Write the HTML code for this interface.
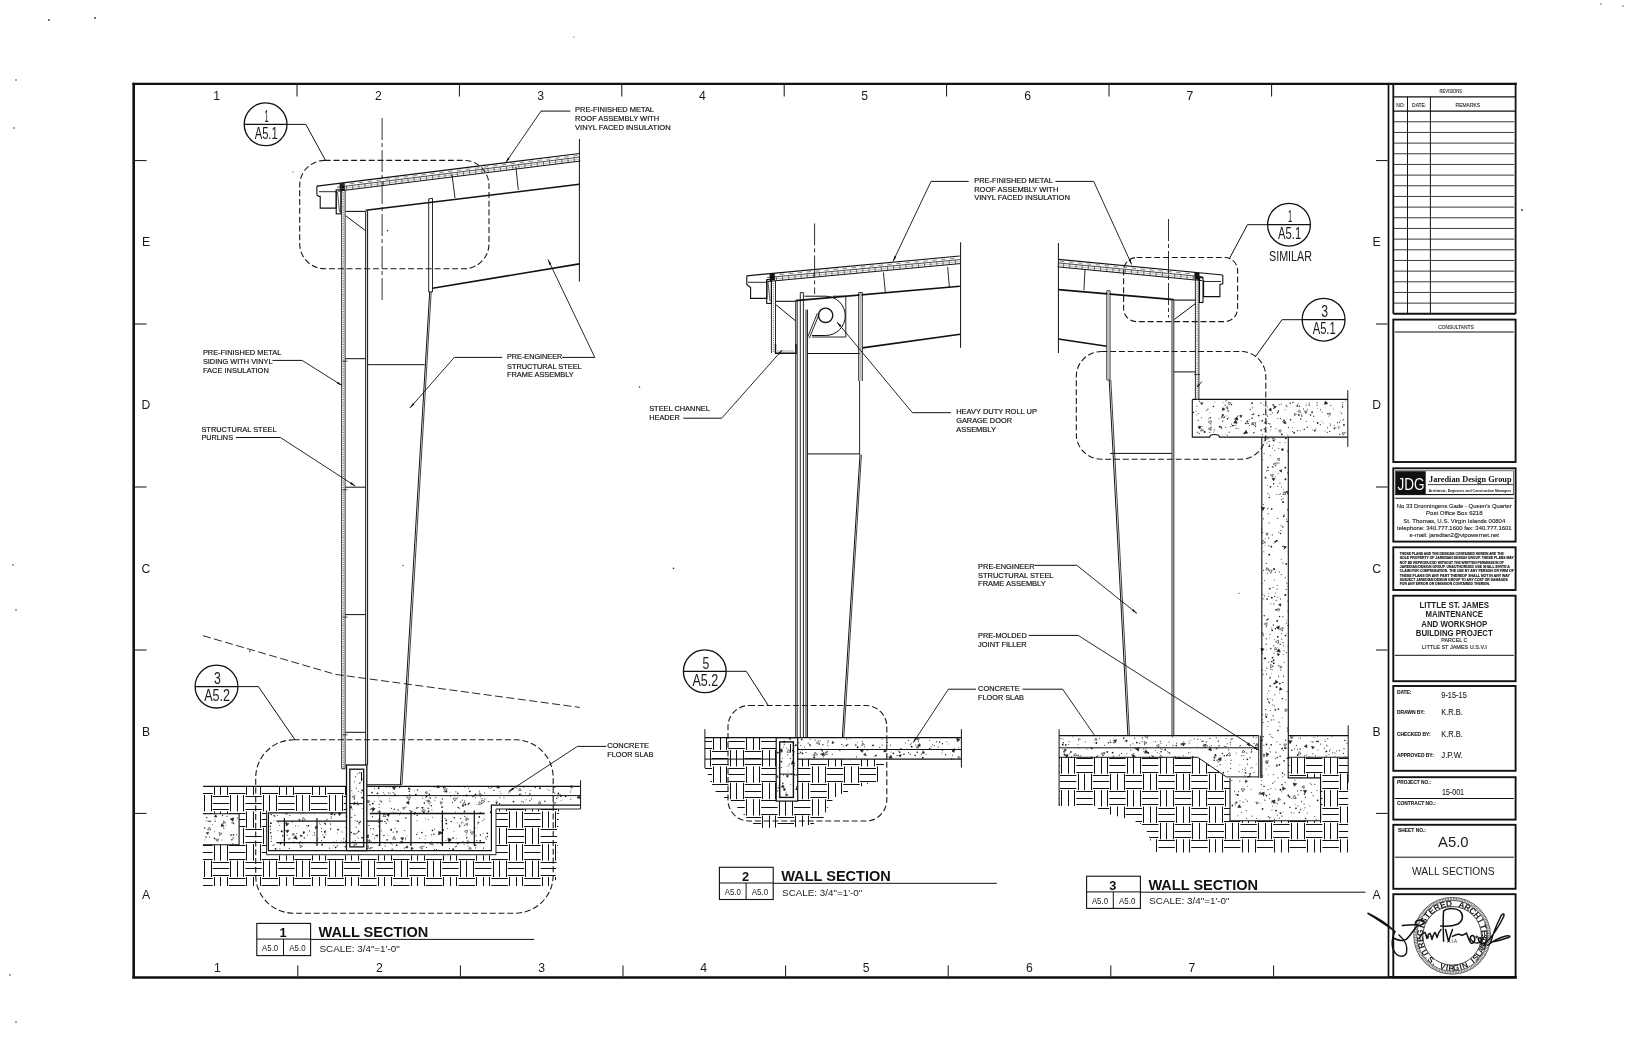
<!DOCTYPE html>
<html><head><meta charset="utf-8"><style>
html,body{margin:0;padding:0;background:#fff;}
svg{display:block;will-change:transform;}
</style></head><body>
<svg width="1627" height="1064" viewBox="0 0 1627 1064">
<defs></defs>
<rect width="1627" height="1064" fill="#fff"/>
<line x1="132.4" y1="83.8" x2="1516.7" y2="83.8" stroke="#111" stroke-width="2.3" stroke-linecap="butt"/>
<line x1="133.7" y1="82.7" x2="133.7" y2="978.3" stroke="#111" stroke-width="2.6" stroke-linecap="butt"/>
<line x1="132.4" y1="977.4" x2="1516.7" y2="977.4" stroke="#111" stroke-width="2.5" stroke-linecap="butt"/>
<line x1="1515.6" y1="82.7" x2="1515.6" y2="313.8" stroke="#111" stroke-width="1.8" stroke-linecap="butt"/>
<line x1="1388.5" y1="977" x2="1516.5" y2="977" stroke="#111" stroke-width="1.8" stroke-linecap="butt"/>
<line x1="1388.5" y1="83" x2="1388.5" y2="978" stroke="#111" stroke-width="1.7" stroke-linecap="butt"/>
<line x1="1393.3" y1="83" x2="1393.3" y2="313.8" stroke="#111" stroke-width="1.8" stroke-linecap="butt"/>
<line x1="297" y1="85" x2="297" y2="96.5" stroke="#111" stroke-width="1" stroke-linecap="butt"/>
<line x1="297.8" y1="965.5" x2="297.8" y2="976.5" stroke="#111" stroke-width="1" stroke-linecap="butt"/>
<line x1="459.4" y1="85" x2="459.4" y2="96.5" stroke="#111" stroke-width="1" stroke-linecap="butt"/>
<line x1="460.4" y1="965.5" x2="460.4" y2="976.5" stroke="#111" stroke-width="1" stroke-linecap="butt"/>
<line x1="621.8" y1="85" x2="621.8" y2="96.5" stroke="#111" stroke-width="1" stroke-linecap="butt"/>
<line x1="623" y1="965.5" x2="623" y2="976.5" stroke="#111" stroke-width="1" stroke-linecap="butt"/>
<line x1="784.2" y1="85" x2="784.2" y2="96.5" stroke="#111" stroke-width="1" stroke-linecap="butt"/>
<line x1="785.6" y1="965.5" x2="785.6" y2="976.5" stroke="#111" stroke-width="1" stroke-linecap="butt"/>
<line x1="946.6" y1="85" x2="946.6" y2="96.5" stroke="#111" stroke-width="1" stroke-linecap="butt"/>
<line x1="948.2" y1="965.5" x2="948.2" y2="976.5" stroke="#111" stroke-width="1" stroke-linecap="butt"/>
<line x1="1109" y1="85" x2="1109" y2="96.5" stroke="#111" stroke-width="1" stroke-linecap="butt"/>
<line x1="1110.8" y1="965.5" x2="1110.8" y2="976.5" stroke="#111" stroke-width="1" stroke-linecap="butt"/>
<line x1="1271.6" y1="85" x2="1271.6" y2="96.5" stroke="#111" stroke-width="1" stroke-linecap="butt"/>
<line x1="1273.6" y1="965.5" x2="1273.6" y2="976.5" stroke="#111" stroke-width="1" stroke-linecap="butt"/>
<line x1="135" y1="160.6" x2="146.5" y2="160.6" stroke="#111" stroke-width="1" stroke-linecap="butt"/>
<line x1="1376" y1="160.6" x2="1387.6" y2="160.6" stroke="#111" stroke-width="1" stroke-linecap="butt"/>
<line x1="135" y1="324" x2="146.5" y2="324" stroke="#111" stroke-width="1" stroke-linecap="butt"/>
<line x1="1376" y1="324" x2="1387.6" y2="324" stroke="#111" stroke-width="1" stroke-linecap="butt"/>
<line x1="135" y1="487" x2="146.5" y2="487" stroke="#111" stroke-width="1" stroke-linecap="butt"/>
<line x1="1376" y1="487" x2="1387.6" y2="487" stroke="#111" stroke-width="1" stroke-linecap="butt"/>
<line x1="135" y1="650" x2="146.5" y2="650" stroke="#111" stroke-width="1" stroke-linecap="butt"/>
<line x1="1376" y1="650" x2="1387.6" y2="650" stroke="#111" stroke-width="1" stroke-linecap="butt"/>
<line x1="135" y1="813.4" x2="146.5" y2="813.4" stroke="#111" stroke-width="1" stroke-linecap="butt"/>
<line x1="1376" y1="813.4" x2="1387.6" y2="813.4" stroke="#111" stroke-width="1" stroke-linecap="butt"/>
<text x="216.6" y="99.5" font-family="Liberation Sans" font-size="12.2" font-weight="normal" fill="#1a1a1a" text-anchor="middle">1</text>
<text x="217.3" y="971.6" font-family="Liberation Sans" font-size="12.2" font-weight="normal" fill="#1a1a1a" text-anchor="middle">1</text>
<text x="378.5" y="99.5" font-family="Liberation Sans" font-size="12.2" font-weight="normal" fill="#1a1a1a" text-anchor="middle">2</text>
<text x="379.4" y="971.6" font-family="Liberation Sans" font-size="12.2" font-weight="normal" fill="#1a1a1a" text-anchor="middle">2</text>
<text x="540.6" y="99.5" font-family="Liberation Sans" font-size="12.2" font-weight="normal" fill="#1a1a1a" text-anchor="middle">3</text>
<text x="541.7" y="971.6" font-family="Liberation Sans" font-size="12.2" font-weight="normal" fill="#1a1a1a" text-anchor="middle">3</text>
<text x="702.4" y="99.5" font-family="Liberation Sans" font-size="12.2" font-weight="normal" fill="#1a1a1a" text-anchor="middle">4</text>
<text x="703.7" y="971.6" font-family="Liberation Sans" font-size="12.2" font-weight="normal" fill="#1a1a1a" text-anchor="middle">4</text>
<text x="864.7" y="99.5" font-family="Liberation Sans" font-size="12.2" font-weight="normal" fill="#1a1a1a" text-anchor="middle">5</text>
<text x="866.2" y="971.6" font-family="Liberation Sans" font-size="12.2" font-weight="normal" fill="#1a1a1a" text-anchor="middle">5</text>
<text x="1027.6" y="99.5" font-family="Liberation Sans" font-size="12.2" font-weight="normal" fill="#1a1a1a" text-anchor="middle">6</text>
<text x="1029.3" y="971.6" font-family="Liberation Sans" font-size="12.2" font-weight="normal" fill="#1a1a1a" text-anchor="middle">6</text>
<text x="1190" y="99.5" font-family="Liberation Sans" font-size="12.2" font-weight="normal" fill="#1a1a1a" text-anchor="middle">7</text>
<text x="1191.9" y="971.6" font-family="Liberation Sans" font-size="12.2" font-weight="normal" fill="#1a1a1a" text-anchor="middle">7</text>
<text x="146" y="246.3" font-family="Liberation Sans" font-size="12.2" font-weight="normal" fill="#1a1a1a" text-anchor="middle">E</text>
<text x="1376.6" y="246.3" font-family="Liberation Sans" font-size="12.2" font-weight="normal" fill="#1a1a1a" text-anchor="middle">E</text>
<text x="146" y="409.3" font-family="Liberation Sans" font-size="12.2" font-weight="normal" fill="#1a1a1a" text-anchor="middle">D</text>
<text x="1376.6" y="409.3" font-family="Liberation Sans" font-size="12.2" font-weight="normal" fill="#1a1a1a" text-anchor="middle">D</text>
<text x="146" y="572.7" font-family="Liberation Sans" font-size="12.2" font-weight="normal" fill="#1a1a1a" text-anchor="middle">C</text>
<text x="1376.6" y="572.7" font-family="Liberation Sans" font-size="12.2" font-weight="normal" fill="#1a1a1a" text-anchor="middle">C</text>
<text x="146" y="735.9" font-family="Liberation Sans" font-size="12.2" font-weight="normal" fill="#1a1a1a" text-anchor="middle">B</text>
<text x="1376.6" y="735.9" font-family="Liberation Sans" font-size="12.2" font-weight="normal" fill="#1a1a1a" text-anchor="middle">B</text>
<text x="146" y="899.1" font-family="Liberation Sans" font-size="12.2" font-weight="normal" fill="#1a1a1a" text-anchor="middle">A</text>
<text x="1376.6" y="899.1" font-family="Liberation Sans" font-size="12.2" font-weight="normal" fill="#1a1a1a" text-anchor="middle">A</text>
<line x1="1393.3" y1="96.8" x2="1515.6" y2="96.8" stroke="#111" stroke-width="1.2" stroke-linecap="butt"/>
<line x1="1393.3" y1="111.1" x2="1515.6" y2="111.1" stroke="#111" stroke-width="1.2" stroke-linecap="butt"/>
<text x="1450.8" y="92.8" font-family="Liberation Sans" font-size="5" font-weight="normal" fill="#222" text-anchor="middle" textLength="22.5" lengthAdjust="spacingAndGlyphs" stroke="#222" stroke-width="0.1">REVISIONS</text>
<text x="1396.2" y="106.6" font-family="Liberation Sans" font-size="5" font-weight="normal" fill="#222" text-anchor="start" textLength="8.8" lengthAdjust="spacingAndGlyphs" stroke="#222" stroke-width="0.1">NO:</text>
<text x="1412.1" y="106.6" font-family="Liberation Sans" font-size="5" font-weight="normal" fill="#222" text-anchor="start" textLength="14.2" lengthAdjust="spacingAndGlyphs" stroke="#222" stroke-width="0.1">DATE:</text>
<text x="1455.6" y="106.6" font-family="Liberation Sans" font-size="5" font-weight="normal" fill="#222" text-anchor="start" textLength="24.5" lengthAdjust="spacingAndGlyphs" stroke="#222" stroke-width="0.1">REMARKS</text>
<line x1="1407.5" y1="96.8" x2="1407.5" y2="313.8" stroke="#111" stroke-width="1" stroke-linecap="butt"/>
<line x1="1430.4" y1="96.8" x2="1430.4" y2="313.8" stroke="#111" stroke-width="1" stroke-linecap="butt"/>
<line x1="1393.3" y1="121.77" x2="1514.1" y2="121.77" stroke="#222" stroke-width="0.9" stroke-linecap="butt"/>
<line x1="1393.3" y1="132.44" x2="1514.1" y2="132.44" stroke="#222" stroke-width="0.9" stroke-linecap="butt"/>
<line x1="1393.3" y1="143.11" x2="1514.1" y2="143.11" stroke="#222" stroke-width="0.9" stroke-linecap="butt"/>
<line x1="1393.3" y1="153.77" x2="1514.1" y2="153.77" stroke="#222" stroke-width="0.9" stroke-linecap="butt"/>
<line x1="1393.3" y1="164.44" x2="1514.1" y2="164.44" stroke="#222" stroke-width="0.9" stroke-linecap="butt"/>
<line x1="1393.3" y1="175.11" x2="1514.1" y2="175.11" stroke="#222" stroke-width="0.9" stroke-linecap="butt"/>
<line x1="1393.3" y1="185.78" x2="1514.1" y2="185.78" stroke="#222" stroke-width="0.9" stroke-linecap="butt"/>
<line x1="1393.3" y1="196.45" x2="1514.1" y2="196.45" stroke="#222" stroke-width="0.9" stroke-linecap="butt"/>
<line x1="1393.3" y1="207.12" x2="1514.1" y2="207.12" stroke="#222" stroke-width="0.9" stroke-linecap="butt"/>
<line x1="1393.3" y1="217.78" x2="1514.1" y2="217.78" stroke="#222" stroke-width="0.9" stroke-linecap="butt"/>
<line x1="1393.3" y1="228.45" x2="1514.1" y2="228.45" stroke="#222" stroke-width="0.9" stroke-linecap="butt"/>
<line x1="1393.3" y1="239.12" x2="1514.1" y2="239.12" stroke="#222" stroke-width="0.9" stroke-linecap="butt"/>
<line x1="1393.3" y1="249.79" x2="1514.1" y2="249.79" stroke="#222" stroke-width="0.9" stroke-linecap="butt"/>
<line x1="1393.3" y1="260.46" x2="1514.1" y2="260.46" stroke="#222" stroke-width="0.9" stroke-linecap="butt"/>
<line x1="1393.3" y1="271.13" x2="1514.1" y2="271.13" stroke="#222" stroke-width="0.9" stroke-linecap="butt"/>
<line x1="1393.3" y1="281.79" x2="1514.1" y2="281.79" stroke="#222" stroke-width="0.9" stroke-linecap="butt"/>
<line x1="1393.3" y1="292.46" x2="1514.1" y2="292.46" stroke="#222" stroke-width="0.9" stroke-linecap="butt"/>
<line x1="1393.3" y1="303.13" x2="1514.1" y2="303.13" stroke="#222" stroke-width="0.9" stroke-linecap="butt"/>
<line x1="1393.3" y1="313.8" x2="1515.6" y2="313.8" stroke="#111" stroke-width="2" stroke-linecap="butt"/>
<rect x="1393.3" y="319.6" width="122.3" height="142.4" fill="none" stroke="#111" stroke-width="1.9"/>
<line x1="1394.8" y1="332" x2="1513.9" y2="332" stroke="#111" stroke-width="1" stroke-linecap="butt"/>
<text x="1456" y="328.6" font-family="Liberation Sans" font-size="5" font-weight="normal" fill="#222" text-anchor="middle" textLength="35.5" lengthAdjust="spacingAndGlyphs" stroke="#222" stroke-width="0.1">CONSULTANTS</text>
<rect x="1393.3" y="468.3" width="122.3" height="73.3" fill="none" stroke="#111" stroke-width="1.9"/>
<rect x="1395.6" y="471.2" width="30.1" height="23.2" fill="#111" stroke="#111" stroke-width="0"/>
<text x="1410.9" y="489.6" font-family="Liberation Sans" font-size="17" font-weight="normal" fill="#fff" text-anchor="middle" textLength="27" lengthAdjust="spacingAndGlyphs">JDG</text>
<text x="1429" y="481.6" font-family="Liberation Serif" font-size="9.2" font-weight="bold" fill="#111" text-anchor="start" textLength="82.5" lengthAdjust="spacingAndGlyphs">Jaredian Design Group</text>
<line x1="1428" y1="484.6" x2="1513" y2="484.6" stroke="#111" stroke-width="0.8" stroke-linecap="butt"/>
<text x="1428.8" y="491.6" font-family="Liberation Sans" font-size="4.4" font-weight="bold" fill="#111" text-anchor="start" textLength="82.5" lengthAdjust="spacingAndGlyphs">Architects, Engineers and Construction Managers</text>
<rect x="1395.6" y="470.8" width="118" height="23.8" fill="none" stroke="#333" stroke-width="0.7"/>
<line x1="1395.2" y1="494.6" x2="1513.8" y2="494.6" stroke="#111" stroke-width="1" stroke-linecap="butt"/>
<line x1="1395.2" y1="498.3" x2="1513.8" y2="498.3" stroke="#111" stroke-width="1.1" stroke-linecap="butt"/>
<text x="1454.3" y="508.3" font-family="Liberation Sans" font-size="6" font-weight="normal" fill="#1a1a1a" text-anchor="middle" textLength="115" lengthAdjust="spacingAndGlyphs" stroke="#1a1a1a" stroke-width="0.12">No 33 Dronningens Gade - Queen's Quarter</text>
<text x="1454.3" y="515.4" font-family="Liberation Sans" font-size="6" font-weight="normal" fill="#1a1a1a" text-anchor="middle" textLength="56.5" lengthAdjust="spacingAndGlyphs" stroke="#1a1a1a" stroke-width="0.12">Post Office Box 6218</text>
<text x="1454.3" y="522.5" font-family="Liberation Sans" font-size="6" font-weight="normal" fill="#1a1a1a" text-anchor="middle" textLength="102" lengthAdjust="spacingAndGlyphs" stroke="#1a1a1a" stroke-width="0.12">St. Thomas, U.S. Virgin Islands 00804</text>
<text x="1454.3" y="529.6" font-family="Liberation Sans" font-size="6" font-weight="normal" fill="#1a1a1a" text-anchor="middle" textLength="114.5" lengthAdjust="spacingAndGlyphs" stroke="#1a1a1a" stroke-width="0.12">telephone: 340.777.1600 fax: 340.777.1601</text>
<text x="1454.3" y="536.9" font-family="Liberation Sans" font-size="6" font-weight="normal" fill="#1a1a1a" text-anchor="middle" textLength="89.5" lengthAdjust="spacingAndGlyphs" stroke="#1a1a1a" stroke-width="0.12">e-mail: jaredian2@vipowernet.net</text>
<rect x="1393.3" y="547.3" width="122.3" height="42.7" fill="none" stroke="#111" stroke-width="1.9"/>
<text x="1399.8" y="555" font-family="Liberation Sans" font-size="3.6" font-weight="bold" fill="#111" text-anchor="start" textLength="104" lengthAdjust="spacingAndGlyphs" stroke="#111" stroke-width="0.12">THESE PLANS AND THE DESIGNS CONTAINED HEREIN ARE THE</text>
<text x="1399.8" y="559.3" font-family="Liberation Sans" font-size="3.6" font-weight="bold" fill="#111" text-anchor="start" textLength="114" lengthAdjust="spacingAndGlyphs" stroke="#111" stroke-width="0.12">SOLE PROPERTY OF JAREDIAN DESIGN GROUP.  THESE PLANS MAY</text>
<text x="1399.8" y="563.6" font-family="Liberation Sans" font-size="3.6" font-weight="bold" fill="#111" text-anchor="start" textLength="104" lengthAdjust="spacingAndGlyphs" stroke="#111" stroke-width="0.12">NOT BE REPRODUCED WITHOUT THE WRITTEN PERMISSION OF</text>
<text x="1399.8" y="567.9" font-family="Liberation Sans" font-size="3.6" font-weight="bold" fill="#111" text-anchor="start" textLength="110" lengthAdjust="spacingAndGlyphs" stroke="#111" stroke-width="0.12">JAREDIAN DESIGN GROUP. UNAUTHORIZED USE SHALL INVITE A</text>
<text x="1399.8" y="572.2" font-family="Liberation Sans" font-size="3.6" font-weight="bold" fill="#111" text-anchor="start" textLength="114" lengthAdjust="spacingAndGlyphs" stroke="#111" stroke-width="0.12">CLAIM FOR COMPENSATION. THE USE BY ANY PERSON OR FIRM OF</text>
<text x="1399.8" y="576.5" font-family="Liberation Sans" font-size="3.6" font-weight="bold" fill="#111" text-anchor="start" textLength="110" lengthAdjust="spacingAndGlyphs" stroke="#111" stroke-width="0.12">THESE PLANS OR ANY PART THEREOF SHALL NOT IN ANY WAY</text>
<text x="1399.8" y="580.8" font-family="Liberation Sans" font-size="3.6" font-weight="bold" fill="#111" text-anchor="start" textLength="108" lengthAdjust="spacingAndGlyphs" stroke="#111" stroke-width="0.12">SUBJECT JAREDIAN DESIGN GROUP TO ANY COST OR DAMAGES</text>
<text x="1399.8" y="585.1" font-family="Liberation Sans" font-size="3.6" font-weight="bold" fill="#111" text-anchor="start" textLength="90" lengthAdjust="spacingAndGlyphs" stroke="#111" stroke-width="0.12">FOR ANY ERROR OR OMISSION CONTAINED THEREIN.</text>
<rect x="1393.3" y="595.7" width="122.3" height="85.5" fill="none" stroke="#111" stroke-width="1.9"/>
<line x1="1394.8" y1="655.3" x2="1513.9" y2="655.3" stroke="#111" stroke-width="1" stroke-linecap="butt"/>
<text x="1454.3" y="608.2" font-family="Liberation Sans" font-size="8.6" font-weight="bold" fill="#222" text-anchor="middle" textLength="69.5" lengthAdjust="spacingAndGlyphs">LITTLE ST. JAMES</text>
<text x="1454.3" y="617.3" font-family="Liberation Sans" font-size="8.6" font-weight="bold" fill="#222" text-anchor="middle" textLength="57.5" lengthAdjust="spacingAndGlyphs">MAINTENANCE</text>
<text x="1454.3" y="626.5" font-family="Liberation Sans" font-size="8.6" font-weight="bold" fill="#222" text-anchor="middle" textLength="66" lengthAdjust="spacingAndGlyphs">AND WORKSHOP</text>
<text x="1454.3" y="635.6" font-family="Liberation Sans" font-size="8.6" font-weight="bold" fill="#222" text-anchor="middle" textLength="77" lengthAdjust="spacingAndGlyphs">BUILDING PROJECT</text>
<text x="1454.3" y="642.4" font-family="Liberation Sans" font-size="5.6" font-weight="normal" fill="#222" text-anchor="middle" textLength="26" lengthAdjust="spacingAndGlyphs" stroke="#222" stroke-width="0.15">PARCEL C</text>
<text x="1454.3" y="649.4" font-family="Liberation Sans" font-size="5.6" font-weight="normal" fill="#222" text-anchor="middle" textLength="65" lengthAdjust="spacingAndGlyphs" stroke="#222" stroke-width="0.15">LITTLE ST JAMES  U.S.V.I</text>
<rect x="1393.3" y="686" width="122.3" height="84.8" fill="none" stroke="#111" stroke-width="1.9"/>
<text x="1396.9" y="694.4" font-family="Liberation Sans" font-size="5" font-weight="bold" fill="#222" text-anchor="start" textLength="14.6" lengthAdjust="spacingAndGlyphs" stroke="#222" stroke-width="0.12">DATE:</text>
<text x="1396.9" y="714.2" font-family="Liberation Sans" font-size="5" font-weight="bold" fill="#222" text-anchor="start" textLength="28" lengthAdjust="spacingAndGlyphs" stroke="#222" stroke-width="0.12">DRAWN BY:</text>
<text x="1396.9" y="735.6" font-family="Liberation Sans" font-size="5" font-weight="bold" fill="#222" text-anchor="start" textLength="33.7" lengthAdjust="spacingAndGlyphs" stroke="#222" stroke-width="0.12">CHECKED BY:</text>
<text x="1396.9" y="757" font-family="Liberation Sans" font-size="5" font-weight="bold" fill="#222" text-anchor="start" textLength="37" lengthAdjust="spacingAndGlyphs" stroke="#222" stroke-width="0.12">APPROVED BY:</text>
<text x="1441.3" y="698.2" font-family="Liberation Sans" font-size="8.2" font-weight="normal" fill="#222" text-anchor="start" textLength="25.5" lengthAdjust="spacingAndGlyphs" stroke="#222" stroke-width="0.1">9-15-15</text>
<text x="1441.3" y="715.3" font-family="Liberation Sans" font-size="8.2" font-weight="normal" fill="#222" text-anchor="start" textLength="21.5" lengthAdjust="spacingAndGlyphs" stroke="#222" stroke-width="0.1">K.R.B.</text>
<text x="1441.3" y="736.9" font-family="Liberation Sans" font-size="8.2" font-weight="normal" fill="#222" text-anchor="start" textLength="21.5" lengthAdjust="spacingAndGlyphs" stroke="#222" stroke-width="0.1">K.R.B.</text>
<text x="1441.3" y="758.2" font-family="Liberation Sans" font-size="8.2" font-weight="normal" fill="#222" text-anchor="start" textLength="21.5" lengthAdjust="spacingAndGlyphs" stroke="#222" stroke-width="0.1">J.P.W.</text>
<rect x="1393.3" y="777.2" width="122.3" height="42.4" fill="none" stroke="#111" stroke-width="1.9"/>
<line x1="1394.8" y1="798.5" x2="1513.9" y2="798.5" stroke="#111" stroke-width="1" stroke-linecap="butt"/>
<text x="1397.1" y="784" font-family="Liberation Sans" font-size="5" font-weight="bold" fill="#222" text-anchor="start" textLength="34" lengthAdjust="spacingAndGlyphs" stroke="#222" stroke-width="0.12">PROJECT NO.:</text>
<text x="1442" y="794.6" font-family="Liberation Sans" font-size="8.2" font-weight="normal" fill="#222" text-anchor="start" textLength="22" lengthAdjust="spacingAndGlyphs" stroke="#222" stroke-width="0.1">15-001</text>
<text x="1397.1" y="804.6" font-family="Liberation Sans" font-size="5" font-weight="bold" fill="#222" text-anchor="start" textLength="38.7" lengthAdjust="spacingAndGlyphs" stroke="#222" stroke-width="0.12">CONTRACT NO.:</text>
<rect x="1393.3" y="824.8" width="122.3" height="64" fill="none" stroke="#111" stroke-width="1.9"/>
<line x1="1394.8" y1="857.2" x2="1513.9" y2="857.2" stroke="#111" stroke-width="1" stroke-linecap="butt"/>
<text x="1398" y="832.3" font-family="Liberation Sans" font-size="5" font-weight="bold" fill="#222" text-anchor="start" textLength="28" lengthAdjust="spacingAndGlyphs" stroke="#222" stroke-width="0.12">SHEET NO.:</text>
<text x="1453.3" y="847.2" font-family="Liberation Sans" font-size="14.4" font-weight="normal" fill="#1a1a1a" text-anchor="middle" textLength="30.5" lengthAdjust="spacingAndGlyphs">A5.0</text>
<text x="1453.3" y="875" font-family="Liberation Sans" font-size="11.2" font-weight="normal" fill="#1a1a1a" text-anchor="middle" textLength="82.5" lengthAdjust="spacingAndGlyphs">WALL SECTIONS</text>
<rect x="1393.3" y="894.2" width="122.3" height="83.1" fill="none" stroke="#111" stroke-width="1.9"/>
<path d="M203.0 786.5H212.6M203.0 793.5H212.6M204.5 795.0V811.4M211.5 795.0V811.4M203.0 813.5H212.6M203.0 819.5H212.6M203.0 826.5H212.6M204.5 827.8V844.2M211.5 827.8V844.2M203.0 845.5H212.6M203.0 852.5H212.6M203.0 859.5H212.6M204.5 860.6V877.0M211.5 860.6V877.0M203.0 878.5H212.6M203.0 885.5H212.6M214.5 786.4V795.0M220.5 786.4V795.0M227.5 786.4V795.0M229.0 786.5H245.4M229.0 793.5H245.4M212.6 796.5H229.0M212.6 803.5H229.0M212.6 809.5H229.0M230.5 795.0V811.4M237.5 795.0V811.4M243.5 795.0V811.4M214.5 811.4V827.8M220.5 811.4V827.8M227.5 811.4V827.8M229.0 813.5H245.4M229.0 819.5H245.4M229.0 826.5H245.4M212.6 829.5H229.0M212.6 836.5H229.0M212.6 842.5H229.0M230.5 827.8V844.2M237.5 827.8V844.2M243.5 827.8V844.2M214.5 844.2V860.6M220.5 844.2V860.6M227.5 844.2V860.6M229.0 845.5H245.4M229.0 852.5H245.4M229.0 859.5H245.4M212.6 862.5H229.0M212.6 868.5H229.0M212.6 875.5H229.0M230.5 860.6V877.0M237.5 860.6V877.0M243.5 860.6V877.0M214.5 877.0V886.0M220.5 877.0V886.0M227.5 877.0V886.0M229.0 878.5H245.4M229.0 885.5H245.4M246.5 786.4V795.0M253.5 786.4V795.0M260.5 786.4V795.0M261.8 786.5H278.2M261.8 793.5H278.2M245.4 796.5H261.8M245.4 803.5H261.8M245.4 809.5H261.8M263.5 795.0V811.4M269.5 795.0V811.0M276.5 795.0V811.0M246.5 811.4V827.8M253.5 811.4V827.8M260.5 811.4V827.8M261.8 813.5H266.6M261.8 819.5H266.6M261.8 826.5H266.6M245.4 829.5H261.8M245.4 836.5H261.8M245.4 842.5H261.8M263.5 827.8V844.2M246.5 844.2V860.6M253.5 844.2V860.6M260.5 844.2V860.6M261.8 845.5H266.6M261.8 852.5H266.6M261.8 859.5H278.2M245.4 862.5H261.8M245.4 868.5H261.8M245.4 875.5H261.8M263.5 860.6V877.0M269.5 860.6V877.0M276.5 860.6V877.0M246.5 877.0V886.0M253.5 877.0V886.0M260.5 877.0V886.0M261.8 878.5H278.2M261.8 885.5H278.2M279.5 786.4V795.0M286.5 786.4V795.0M293.5 786.4V795.0M294.6 786.5H311.0M294.6 793.5H311.0M278.2 796.5H294.6M278.2 803.5H294.6M278.2 809.5H294.6M296.5 795.0V811.0M302.5 795.0V811.0M309.5 795.0V811.0M279.5 855.4V860.6M286.5 855.4V860.6M293.5 855.4V860.6M294.6 859.5H311.0M278.2 862.5H294.6M278.2 868.5H294.6M278.2 875.5H294.6M296.5 860.6V877.0M302.5 860.6V877.0M309.5 860.6V877.0M279.5 877.0V886.0M286.5 877.0V886.0M293.5 877.0V886.0M294.6 878.5H311.0M294.6 885.5H311.0M312.5 786.4V795.0M319.5 786.4V795.0M325.5 786.4V795.0M327.4 786.5H343.8M327.4 793.5H343.8M311.0 796.5H327.4M311.0 803.5H327.4M311.0 809.5H327.4M329.5 795.0V811.0M335.5 795.0V811.0M342.5 795.0V811.0M312.5 855.4V860.6M319.5 855.4V860.6M325.5 855.4V860.6M327.4 859.5H343.8M311.0 862.5H327.4M311.0 868.5H327.4M311.0 875.5H327.4M329.5 860.6V877.0M335.5 860.6V877.0M342.5 860.6V877.0M312.5 877.0V886.0M319.5 877.0V886.0M325.5 877.0V886.0M327.4 878.5H343.8M327.4 885.5H343.8M345.5 786.4V795.0M343.8 796.5H346.5M343.8 803.5H346.5M343.8 809.5H346.5M345.5 855.4V860.6M351.5 855.4V860.6M358.5 855.4V860.6M360.2 859.5H376.6M343.8 862.5H360.2M343.8 868.5H360.2M343.8 875.5H360.2M361.5 860.6V877.0M368.5 860.6V877.0M374.5 860.6V877.0M345.5 877.0V886.0M351.5 877.0V886.0M358.5 877.0V886.0M360.2 878.5H376.6M360.2 885.5H376.6M378.5 855.4V860.6M384.5 855.4V860.6M391.5 855.4V860.6M393.0 859.5H409.4M376.6 862.5H393.0M376.6 868.5H393.0M376.6 875.5H393.0M394.5 860.6V877.0M401.5 860.6V877.0M407.5 860.6V877.0M378.5 877.0V886.0M384.5 877.0V886.0M391.5 877.0V886.0M393.0 878.5H409.4M393.0 885.5H409.4M411.5 855.4V860.6M417.5 855.4V860.6M424.5 855.4V860.6M425.8 859.5H442.2M409.4 862.5H425.8M409.4 868.5H425.8M409.4 875.5H425.8M427.5 860.6V877.0M433.5 860.6V877.0M440.5 860.6V877.0M411.5 877.0V886.0M417.5 877.0V886.0M424.5 877.0V886.0M425.8 878.5H442.2M425.8 885.5H442.2M443.5 855.4V860.6M450.5 855.4V860.6M456.5 855.4V860.6M458.6 859.5H475.0M442.2 862.5H458.6M442.2 868.5H458.6M442.2 875.5H458.6M460.5 860.6V877.0M466.5 860.6V877.0M473.5 860.6V877.0M443.5 877.0V886.0M450.5 877.0V886.0M456.5 877.0V886.0M458.6 878.5H475.0M458.6 885.5H475.0M499.5 809.0V811.4M506.5 809.0V811.4M496.0 813.5H507.8M496.0 819.5H507.8M496.0 826.5H507.8M499.5 827.8V844.2M506.5 827.8V844.2M476.5 855.4V860.6M483.5 855.4V860.6M489.5 855.4V860.6M496.0 845.5H507.8M496.0 852.5H507.8M491.4 859.5H507.8M475.0 862.5H491.4M475.0 868.5H491.4M475.0 875.5H491.4M493.5 860.6V877.0M499.5 860.6V877.0M506.5 860.6V877.0M476.5 877.0V886.0M483.5 877.0V886.0M489.5 877.0V886.0M491.4 878.5H507.8M491.4 885.5H507.8M507.8 809.5H524.2M525.5 809.0V811.4M532.5 809.0V811.4M538.5 809.0V811.4M509.5 811.4V827.8M516.5 811.4V827.8M522.5 811.4V827.8M524.2 813.5H540.6M524.2 819.5H540.6M524.2 826.5H540.6M507.8 829.5H524.2M507.8 836.5H524.2M507.8 842.5H524.2M525.5 827.8V844.2M532.5 827.8V844.2M538.5 827.8V844.2M509.5 844.2V860.6M516.5 844.2V860.6M522.5 844.2V860.6M524.2 845.5H540.6M524.2 852.5H540.6M524.2 859.5H540.6M507.8 862.5H524.2M507.8 868.5H524.2M507.8 875.5H524.2M525.5 860.6V877.0M532.5 860.6V877.0M538.5 860.6V877.0M509.5 877.0V886.0M516.5 877.0V886.0M522.5 877.0V886.0M524.2 878.5H540.6M524.2 885.5H540.6M540.6 809.5H557.0M558.5 809.0V811.4M542.5 811.4V827.8M548.5 811.4V827.8M555.5 811.4V827.8M557.0 813.5H558.9M557.0 819.5H558.6M557.0 826.5H558.4M540.6 829.5H557.0M540.6 836.5H557.0M540.6 842.5H557.0M542.5 844.2V860.6M548.5 844.2V860.6M555.5 844.2V860.6M557.0 845.5H557.7M557.0 852.5H557.3M540.6 862.5H556.7M540.6 868.5H556.2M540.6 875.5H555.7M542.5 877.0V886.0M548.5 877.0V886.0M555.5 877.0V880.2" stroke="#111" stroke-width="1" fill="none"/>
<polygon points="203,813.7 239.1,813.7 239.1,844.7 203,844.7" fill="#fff" stroke="none" stroke-width="0"/>
<g><circle cx="215.04" cy="819.07" r="0.46" fill="#333"/><polygon points="223.93,825.7 221.1,826.54 221.79,823.67" fill="#222" stroke="#222" stroke-width="0.6"/><circle cx="206.38" cy="817.33" r="0.62" fill="#333"/><circle cx="208.22" cy="821.17" r="0.64" fill="#333"/><circle cx="223.68" cy="826.2" r="0.46" fill="#333"/><circle cx="233.27" cy="823.1" r="0.73" fill="#1a1a1a"/><circle cx="214.52" cy="838.37" r="0.85" fill="#1a1a1a"/><circle cx="225.79" cy="825.5" r="0.46" fill="#333"/><circle cx="206.03" cy="820.67" r="0.54" fill="#333"/><circle cx="214.71" cy="831.68" r="0.51" fill="#333"/><circle cx="231.09" cy="834.97" r="0.84" fill="#1a1a1a"/><circle cx="221.91" cy="840.08" r="0.51" fill="#333"/><circle cx="237.42" cy="818.12" r="0.6" fill="#333"/><polygon points="209.35,827.05 210.68,829.93 207.52,829.65" fill="none" stroke="#222" stroke-width="0.6"/><circle cx="233.85" cy="823.8" r="0.57" fill="#333"/><circle cx="223.77" cy="827.93" r="0.64" fill="#333"/><polygon points="219.04,832.48 222.01,833.73 219.45,835.68" fill="none" stroke="#222" stroke-width="0.6"/><circle cx="232.03" cy="822.95" r="0.58" fill="#333"/><circle cx="204.77" cy="828.09" r="0.73" fill="#1a1a1a"/><circle cx="206.01" cy="836.98" r="0.76" fill="#1a1a1a"/><polygon points="215.75,839.47 218.56,838.85 217.69,841.59" fill="none" stroke="#222" stroke-width="0.6"/><circle cx="231.94" cy="839.76" r="0.8" fill="#1a1a1a"/><circle cx="216.23" cy="840.34" r="0.48" fill="#333"/><circle cx="210.01" cy="821.43" r="0.82" fill="#1a1a1a"/><polygon points="222.98,823.52 223.61,820.76 225.68,822.68" fill="none" stroke="#222" stroke-width="0.6"/><circle cx="236.5" cy="834.72" r="0.57" fill="#333"/><circle cx="227.06" cy="816.27" r="0.61" fill="#333"/><circle cx="233.82" cy="837.84" r="0.53" fill="#333"/><polygon points="207.88,834.4 206.22,832.74 208.49,832.14" fill="#222" stroke="#222" stroke-width="0.6"/><polygon points="216.74,817.07 214.29,816.79 215.76,814.81" fill="#222" stroke="#222" stroke-width="0.6"/><circle cx="204.87" cy="840.06" r="0.48" fill="#333"/><circle cx="212.6" cy="824.77" r="0.47" fill="#333"/><circle cx="232.95" cy="843.5" r="0.55" fill="#333"/><circle cx="206.93" cy="817.66" r="0.5" fill="#333"/><polygon points="230.23,819.02 233.59,817.8 232.97,821.32" fill="#222" stroke="#222" stroke-width="0.6"/><circle cx="222.52" cy="815.48" r="0.65" fill="#333"/><circle cx="233.44" cy="834.89" r="0.79" fill="#1a1a1a"/><circle cx="209.7" cy="837.09" r="0.61" fill="#333"/><circle cx="215.24" cy="821.17" r="0.65" fill="#333"/><circle cx="233.07" cy="838.08" r="0.6" fill="#333"/></g>
<polyline points="203,813.7 239.1,813.7 239.1,844.7 203,844.7" fill="none" stroke="#111" stroke-width="1.1" stroke-linejoin="miter"/>
<polygon points="346.5,765 366.8,765 366.8,786.4 580.6,786.4 580.6,805.1 491.4,805.1 491.4,850.6 268.4,850.6 268.4,812.9 346.5,812.9" fill="#fff" stroke="none" stroke-width="0"/>
<g><circle cx="349.8" cy="823.89" r="0.54" fill="#333"/><circle cx="565.64" cy="796.48" r="0.76" fill="#1a1a1a"/><circle cx="462.99" cy="841.27" r="0.55" fill="#333"/><polygon points="473.49,831.86 472.04,834.68 470.33,832.01" fill="none" stroke="#222" stroke-width="0.6"/><circle cx="324.78" cy="831.97" r="0.9" fill="#1a1a1a"/><circle cx="570.81" cy="799.09" r="0.64" fill="#333"/><circle cx="314.74" cy="835.1" r="0.58" fill="#333"/><circle cx="378.1" cy="811.87" r="0.7" fill="#1a1a1a"/><circle cx="432.75" cy="844.05" r="0.62" fill="#333"/><circle cx="347.52" cy="790.49" r="0.85" fill="#1a1a1a"/><circle cx="349.85" cy="801.03" r="0.93" fill="#1a1a1a"/><circle cx="379.14" cy="804.3" r="0.63" fill="#333"/><circle cx="399.88" cy="842.72" r="0.56" fill="#333"/><circle cx="270.62" cy="832.81" r="0.82" fill="#1a1a1a"/><circle cx="370.52" cy="809.33" r="0.61" fill="#333"/><circle cx="443.65" cy="829.54" r="0.54" fill="#333"/><circle cx="459.41" cy="808.26" r="0.59" fill="#333"/><circle cx="409.72" cy="810.58" r="0.64" fill="#333"/><circle cx="486.3" cy="839.28" r="0.5" fill="#333"/><circle cx="442.96" cy="844.86" r="0.48" fill="#333"/><circle cx="292.08" cy="821.97" r="0.63" fill="#333"/><circle cx="317.31" cy="825.87" r="0.48" fill="#333"/><circle cx="337.52" cy="845.63" r="0.55" fill="#333"/><circle cx="429.34" cy="794.35" r="0.78" fill="#1a1a1a"/><polygon points="440.15,801.73 442.77,802.4 440.88,804.34" fill="none" stroke="#222" stroke-width="0.6"/><circle cx="289.34" cy="848.35" r="0.64" fill="#333"/><circle cx="281.68" cy="831.12" r="0.73" fill="#1a1a1a"/><circle cx="400.38" cy="842.19" r="0.5" fill="#333"/><circle cx="315.73" cy="842.84" r="0.59" fill="#333"/><polygon points="481.52,800.03 484.89,801.14 482.24,803.5" fill="none" stroke="#222" stroke-width="0.6"/><polygon points="293.47,838.15 295.83,835.64 296.83,838.94" fill="#222" stroke="#222" stroke-width="0.6"/><circle cx="440.96" cy="843.47" r="0.73" fill="#1a1a1a"/><circle cx="366.18" cy="791.5" r="0.51" fill="#333"/><circle cx="347.09" cy="767.28" r="0.56" fill="#333"/><circle cx="523.43" cy="802.13" r="0.62" fill="#333"/><circle cx="391.34" cy="808.36" r="0.65" fill="#333"/><circle cx="375.71" cy="835.58" r="0.58" fill="#333"/><polygon points="396.2,795.66 393.78,795.85 394.82,793.66" fill="none" stroke="#222" stroke-width="0.6"/><polygon points="350.04,778.21 349.26,781.54 346.76,779.2" fill="none" stroke="#222" stroke-width="0.6"/><circle cx="356.86" cy="786.25" r="0.81" fill="#1a1a1a"/><circle cx="351.06" cy="846.41" r="0.56" fill="#333"/><circle cx="345.23" cy="846.73" r="0.79" fill="#1a1a1a"/><circle cx="416.63" cy="808.03" r="0.83" fill="#1a1a1a"/><circle cx="363.78" cy="785.46" r="0.56" fill="#333"/><circle cx="390.23" cy="793.26" r="0.48" fill="#333"/><circle cx="282.98" cy="835.83" r="0.58" fill="#333"/><circle cx="425.86" cy="835.8" r="0.62" fill="#333"/><circle cx="450.58" cy="840.64" r="0.59" fill="#333"/><circle cx="301.95" cy="835.87" r="0.58" fill="#333"/><circle cx="463.66" cy="822.9" r="0.45" fill="#333"/><circle cx="425.42" cy="810.74" r="0.46" fill="#333"/><polygon points="497.75,785.58 499.35,787.66 496.75,788.01" fill="#222" stroke="#222" stroke-width="0.6"/><circle cx="422.62" cy="797.98" r="0.59" fill="#333"/><circle cx="499.95" cy="791.45" r="0.45" fill="#333"/><circle cx="477.85" cy="823.87" r="0.51" fill="#333"/><circle cx="429.63" cy="804.85" r="0.47" fill="#333"/><circle cx="408.82" cy="788.46" r="0.94" fill="#1a1a1a"/><circle cx="334.76" cy="814.61" r="0.83" fill="#1a1a1a"/><circle cx="341.18" cy="841.05" r="0.45" fill="#333"/><circle cx="409.23" cy="791.24" r="0.79" fill="#1a1a1a"/><polygon points="368.45,834.63 368.34,837.92 365.55,836.18" fill="#222" stroke="#222" stroke-width="0.6"/><circle cx="549.07" cy="790.23" r="0.53" fill="#333"/><circle cx="381.29" cy="801.79" r="0.71" fill="#1a1a1a"/><circle cx="300.95" cy="835.78" r="0.93" fill="#1a1a1a"/><circle cx="346.74" cy="788.21" r="0.49" fill="#333"/><circle cx="385.21" cy="845.94" r="0.61" fill="#333"/><circle cx="465.1" cy="842.36" r="0.56" fill="#333"/><circle cx="496.58" cy="803.69" r="0.58" fill="#333"/><circle cx="358.18" cy="770.09" r="0.48" fill="#333"/><circle cx="415.87" cy="794.73" r="0.88" fill="#1a1a1a"/><circle cx="572.25" cy="787.75" r="0.51" fill="#333"/><circle cx="442.28" cy="798.97" r="0.74" fill="#1a1a1a"/><circle cx="333.88" cy="841.74" r="0.49" fill="#333"/><circle cx="446.1" cy="840.17" r="0.53" fill="#333"/><circle cx="397.79" cy="809.82" r="0.52" fill="#333"/><circle cx="425.55" cy="818.64" r="0.49" fill="#333"/><circle cx="353.47" cy="786.77" r="0.54" fill="#333"/><circle cx="279.4" cy="825.32" r="0.54" fill="#333"/><circle cx="390.85" cy="843.48" r="0.62" fill="#333"/><polygon points="569.58,786.57 571.86,785.65 571.52,788.09" fill="none" stroke="#222" stroke-width="0.6"/><circle cx="470.21" cy="829.94" r="0.56" fill="#333"/><circle cx="281.67" cy="831.4" r="0.93" fill="#1a1a1a"/><circle cx="469.64" cy="791.4" r="0.76" fill="#1a1a1a"/><polygon points="465.44,824.2 467.63,823.34 467.27,825.66" fill="none" stroke="#222" stroke-width="0.6"/><circle cx="362.93" cy="804.51" r="0.58" fill="#333"/><circle cx="364.75" cy="767.82" r="0.58" fill="#333"/><circle cx="399.69" cy="787.51" r="0.64" fill="#333"/><circle cx="374.26" cy="801.16" r="0.49" fill="#333"/><circle cx="570.25" cy="792.06" r="0.5" fill="#333"/><circle cx="338.09" cy="829.58" r="0.94" fill="#1a1a1a"/><circle cx="475.77" cy="845.32" r="0.8" fill="#1a1a1a"/><circle cx="335.46" cy="847.44" r="0.71" fill="#1a1a1a"/><circle cx="558.38" cy="793.52" r="0.93" fill="#1a1a1a"/><circle cx="475.51" cy="797.65" r="0.52" fill="#333"/><circle cx="356.2" cy="795.38" r="0.47" fill="#333"/><circle cx="380.03" cy="834.68" r="0.54" fill="#333"/><circle cx="385.02" cy="842.87" r="0.79" fill="#1a1a1a"/><circle cx="396.83" cy="833.87" r="0.46" fill="#333"/><circle cx="554.81" cy="787.49" r="0.63" fill="#333"/><circle cx="374.58" cy="788.77" r="0.57" fill="#333"/><circle cx="350.73" cy="825.91" r="0.77" fill="#1a1a1a"/><circle cx="270.57" cy="829.17" r="0.58" fill="#333"/><circle cx="389.3" cy="786.99" r="0.55" fill="#333"/><circle cx="457.77" cy="793.4" r="0.79" fill="#1a1a1a"/><circle cx="330.61" cy="828.94" r="0.72" fill="#1a1a1a"/><circle cx="370.45" cy="847.95" r="0.65" fill="#333"/><polygon points="351.14,771.39 353.21,773.48 350.36,774.22" fill="#222" stroke="#222" stroke-width="0.6"/><circle cx="461.82" cy="822.36" r="0.62" fill="#333"/><circle cx="530.24" cy="790.56" r="0.52" fill="#333"/><circle cx="316.96" cy="839.92" r="0.52" fill="#333"/><circle cx="392.26" cy="848.97" r="0.5" fill="#333"/><circle cx="416.67" cy="834.48" r="0.63" fill="#333"/><circle cx="557.94" cy="797.12" r="0.54" fill="#333"/><circle cx="350.04" cy="831.02" r="0.47" fill="#333"/><circle cx="454.32" cy="817.83" r="0.79" fill="#1a1a1a"/><circle cx="348.47" cy="816.11" r="0.49" fill="#333"/><circle cx="366.24" cy="783" r="0.56" fill="#333"/><circle cx="392.02" cy="811.99" r="0.47" fill="#333"/><circle cx="320.18" cy="824.14" r="0.51" fill="#333"/><circle cx="364.82" cy="845.69" r="0.84" fill="#1a1a1a"/><circle cx="380.2" cy="800.81" r="0.65" fill="#333"/><circle cx="271.22" cy="841.38" r="0.61" fill="#333"/><circle cx="395.41" cy="839.81" r="0.48" fill="#333"/><polygon points="466.9,843.36 467.62,840.34 469.88,842.48" fill="none" stroke="#222" stroke-width="0.6"/><polygon points="431.63,841.78 432.16,844.66 429.4,843.68" fill="none" stroke="#222" stroke-width="0.6"/><circle cx="556.7" cy="798.43" r="0.57" fill="#333"/><circle cx="394.87" cy="836.75" r="0.49" fill="#333"/><circle cx="430.05" cy="798.07" r="0.76" fill="#1a1a1a"/><circle cx="282.15" cy="813.01" r="0.46" fill="#333"/><circle cx="455.37" cy="811.98" r="0.51" fill="#333"/><circle cx="399.71" cy="814.71" r="0.58" fill="#333"/><polygon points="406.2,802.77 408.78,801.03 409,804.14" fill="#222" stroke="#222" stroke-width="0.6"/><circle cx="425.72" cy="797.59" r="0.48" fill="#333"/><circle cx="329.49" cy="848.07" r="0.64" fill="#333"/><circle cx="547.51" cy="788.99" r="0.48" fill="#333"/><circle cx="425.19" cy="842.9" r="0.77" fill="#1a1a1a"/><polygon points="427.13,793.9 424.92,792.73 427.04,791.4" fill="none" stroke="#222" stroke-width="0.6"/><circle cx="480.24" cy="840.86" r="0.9" fill="#1a1a1a"/><circle cx="466.79" cy="796.08" r="0.56" fill="#333"/><polygon points="447.89,838.26 451.37,839.29 448.73,841.79" fill="#222" stroke="#222" stroke-width="0.6"/><circle cx="516.84" cy="788.13" r="0.57" fill="#333"/><circle cx="381.15" cy="829.92" r="0.49" fill="#333"/><circle cx="523.71" cy="787.21" r="0.65" fill="#333"/><circle cx="451.14" cy="821.49" r="0.7" fill="#1a1a1a"/><circle cx="460.5" cy="802.13" r="0.63" fill="#333"/><circle cx="338.97" cy="814.79" r="0.49" fill="#333"/><circle cx="462.94" cy="805.7" r="0.93" fill="#1a1a1a"/><circle cx="299.12" cy="819.35" r="0.61" fill="#333"/><polygon points="392.41,787.4 395.52,786.98 394.33,789.89" fill="#222" stroke="#222" stroke-width="0.6"/><circle cx="469.67" cy="803.1" r="0.6" fill="#333"/><polygon points="345.05,842.5 346.37,839.81 348.03,842.29" fill="#222" stroke="#222" stroke-width="0.6"/><polygon points="289.13,830.48 287.25,832.84 286.15,830.03" fill="#222" stroke="#222" stroke-width="0.6"/><circle cx="331.29" cy="816.84" r="0.58" fill="#333"/><polygon points="365.78,789.13 366.87,792.44 363.46,791.73" fill="none" stroke="#222" stroke-width="0.6"/><circle cx="271.37" cy="836.59" r="0.54" fill="#333"/><circle cx="499.49" cy="803.83" r="0.73" fill="#1a1a1a"/><circle cx="373.48" cy="828.67" r="0.62" fill="#333"/><circle cx="490.16" cy="788.24" r="0.54" fill="#333"/><circle cx="351.69" cy="819.67" r="0.49" fill="#333"/><circle cx="350.17" cy="785.74" r="0.64" fill="#333"/><circle cx="500.86" cy="793.33" r="0.52" fill="#333"/><circle cx="343.59" cy="841.87" r="0.59" fill="#333"/><circle cx="475.76" cy="847.85" r="0.62" fill="#333"/><circle cx="485.8" cy="837.69" r="0.59" fill="#333"/><circle cx="446.32" cy="791.73" r="0.86" fill="#1a1a1a"/><circle cx="293.53" cy="842.14" r="0.71" fill="#1a1a1a"/><circle cx="302.49" cy="843.66" r="0.48" fill="#333"/><circle cx="484.25" cy="818.99" r="0.6" fill="#333"/><circle cx="289.8" cy="815.36" r="0.61" fill="#333"/><circle cx="289.86" cy="838.55" r="0.64" fill="#333"/><circle cx="466.12" cy="834.98" r="0.51" fill="#333"/><polygon points="368.09,802.9 367.27,800.43 369.83,800.95" fill="none" stroke="#222" stroke-width="0.6"/><circle cx="383.56" cy="792.82" r="0.55" fill="#333"/><circle cx="404.79" cy="830.62" r="0.59" fill="#333"/><circle cx="421.86" cy="832.61" r="0.82" fill="#1a1a1a"/><circle cx="377.1" cy="835.54" r="0.94" fill="#1a1a1a"/><circle cx="357.41" cy="783.95" r="0.55" fill="#333"/><polygon points="302.86,817.39 305.39,819.58 302.24,820.68" fill="none" stroke="#222" stroke-width="0.6"/><circle cx="464.18" cy="795.73" r="0.53" fill="#333"/><circle cx="387.06" cy="839.9" r="0.82" fill="#1a1a1a"/><circle cx="434.29" cy="829.07" r="0.58" fill="#333"/><circle cx="377.5" cy="793.31" r="0.91" fill="#1a1a1a"/><circle cx="474.78" cy="828.03" r="0.81" fill="#1a1a1a"/><circle cx="487.52" cy="836.53" r="0.74" fill="#1a1a1a"/><polygon points="302.58,846.29 300.33,847.92 300.03,845.16" fill="none" stroke="#222" stroke-width="0.6"/><circle cx="496.87" cy="802.36" r="0.86" fill="#1a1a1a"/><circle cx="393.18" cy="832.13" r="0.55" fill="#333"/><circle cx="465.56" cy="804.73" r="0.85" fill="#1a1a1a"/><circle cx="394.94" cy="827.94" r="0.54" fill="#333"/><circle cx="447.45" cy="828.62" r="0.5" fill="#333"/><circle cx="468.41" cy="803.95" r="0.86" fill="#1a1a1a"/><circle cx="464.71" cy="786.91" r="0.54" fill="#333"/><circle cx="462.21" cy="800.22" r="0.64" fill="#333"/><circle cx="326.19" cy="820.72" r="0.53" fill="#333"/><polygon points="422.27,848.95 419.61,847.54 422.16,845.94" fill="none" stroke="#222" stroke-width="0.6"/><circle cx="300.76" cy="814.03" r="0.59" fill="#333"/><circle cx="428.28" cy="819.44" r="0.55" fill="#333"/><circle cx="396.69" cy="845.25" r="0.87" fill="#1a1a1a"/><circle cx="391.15" cy="829.76" r="0.95" fill="#1a1a1a"/><polygon points="353.07,800.2 354.54,797.78 355.9,800.26" fill="none" stroke="#222" stroke-width="0.6"/><circle cx="378.63" cy="788.17" r="0.89" fill="#1a1a1a"/><circle cx="337.31" cy="833" r="0.49" fill="#333"/><circle cx="309.51" cy="830.92" r="0.58" fill="#333"/><circle cx="414.93" cy="812.99" r="0.94" fill="#1a1a1a"/><circle cx="378.94" cy="819.4" r="0.61" fill="#333"/><circle cx="414.6" cy="790.61" r="0.48" fill="#333"/><circle cx="528.03" cy="795.66" r="0.5" fill="#333"/><circle cx="386.08" cy="787.2" r="0.49" fill="#333"/><circle cx="270.24" cy="826.34" r="0.76" fill="#1a1a1a"/><circle cx="363.02" cy="806.09" r="0.58" fill="#333"/><circle cx="473.9" cy="796.3" r="0.62" fill="#333"/><circle cx="287.1" cy="835.21" r="0.61" fill="#333"/><circle cx="312.95" cy="835.5" r="0.45" fill="#333"/><circle cx="272.96" cy="845.57" r="0.5" fill="#333"/><circle cx="341.88" cy="830.9" r="0.48" fill="#333"/><circle cx="321.49" cy="840.5" r="0.61" fill="#333"/><circle cx="476.76" cy="840.73" r="0.62" fill="#333"/><circle cx="330.62" cy="823.92" r="0.6" fill="#333"/><circle cx="405.45" cy="839.79" r="0.5" fill="#333"/><circle cx="421.82" cy="807.65" r="0.62" fill="#333"/><circle cx="271.45" cy="836.29" r="0.56" fill="#333"/><circle cx="475.78" cy="836.27" r="0.53" fill="#333"/><polygon points="466.27,817.55 468.79,819.35 465.97,820.63" fill="none" stroke="#222" stroke-width="0.6"/><circle cx="371.91" cy="848.07" r="0.55" fill="#333"/><circle cx="374.44" cy="838.04" r="0.54" fill="#333"/><circle cx="432.42" cy="830.42" r="0.81" fill="#1a1a1a"/><circle cx="400.42" cy="812.32" r="0.51" fill="#333"/><circle cx="526.16" cy="799.75" r="0.5" fill="#333"/><circle cx="426.49" cy="847.51" r="0.61" fill="#333"/><circle cx="372.04" cy="792.51" r="0.85" fill="#1a1a1a"/><polygon points="467.73,830.32 466.69,833.4 464.54,830.96" fill="none" stroke="#222" stroke-width="0.6"/><circle cx="473.52" cy="831.96" r="0.57" fill="#333"/><circle cx="460.7" cy="818.4" r="0.57" fill="#333"/><circle cx="476.3" cy="804.28" r="0.47" fill="#333"/><circle cx="472.8" cy="796.84" r="0.61" fill="#333"/><circle cx="443.76" cy="787.57" r="0.81" fill="#1a1a1a"/><circle cx="368.19" cy="802" r="0.64" fill="#333"/><polygon points="286.86,812.15 287.21,814.54 284.96,813.65" fill="none" stroke="#222" stroke-width="0.6"/><polygon points="553.01,802.45 555.79,802.59 554.28,804.93" fill="none" stroke="#222" stroke-width="0.6"/><circle cx="270.88" cy="823.16" r="0.94" fill="#1a1a1a"/><circle cx="296.74" cy="838.69" r="0.7" fill="#1a1a1a"/><circle cx="284.95" cy="830.71" r="0.62" fill="#333"/><circle cx="464.4" cy="825.29" r="0.64" fill="#333"/><circle cx="348.21" cy="846.62" r="0.45" fill="#333"/><circle cx="273.97" cy="820.4" r="0.47" fill="#333"/><circle cx="365.89" cy="826.98" r="0.92" fill="#1a1a1a"/><circle cx="383.42" cy="814.07" r="0.59" fill="#333"/><circle cx="314.35" cy="832.66" r="0.58" fill="#333"/><circle cx="464.74" cy="800.94" r="0.61" fill="#333"/><polygon points="444.62,788.45 447.25,790.91 443.81,791.96" fill="none" stroke="#222" stroke-width="0.6"/><circle cx="372.4" cy="816.65" r="0.62" fill="#333"/><circle cx="455.87" cy="791.8" r="0.63" fill="#333"/><circle cx="386.25" cy="823.25" r="0.63" fill="#333"/><polygon points="518.55,790.39 519.93,788.18 521.16,790.48" fill="none" stroke="#222" stroke-width="0.6"/><circle cx="282.52" cy="835.66" r="0.62" fill="#333"/><circle cx="446.81" cy="788.89" r="0.61" fill="#333"/><circle cx="481.77" cy="842.39" r="0.47" fill="#333"/><circle cx="441.15" cy="832.66" r="0.89" fill="#1a1a1a"/><circle cx="457.66" cy="822.65" r="0.49" fill="#333"/><circle cx="348.42" cy="828.79" r="0.54" fill="#333"/><circle cx="296.6" cy="833.43" r="0.5" fill="#333"/><circle cx="449.19" cy="840.98" r="0.55" fill="#333"/><circle cx="417.24" cy="815.27" r="0.75" fill="#1a1a1a"/><circle cx="325.45" cy="824.61" r="0.56" fill="#333"/><circle cx="394.25" cy="809.24" r="0.71" fill="#1a1a1a"/><polygon points="579.13,795.51 580.03,798.51 576.98,797.79" fill="#222" stroke="#222" stroke-width="0.6"/><circle cx="454.66" cy="794.84" r="0.45" fill="#333"/><circle cx="279.82" cy="848.8" r="0.55" fill="#333"/><circle cx="445.34" cy="787.87" r="0.54" fill="#333"/><circle cx="348.19" cy="769.17" r="0.75" fill="#1a1a1a"/><circle cx="442.3" cy="838.79" r="0.64" fill="#333"/><polygon points="454.83,801.29 453.18,798.11 456.75,798.27" fill="none" stroke="#222" stroke-width="0.6"/><circle cx="468.12" cy="845.96" r="0.53" fill="#333"/><circle cx="348.77" cy="795.43" r="0.63" fill="#333"/><polygon points="470.04,846.97 471.21,849.12 468.76,849.06" fill="none" stroke="#222" stroke-width="0.6"/><circle cx="479.37" cy="790.98" r="0.6" fill="#333"/><circle cx="349.12" cy="776.38" r="0.48" fill="#333"/><circle cx="280.57" cy="843.55" r="0.93" fill="#1a1a1a"/><circle cx="299.49" cy="843.65" r="0.58" fill="#333"/><circle cx="409.71" cy="794.41" r="0.55" fill="#333"/><circle cx="490.8" cy="812.26" r="0.92" fill="#1a1a1a"/><circle cx="352.04" cy="800.42" r="0.77" fill="#1a1a1a"/><circle cx="529.83" cy="793.96" r="0.82" fill="#1a1a1a"/><polygon points="370.02,842.23 366.46,842.83 367.72,839.45" fill="none" stroke="#222" stroke-width="0.6"/><circle cx="417.51" cy="789.93" r="0.75" fill="#1a1a1a"/><circle cx="382.4" cy="848.85" r="0.64" fill="#333"/><circle cx="494.75" cy="790.54" r="0.45" fill="#333"/><circle cx="519.74" cy="794.5" r="0.7" fill="#1a1a1a"/><circle cx="325.28" cy="830.41" r="0.49" fill="#333"/><circle cx="458.17" cy="807.42" r="0.75" fill="#1a1a1a"/><circle cx="459.38" cy="825.17" r="0.57" fill="#333"/><circle cx="496.69" cy="800.12" r="0.46" fill="#333"/><circle cx="520.86" cy="794.02" r="0.62" fill="#333"/><circle cx="539.9" cy="788.26" r="0.91" fill="#1a1a1a"/><polygon points="382.92,816.31 384.84,814.05 385.84,816.84" fill="none" stroke="#222" stroke-width="0.6"/><circle cx="306.86" cy="825.74" r="0.62" fill="#333"/><circle cx="368.97" cy="825.46" r="0.6" fill="#333"/><circle cx="288.39" cy="838.97" r="0.55" fill="#333"/><circle cx="428.63" cy="810.35" r="0.45" fill="#333"/><polygon points="346.66,833.01 348.44,834.59 346.18,835.35" fill="#222" stroke="#222" stroke-width="0.6"/><circle cx="274.89" cy="816.11" r="0.55" fill="#333"/><circle cx="422.51" cy="807.86" r="0.73" fill="#1a1a1a"/><circle cx="452.98" cy="837.99" r="0.84" fill="#1a1a1a"/><circle cx="389.99" cy="801.15" r="0.56" fill="#333"/><circle cx="392.13" cy="844.69" r="0.52" fill="#333"/><circle cx="404.52" cy="848.03" r="0.63" fill="#333"/><circle cx="346.73" cy="801.29" r="0.52" fill="#333"/><polygon points="405.11,807.93 403.27,809.53 402.8,807.14" fill="none" stroke="#222" stroke-width="0.6"/><circle cx="468.42" cy="788.22" r="0.5" fill="#333"/><circle cx="437.61" cy="843.28" r="0.5" fill="#333"/><circle cx="430.8" cy="802.26" r="0.51" fill="#333"/><circle cx="364.14" cy="820.13" r="0.85" fill="#1a1a1a"/><circle cx="352.66" cy="804.99" r="0.48" fill="#333"/><circle cx="360.47" cy="799.99" r="0.76" fill="#1a1a1a"/><circle cx="446.27" cy="820.37" r="0.88" fill="#1a1a1a"/><circle cx="412.37" cy="811.82" r="0.54" fill="#333"/><circle cx="365.72" cy="786.25" r="0.83" fill="#1a1a1a"/><polygon points="389.28,813.75 388.8,816.45 386.7,814.69" fill="#222" stroke="#222" stroke-width="0.6"/><circle cx="442.07" cy="807.08" r="0.95" fill="#1a1a1a"/><circle cx="361.07" cy="830.55" r="0.72" fill="#1a1a1a"/><polygon points="538.17,803.38 539.9,801.19 540.93,803.78" fill="none" stroke="#222" stroke-width="0.6"/><circle cx="378.73" cy="822.46" r="0.62" fill="#333"/><circle cx="423.84" cy="846.49" r="0.53" fill="#333"/><circle cx="457.79" cy="797.73" r="0.54" fill="#333"/><circle cx="493.69" cy="790.49" r="0.56" fill="#333"/><circle cx="388.67" cy="792.92" r="0.62" fill="#333"/><circle cx="424.36" cy="803.12" r="0.78" fill="#1a1a1a"/><circle cx="314.38" cy="814.11" r="0.47" fill="#333"/><circle cx="554.83" cy="793.08" r="0.62" fill="#333"/><polygon points="400.45,841.6 402.76,841.32 401.84,843.45" fill="#222" stroke="#222" stroke-width="0.6"/><circle cx="436.44" cy="849.46" r="0.55" fill="#333"/><circle cx="481.96" cy="798.56" r="0.57" fill="#333"/><circle cx="378.31" cy="845.24" r="0.56" fill="#333"/><circle cx="393.76" cy="812.93" r="0.63" fill="#333"/><circle cx="405.94" cy="818.22" r="0.52" fill="#333"/><circle cx="433.85" cy="834.21" r="0.78" fill="#1a1a1a"/><circle cx="544.9" cy="801.19" r="0.77" fill="#1a1a1a"/><circle cx="428.1" cy="808.21" r="0.75" fill="#1a1a1a"/><circle cx="464.86" cy="816.42" r="0.65" fill="#333"/><circle cx="397.02" cy="831.85" r="0.87" fill="#1a1a1a"/><circle cx="423.84" cy="812.25" r="0.86" fill="#1a1a1a"/><circle cx="434.27" cy="849.36" r="0.53" fill="#333"/><circle cx="431.48" cy="834.81" r="0.61" fill="#333"/><circle cx="508.43" cy="792.99" r="0.52" fill="#333"/><circle cx="300.25" cy="841.56" r="0.52" fill="#333"/><polygon points="407.19,797.25 410.68,797.22 408.95,800.25" fill="none" stroke="#222" stroke-width="0.6"/><circle cx="405.78" cy="817.85" r="0.71" fill="#1a1a1a"/><circle cx="367.05" cy="841.15" r="0.51" fill="#333"/><circle cx="456.31" cy="846.26" r="0.64" fill="#333"/><circle cx="365.3" cy="839.18" r="0.61" fill="#333"/><circle cx="570.77" cy="790.3" r="0.47" fill="#333"/><circle cx="434.97" cy="798.24" r="0.46" fill="#333"/><circle cx="307.64" cy="835.04" r="0.5" fill="#333"/><circle cx="475.46" cy="794.54" r="0.88" fill="#1a1a1a"/><circle cx="406.91" cy="835.92" r="0.48" fill="#333"/><circle cx="378.88" cy="826.4" r="0.64" fill="#333"/><circle cx="333.94" cy="845.5" r="0.5" fill="#333"/><circle cx="488.55" cy="787.8" r="0.57" fill="#333"/><circle cx="383.55" cy="786.59" r="0.49" fill="#333"/><circle cx="428.54" cy="811.36" r="0.89" fill="#1a1a1a"/><circle cx="388.77" cy="820.97" r="0.51" fill="#333"/><circle cx="324.32" cy="837.14" r="0.87" fill="#1a1a1a"/><circle cx="303.2" cy="812.98" r="0.55" fill="#333"/><circle cx="361.52" cy="771.51" r="0.76" fill="#1a1a1a"/><circle cx="308.53" cy="825.92" r="0.8" fill="#1a1a1a"/><circle cx="278.57" cy="822.82" r="0.52" fill="#333"/><circle cx="397.38" cy="821.1" r="0.5" fill="#333"/><circle cx="532.05" cy="795.44" r="0.49" fill="#333"/><circle cx="305.14" cy="842.3" r="0.59" fill="#333"/><polygon points="362.41,796.65 364.94,797.55 362.89,799.29" fill="#222" stroke="#222" stroke-width="0.6"/><circle cx="491.7" cy="787.29" r="0.59" fill="#333"/><circle cx="358.22" cy="769.59" r="0.57" fill="#333"/><circle cx="303.89" cy="832.16" r="0.93" fill="#1a1a1a"/><circle cx="484.89" cy="798.91" r="0.62" fill="#333"/><circle cx="356.62" cy="773.52" r="0.53" fill="#333"/><polygon points="462.56,804.66 464.37,802 465.78,804.89" fill="none" stroke="#222" stroke-width="0.6"/><circle cx="487.39" cy="833.36" r="0.84" fill="#1a1a1a"/><polygon points="436.78,787.71 438.07,785.29 439.53,787.62" fill="#222" stroke="#222" stroke-width="0.6"/><circle cx="365.73" cy="777.42" r="0.58" fill="#333"/><circle cx="429.27" cy="803.2" r="0.52" fill="#333"/><circle cx="362.27" cy="839.96" r="0.84" fill="#1a1a1a"/><circle cx="372.87" cy="834.17" r="0.6" fill="#333"/><circle cx="321.89" cy="821.72" r="0.54" fill="#333"/><circle cx="330.54" cy="824.66" r="0.47" fill="#333"/><circle cx="370.05" cy="805.18" r="0.48" fill="#333"/><circle cx="295.45" cy="825.95" r="0.56" fill="#333"/><circle cx="464.13" cy="844.19" r="0.5" fill="#333"/><circle cx="277.98" cy="830.74" r="0.51" fill="#333"/><circle cx="327.01" cy="819.35" r="0.64" fill="#333"/><circle cx="321.66" cy="831.59" r="0.6" fill="#333"/><circle cx="525.42" cy="792.77" r="0.56" fill="#333"/><circle cx="383.95" cy="835.5" r="0.71" fill="#1a1a1a"/><circle cx="445.24" cy="818.52" r="0.59" fill="#333"/><circle cx="422.76" cy="807.76" r="0.77" fill="#1a1a1a"/><polygon points="405.64,847.57 407.07,845.76 407.93,847.9" fill="#222" stroke="#222" stroke-width="0.6"/><circle cx="513.5" cy="801.57" r="0.87" fill="#1a1a1a"/><circle cx="429.04" cy="801.21" r="0.81" fill="#1a1a1a"/><circle cx="476.03" cy="835.06" r="0.48" fill="#333"/><circle cx="361.14" cy="803.05" r="0.52" fill="#333"/><circle cx="369.81" cy="804.5" r="0.63" fill="#333"/><circle cx="479.23" cy="816.92" r="0.84" fill="#1a1a1a"/><circle cx="470.21" cy="791.02" r="0.63" fill="#333"/><polygon points="478.66,804.72 479.42,801.64 481.7,803.83" fill="none" stroke="#222" stroke-width="0.6"/><circle cx="398.56" cy="810.31" r="0.53" fill="#333"/><circle cx="304.23" cy="838.08" r="0.72" fill="#1a1a1a"/><circle cx="434.05" cy="787.03" r="0.56" fill="#333"/><polygon points="338.22,812.98 341.18,813.07 339.63,815.59" fill="#222" stroke="#222" stroke-width="0.6"/><circle cx="405.74" cy="838.19" r="0.59" fill="#333"/><circle cx="301.07" cy="835.41" r="0.48" fill="#333"/><circle cx="274.11" cy="815.68" r="0.77" fill="#1a1a1a"/><circle cx="488.84" cy="801.61" r="0.57" fill="#333"/><circle cx="321.52" cy="828.32" r="0.6" fill="#333"/><circle cx="480.5" cy="835.02" r="0.79" fill="#1a1a1a"/><polygon points="438.72,831.32 441.69,833.24 438.54,834.85" fill="#222" stroke="#222" stroke-width="0.6"/><circle cx="303.65" cy="832.94" r="0.84" fill="#1a1a1a"/><circle cx="359.37" cy="823.45" r="0.48" fill="#333"/><circle cx="483.29" cy="833.56" r="0.45" fill="#333"/><circle cx="425.05" cy="838.99" r="0.46" fill="#333"/><circle cx="325.94" cy="834.41" r="0.53" fill="#333"/><circle cx="531.55" cy="798.89" r="0.57" fill="#333"/><circle cx="336.5" cy="840.74" r="0.46" fill="#333"/><circle cx="414.5" cy="814.24" r="0.52" fill="#333"/><circle cx="271.26" cy="814.42" r="0.71" fill="#1a1a1a"/><polygon points="411.23,847.22 413.32,848.5 411.17,849.67" fill="#222" stroke="#222" stroke-width="0.6"/><circle cx="354.19" cy="807.8" r="0.84" fill="#1a1a1a"/><circle cx="433.23" cy="846" r="0.46" fill="#333"/><circle cx="443.31" cy="830.45" r="0.6" fill="#333"/><circle cx="465.79" cy="819.05" r="0.51" fill="#333"/><circle cx="363.7" cy="829.81" r="0.55" fill="#333"/><circle cx="466.44" cy="795.3" r="0.53" fill="#333"/><circle cx="369.66" cy="848.63" r="0.52" fill="#333"/><circle cx="271.64" cy="838.81" r="0.54" fill="#333"/><circle cx="445.82" cy="791.28" r="0.72" fill="#1a1a1a"/><circle cx="362.92" cy="791.79" r="0.56" fill="#333"/><circle cx="560.19" cy="794.46" r="0.57" fill="#333"/><circle cx="449.47" cy="848.55" r="0.6" fill="#333"/><polygon points="403.61,837.59 402.44,840.27 400.7,837.92" fill="#222" stroke="#222" stroke-width="0.6"/><circle cx="349.29" cy="767.93" r="0.77" fill="#1a1a1a"/><circle cx="456.42" cy="838.24" r="0.49" fill="#333"/><circle cx="370.76" cy="828.64" r="0.53" fill="#333"/><polygon points="481.58,794.7 478.83,795.36 479.63,792.65" fill="none" stroke="#222" stroke-width="0.6"/><circle cx="373.17" cy="807.33" r="0.5" fill="#333"/><circle cx="459.85" cy="826.54" r="0.72" fill="#1a1a1a"/><circle cx="521.91" cy="801.38" r="0.57" fill="#333"/><circle cx="441.56" cy="820.96" r="0.52" fill="#333"/><circle cx="499.28" cy="787.55" r="0.6" fill="#333"/><circle cx="510.11" cy="791.85" r="0.65" fill="#333"/><circle cx="409.97" cy="789.26" r="0.64" fill="#333"/><circle cx="416.98" cy="820.79" r="0.52" fill="#333"/><circle cx="560.91" cy="796.56" r="0.74" fill="#1a1a1a"/><circle cx="466.73" cy="794.78" r="0.54" fill="#333"/><polygon points="371.58,842.29 368.34,842.65 369.64,839.66" fill="none" stroke="#222" stroke-width="0.6"/><polygon points="392.58,839.18 393.98,836.49 395.61,839.04" fill="none" stroke="#222" stroke-width="0.6"/><circle cx="350.77" cy="802.27" r="0.75" fill="#1a1a1a"/><circle cx="361.98" cy="849.12" r="0.84" fill="#1a1a1a"/><circle cx="318.02" cy="838.15" r="0.5" fill="#333"/><circle cx="357.05" cy="793.72" r="0.63" fill="#333"/><circle cx="319.53" cy="823.08" r="0.54" fill="#333"/><circle cx="449.08" cy="839.81" r="0.92" fill="#1a1a1a"/><circle cx="381.19" cy="831.19" r="0.49" fill="#333"/><polygon points="363.79,768.16 360.57,769.78 360.78,766.18" fill="none" stroke="#222" stroke-width="0.6"/><polygon points="315.59,826.22 317.61,827.67 315.34,828.7" fill="#222" stroke="#222" stroke-width="0.6"/><circle cx="374.73" cy="842.79" r="0.63" fill="#333"/><circle cx="342.18" cy="832.22" r="0.46" fill="#333"/><circle cx="275.58" cy="848.83" r="0.92" fill="#1a1a1a"/><circle cx="324.92" cy="823.3" r="0.88" fill="#1a1a1a"/><circle cx="379.08" cy="807.49" r="0.52" fill="#333"/><circle cx="336.14" cy="846.88" r="0.6" fill="#333"/><circle cx="354.08" cy="780.82" r="0.72" fill="#1a1a1a"/><circle cx="396" cy="812.53" r="0.45" fill="#333"/><circle cx="482.86" cy="820.6" r="0.56" fill="#333"/><circle cx="483.53" cy="848.13" r="0.59" fill="#333"/><circle cx="393.26" cy="792.61" r="0.64" fill="#333"/><circle cx="389.47" cy="798.22" r="0.48" fill="#333"/><circle cx="457.95" cy="843.44" r="0.85" fill="#1a1a1a"/><circle cx="484.74" cy="793.12" r="0.56" fill="#333"/><polygon points="368.45,845.71 368.04,848.97 365.42,846.99" fill="none" stroke="#222" stroke-width="0.6"/><circle cx="453.13" cy="849.16" r="0.86" fill="#1a1a1a"/><circle cx="499.97" cy="797.67" r="0.53" fill="#333"/><circle cx="432.65" cy="817.23" r="0.51" fill="#333"/><circle cx="464.48" cy="811.4" r="0.85" fill="#1a1a1a"/><circle cx="351.58" cy="841.97" r="0.59" fill="#333"/><circle cx="431.34" cy="805.85" r="0.74" fill="#1a1a1a"/><circle cx="431.92" cy="810.1" r="0.5" fill="#333"/><circle cx="322.86" cy="834.71" r="0.58" fill="#333"/><circle cx="387.67" cy="835.57" r="0.47" fill="#333"/><circle cx="392.1" cy="849.35" r="0.54" fill="#333"/><circle cx="417.78" cy="832.74" r="0.48" fill="#333"/><circle cx="480.39" cy="796.67" r="0.5" fill="#333"/><circle cx="384.41" cy="794.43" r="0.45" fill="#333"/><polygon points="331.41,812.28 333.07,814.15 330.63,814.66" fill="#222" stroke="#222" stroke-width="0.6"/><circle cx="466.73" cy="837.8" r="0.81" fill="#1a1a1a"/><circle cx="406.67" cy="796.7" r="0.51" fill="#333"/><circle cx="395.94" cy="820.19" r="0.52" fill="#333"/><circle cx="388.94" cy="814.38" r="0.49" fill="#333"/><circle cx="384.9" cy="821.64" r="0.72" fill="#1a1a1a"/><circle cx="503.92" cy="797.72" r="0.55" fill="#333"/><circle cx="277.34" cy="815.56" r="0.54" fill="#333"/><circle cx="529.84" cy="800.69" r="0.63" fill="#333"/><circle cx="405.84" cy="807.07" r="0.61" fill="#333"/><circle cx="477.35" cy="827.9" r="0.46" fill="#333"/><circle cx="480.29" cy="812.3" r="0.6" fill="#333"/><polygon points="293.35,832.97 294.5,835.05 292.13,835.01" fill="none" stroke="#222" stroke-width="0.6"/><circle cx="286.46" cy="822.93" r="0.55" fill="#333"/><circle cx="286.39" cy="823.77" r="0.57" fill="#333"/><polygon points="372.79,811.39 371.48,808.01 375.06,808.57" fill="#222" stroke="#222" stroke-width="0.6"/><circle cx="366.51" cy="787.32" r="0.56" fill="#333"/><polygon points="428.94,799.98 428.39,802.6 426.4,800.81" fill="none" stroke="#222" stroke-width="0.6"/><circle cx="535.13" cy="787.49" r="0.71" fill="#1a1a1a"/><circle cx="435.93" cy="797.25" r="0.55" fill="#333"/><circle cx="450.49" cy="796.57" r="0.49" fill="#333"/><circle cx="434.76" cy="800.19" r="0.51" fill="#333"/><circle cx="354.26" cy="832.55" r="0.88" fill="#1a1a1a"/><circle cx="410.42" cy="844.15" r="0.63" fill="#333"/><circle cx="478.43" cy="822.43" r="0.75" fill="#1a1a1a"/><circle cx="398.04" cy="821.08" r="0.93" fill="#1a1a1a"/><polygon points="286.45,826.06 285.6,822.75 288.88,823.67" fill="#222" stroke="#222" stroke-width="0.6"/><circle cx="449.95" cy="792.65" r="0.48" fill="#333"/><circle cx="552.27" cy="793.12" r="0.48" fill="#333"/><circle cx="387.27" cy="819.57" r="0.84" fill="#1a1a1a"/><circle cx="495.3" cy="801.94" r="0.47" fill="#333"/><circle cx="359.59" cy="795.09" r="0.55" fill="#333"/><circle cx="419.77" cy="838.23" r="0.56" fill="#333"/><circle cx="353.52" cy="840.66" r="0.5" fill="#333"/><circle cx="455.15" cy="846.87" r="0.64" fill="#333"/><circle cx="372.74" cy="803.59" r="0.89" fill="#1a1a1a"/><circle cx="324.88" cy="831.85" r="0.72" fill="#1a1a1a"/><circle cx="440.5" cy="831.88" r="0.54" fill="#333"/><circle cx="299.56" cy="820.07" r="0.84" fill="#1a1a1a"/><circle cx="378.86" cy="797.33" r="0.48" fill="#333"/><circle cx="322.04" cy="844.71" r="0.91" fill="#1a1a1a"/><polygon points="424.16,812.24 421.63,810.84 424.11,809.34" fill="none" stroke="#222" stroke-width="0.6"/><circle cx="426.6" cy="796.67" r="0.8" fill="#1a1a1a"/><circle cx="343.81" cy="838.86" r="0.63" fill="#333"/><circle cx="274.09" cy="844.86" r="0.61" fill="#333"/><circle cx="446.34" cy="823.6" r="0.89" fill="#1a1a1a"/><circle cx="430.12" cy="790.41" r="0.47" fill="#333"/><circle cx="454.06" cy="831.54" r="0.46" fill="#333"/><circle cx="345.63" cy="816.09" r="0.46" fill="#333"/><circle cx="461.18" cy="823.84" r="0.52" fill="#333"/><circle cx="520.83" cy="804.61" r="0.45" fill="#333"/><circle cx="561.08" cy="800.44" r="0.47" fill="#333"/><circle cx="345.35" cy="827.34" r="0.48" fill="#333"/><circle cx="372.09" cy="847.59" r="0.61" fill="#333"/><circle cx="418.21" cy="807.58" r="0.63" fill="#333"/><circle cx="331.14" cy="818.26" r="0.61" fill="#333"/><circle cx="298.06" cy="825.98" r="0.48" fill="#333"/><circle cx="452.54" cy="802.39" r="0.61" fill="#333"/></g>
<line x1="203" y1="786.4" x2="346.5" y2="786.4" stroke="#111" stroke-width="1.1" stroke-linecap="butt"/>
<line x1="366.8" y1="786.4" x2="580.6" y2="786.4" stroke="#111" stroke-width="1.3" stroke-linecap="butt"/>
<line x1="366.8" y1="795.6" x2="580.6" y2="795.6" stroke="#111" stroke-width="1" stroke-linecap="butt"/>
<polyline points="580.6,805.1 491.4,805.1 491.4,850.6 268.4,850.6 268.4,812.9 346.5,812.9" fill="none" stroke="#111" stroke-width="1.2" stroke-linejoin="miter"/>
<polyline points="266.6,810.5 266.6,854.7 496,854.7 496,809 580.6,809" fill="none" stroke="#111" stroke-width="0.9" stroke-linejoin="miter"/>
<line x1="580.6" y1="780.3" x2="580.6" y2="809" stroke="#111" stroke-width="1" stroke-linecap="butt"/>
<rect x="346.5" y="765" width="20.3" height="85.6" fill="#fff" stroke="#111" stroke-width="1.3"/>
<g><circle cx="361.16" cy="792.83" r="0.56" fill="#333"/><circle cx="362.06" cy="778.97" r="0.61" fill="#333"/><circle cx="353.8" cy="833.66" r="0.75" fill="#1a1a1a"/><circle cx="356.25" cy="788.11" r="0.63" fill="#333"/><circle cx="358.96" cy="823.98" r="0.61" fill="#333"/><circle cx="360.24" cy="821.89" r="0.62" fill="#333"/><circle cx="355.63" cy="776.79" r="0.62" fill="#333"/><circle cx="354.84" cy="815.23" r="0.61" fill="#333"/><polygon points="351.38,805.94 351.7,808.32 349.48,807.41" fill="#222" stroke="#222" stroke-width="0.6"/><circle cx="358" cy="804.83" r="0.75" fill="#1a1a1a"/><circle cx="355.01" cy="834.13" r="0.51" fill="#333"/><circle cx="351.85" cy="790.72" r="0.54" fill="#333"/><circle cx="358.67" cy="831.3" r="0.87" fill="#1a1a1a"/><circle cx="351.29" cy="832.5" r="0.77" fill="#1a1a1a"/><circle cx="362.2" cy="797.63" r="0.92" fill="#1a1a1a"/><circle cx="358.06" cy="837.87" r="0.55" fill="#333"/><circle cx="362.17" cy="808.56" r="0.49" fill="#333"/><circle cx="360.68" cy="782.48" r="0.45" fill="#333"/><circle cx="352.89" cy="841.74" r="0.61" fill="#333"/><polygon points="354.91,795.54 354.37,798.51 352.07,796.56" fill="none" stroke="#222" stroke-width="0.6"/><circle cx="355.28" cy="840.5" r="0.58" fill="#333"/><circle cx="351.7" cy="817.44" r="0.64" fill="#333"/><circle cx="355.11" cy="820.25" r="0.53" fill="#333"/><circle cx="357.01" cy="821.41" r="0.55" fill="#333"/><polygon points="354.33,842.3 357.09,844.3 353.97,845.69" fill="none" stroke="#222" stroke-width="0.6"/><circle cx="356.13" cy="827.06" r="0.6" fill="#333"/><circle cx="359.72" cy="772.86" r="0.73" fill="#1a1a1a"/><circle cx="362.14" cy="837.68" r="0.85" fill="#1a1a1a"/><circle cx="357.66" cy="773.73" r="0.6" fill="#333"/><circle cx="358.43" cy="791.46" r="0.51" fill="#333"/><circle cx="357.28" cy="802.05" r="0.58" fill="#333"/><circle cx="360.38" cy="821.41" r="0.64" fill="#333"/><circle cx="359.25" cy="822.5" r="0.74" fill="#1a1a1a"/><circle cx="357.64" cy="832.72" r="0.52" fill="#333"/><circle cx="352.46" cy="809.26" r="0.48" fill="#333"/><circle cx="359.59" cy="783.12" r="0.71" fill="#1a1a1a"/><circle cx="354.34" cy="799.19" r="0.64" fill="#333"/><circle cx="353.03" cy="793.62" r="0.49" fill="#333"/><polygon points="353.43,804.31 354.4,801.89 356.02,803.94" fill="#222" stroke="#222" stroke-width="0.6"/><circle cx="362.27" cy="790.4" r="0.93" fill="#1a1a1a"/><circle cx="356.16" cy="833.57" r="0.61" fill="#333"/><circle cx="354.55" cy="781.71" r="0.54" fill="#333"/><circle cx="357.45" cy="820.96" r="0.51" fill="#333"/></g>
<rect x="349.8" y="769.2" width="13.9" height="77.7" fill="none" stroke="#111" stroke-width="1.3"/>
<line x1="349.8" y1="803.6" x2="363.7" y2="803.6" stroke="#111" stroke-width="1" stroke-linecap="butt"/>
<line x1="361.5" y1="772" x2="361.5" y2="781" stroke="#111" stroke-width="1" stroke-linecap="butt"/>
<line x1="276.4" y1="821.1" x2="346.5" y2="821.1" stroke="#111" stroke-width="1.3" stroke-linecap="butt"/>
<line x1="366.8" y1="821.1" x2="382.8" y2="821.1" stroke="#111" stroke-width="1.3" stroke-linecap="butt"/>
<line x1="276.4" y1="842.6" x2="485" y2="842.6" stroke="#111" stroke-width="1.3" stroke-linecap="butt"/>
<line x1="369.9" y1="813.5" x2="484.7" y2="813.5" stroke="#111" stroke-width="1.3" stroke-linecap="butt"/>
<line x1="284.4" y1="818" x2="284.4" y2="846" stroke="#111" stroke-width="1.2" stroke-linecap="butt"/>
<line x1="317" y1="818" x2="317" y2="846" stroke="#111" stroke-width="1.2" stroke-linecap="butt"/>
<line x1="379.7" y1="810.5" x2="379.7" y2="846" stroke="#111" stroke-width="1.2" stroke-linecap="butt"/>
<line x1="411" y1="810.5" x2="411" y2="846" stroke="#111" stroke-width="1.2" stroke-linecap="butt"/>
<line x1="442.4" y1="810.5" x2="442.4" y2="846" stroke="#111" stroke-width="1.2" stroke-linecap="butt"/>
<line x1="474.3" y1="810.5" x2="474.3" y2="846" stroke="#111" stroke-width="1.2" stroke-linecap="butt"/>
<line x1="341.7" y1="190" x2="341.7" y2="768.8" stroke="#111" stroke-width="0.9" stroke-linecap="butt"/>
<line x1="345.1" y1="190" x2="345.1" y2="768.8" stroke="#111" stroke-width="0.9" stroke-linecap="butt"/>
<line x1="343.4" y1="190" x2="343.4" y2="768.8" stroke="#777" stroke-width="1.2" stroke-dasharray="1,1.2"/>
<line x1="341.7" y1="768.8" x2="345.1" y2="768.8" stroke="#111" stroke-width="0.9" stroke-linecap="butt"/>
<polyline points="316.9,186.1 316.9,195 318.8,196.4 320.2,196.4 320.2,208.1 336.2,208.1 336.2,190.5" fill="none" stroke="#111" stroke-width="1.1" stroke-linejoin="miter"/>
<line x1="319" y1="191.7" x2="336.2" y2="191.7" stroke="#111" stroke-width="0.9" stroke-linecap="butt"/>
<rect x="336.2" y="189.8" width="4.6" height="24" fill="none" stroke="#111" stroke-width="1.1"/>
<line x1="337.5" y1="192" x2="339.5" y2="212" stroke="#111" stroke-width="0.7" stroke-linecap="butt"/>
<polygon points="339.5,183.6 344.5,183 345,190 340,190.8" fill="#111" stroke="none" stroke-width="0"/>
<line x1="316.9" y1="186.1" x2="579.4" y2="153.5" stroke="#111" stroke-width="1.2" stroke-linecap="butt"/>
<line x1="337.19" y1="187.21" x2="579.84" y2="157.07" stroke="#222" stroke-width="0.8" stroke-linecap="butt"/>
<line x1="337.44" y1="189.19" x2="580.09" y2="159.06" stroke="#777" stroke-width="0.5" stroke-linecap="butt"/>
<line x1="337.68" y1="191.18" x2="580.34" y2="161.04" stroke="#111" stroke-width="1" stroke-linecap="butt"/>
<line x1="340.17" y1="186.84" x2="340.66" y2="190.81" stroke="#333" stroke-width="0.7" stroke-linecap="butt"/>
<line x1="346.32" y1="186.07" x2="346.81" y2="190.04" stroke="#333" stroke-width="0.7" stroke-linecap="butt"/>
<line x1="352.47" y1="185.31" x2="352.97" y2="189.28" stroke="#333" stroke-width="0.7" stroke-linecap="butt"/>
<line x1="358.63" y1="184.55" x2="359.12" y2="188.52" stroke="#333" stroke-width="0.7" stroke-linecap="butt"/>
<line x1="364.78" y1="183.78" x2="365.27" y2="187.75" stroke="#333" stroke-width="0.7" stroke-linecap="butt"/>
<line x1="370.93" y1="183.02" x2="371.42" y2="186.99" stroke="#333" stroke-width="0.7" stroke-linecap="butt"/>
<line x1="377.08" y1="182.25" x2="377.58" y2="186.22" stroke="#333" stroke-width="0.7" stroke-linecap="butt"/>
<line x1="383.24" y1="181.49" x2="383.73" y2="185.46" stroke="#333" stroke-width="0.7" stroke-linecap="butt"/>
<line x1="389.39" y1="180.73" x2="389.88" y2="184.69" stroke="#333" stroke-width="0.7" stroke-linecap="butt"/>
<line x1="395.54" y1="179.96" x2="396.04" y2="183.93" stroke="#333" stroke-width="0.7" stroke-linecap="butt"/>
<line x1="401.7" y1="179.2" x2="402.19" y2="183.17" stroke="#333" stroke-width="0.7" stroke-linecap="butt"/>
<line x1="407.85" y1="178.43" x2="408.34" y2="182.4" stroke="#333" stroke-width="0.7" stroke-linecap="butt"/>
<line x1="414" y1="177.67" x2="414.49" y2="181.64" stroke="#333" stroke-width="0.7" stroke-linecap="butt"/>
<line x1="420.15" y1="176.9" x2="420.65" y2="180.87" stroke="#333" stroke-width="0.7" stroke-linecap="butt"/>
<line x1="426.31" y1="176.14" x2="426.8" y2="180.11" stroke="#333" stroke-width="0.7" stroke-linecap="butt"/>
<line x1="432.46" y1="175.38" x2="432.95" y2="179.35" stroke="#333" stroke-width="0.7" stroke-linecap="butt"/>
<line x1="438.61" y1="174.61" x2="439.11" y2="178.58" stroke="#333" stroke-width="0.7" stroke-linecap="butt"/>
<line x1="444.76" y1="173.85" x2="445.26" y2="177.82" stroke="#333" stroke-width="0.7" stroke-linecap="butt"/>
<line x1="450.92" y1="173.08" x2="451.41" y2="177.05" stroke="#333" stroke-width="0.7" stroke-linecap="butt"/>
<line x1="457.07" y1="172.32" x2="457.56" y2="176.29" stroke="#333" stroke-width="0.7" stroke-linecap="butt"/>
<line x1="463.22" y1="171.56" x2="463.72" y2="175.53" stroke="#333" stroke-width="0.7" stroke-linecap="butt"/>
<line x1="469.38" y1="170.79" x2="469.87" y2="174.76" stroke="#333" stroke-width="0.7" stroke-linecap="butt"/>
<line x1="475.53" y1="170.03" x2="476.02" y2="174" stroke="#333" stroke-width="0.7" stroke-linecap="butt"/>
<line x1="481.68" y1="169.26" x2="482.17" y2="173.23" stroke="#333" stroke-width="0.7" stroke-linecap="butt"/>
<line x1="487.83" y1="168.5" x2="488.33" y2="172.47" stroke="#333" stroke-width="0.7" stroke-linecap="butt"/>
<line x1="493.99" y1="167.74" x2="494.48" y2="171.7" stroke="#333" stroke-width="0.7" stroke-linecap="butt"/>
<line x1="500.14" y1="166.97" x2="500.63" y2="170.94" stroke="#333" stroke-width="0.7" stroke-linecap="butt"/>
<line x1="506.29" y1="166.21" x2="506.79" y2="170.18" stroke="#333" stroke-width="0.7" stroke-linecap="butt"/>
<line x1="512.44" y1="165.44" x2="512.94" y2="169.41" stroke="#333" stroke-width="0.7" stroke-linecap="butt"/>
<line x1="518.6" y1="164.68" x2="519.09" y2="168.65" stroke="#333" stroke-width="0.7" stroke-linecap="butt"/>
<line x1="524.75" y1="163.91" x2="525.24" y2="167.88" stroke="#333" stroke-width="0.7" stroke-linecap="butt"/>
<line x1="530.9" y1="163.15" x2="531.4" y2="167.12" stroke="#333" stroke-width="0.7" stroke-linecap="butt"/>
<line x1="537.06" y1="162.39" x2="537.55" y2="166.36" stroke="#333" stroke-width="0.7" stroke-linecap="butt"/>
<line x1="543.21" y1="161.62" x2="543.7" y2="165.59" stroke="#333" stroke-width="0.7" stroke-linecap="butt"/>
<line x1="549.36" y1="160.86" x2="549.85" y2="164.83" stroke="#333" stroke-width="0.7" stroke-linecap="butt"/>
<line x1="555.51" y1="160.09" x2="556.01" y2="164.06" stroke="#333" stroke-width="0.7" stroke-linecap="butt"/>
<line x1="561.67" y1="159.33" x2="562.16" y2="163.3" stroke="#333" stroke-width="0.7" stroke-linecap="butt"/>
<line x1="567.82" y1="158.57" x2="568.31" y2="162.54" stroke="#333" stroke-width="0.7" stroke-linecap="butt"/>
<line x1="573.97" y1="157.8" x2="574.47" y2="161.77" stroke="#333" stroke-width="0.7" stroke-linecap="butt"/>
<line x1="340.94" y1="184.93" x2="345.4" y2="184.37" stroke="#555" stroke-width="0.7" stroke-linecap="butt"/>
<line x1="349.87" y1="183.82" x2="354.34" y2="183.26" stroke="#555" stroke-width="0.7" stroke-linecap="butt"/>
<line x1="358.8" y1="182.71" x2="363.27" y2="182.16" stroke="#555" stroke-width="0.7" stroke-linecap="butt"/>
<line x1="367.73" y1="181.6" x2="372.2" y2="181.05" stroke="#555" stroke-width="0.7" stroke-linecap="butt"/>
<line x1="376.66" y1="180.49" x2="381.13" y2="179.94" stroke="#555" stroke-width="0.7" stroke-linecap="butt"/>
<line x1="385.6" y1="179.38" x2="390.06" y2="178.83" stroke="#555" stroke-width="0.7" stroke-linecap="butt"/>
<line x1="394.53" y1="178.27" x2="398.99" y2="177.72" stroke="#555" stroke-width="0.7" stroke-linecap="butt"/>
<line x1="403.46" y1="177.16" x2="407.92" y2="176.61" stroke="#555" stroke-width="0.7" stroke-linecap="butt"/>
<line x1="412.39" y1="176.05" x2="416.86" y2="175.5" stroke="#555" stroke-width="0.7" stroke-linecap="butt"/>
<line x1="421.32" y1="174.95" x2="425.79" y2="174.39" stroke="#555" stroke-width="0.7" stroke-linecap="butt"/>
<line x1="430.25" y1="173.84" x2="434.72" y2="173.28" stroke="#555" stroke-width="0.7" stroke-linecap="butt"/>
<line x1="439.18" y1="172.73" x2="443.65" y2="172.17" stroke="#555" stroke-width="0.7" stroke-linecap="butt"/>
<line x1="448.12" y1="171.62" x2="452.58" y2="171.06" stroke="#555" stroke-width="0.7" stroke-linecap="butt"/>
<line x1="457.05" y1="170.51" x2="461.51" y2="169.95" stroke="#555" stroke-width="0.7" stroke-linecap="butt"/>
<line x1="465.98" y1="169.4" x2="470.44" y2="168.85" stroke="#555" stroke-width="0.7" stroke-linecap="butt"/>
<line x1="474.91" y1="168.29" x2="479.38" y2="167.74" stroke="#555" stroke-width="0.7" stroke-linecap="butt"/>
<line x1="483.84" y1="167.18" x2="488.31" y2="166.63" stroke="#555" stroke-width="0.7" stroke-linecap="butt"/>
<line x1="492.77" y1="166.07" x2="497.24" y2="165.52" stroke="#555" stroke-width="0.7" stroke-linecap="butt"/>
<line x1="501.7" y1="164.96" x2="506.17" y2="164.41" stroke="#555" stroke-width="0.7" stroke-linecap="butt"/>
<line x1="510.64" y1="163.85" x2="515.1" y2="163.3" stroke="#555" stroke-width="0.7" stroke-linecap="butt"/>
<line x1="519.57" y1="162.74" x2="524.03" y2="162.19" stroke="#555" stroke-width="0.7" stroke-linecap="butt"/>
<line x1="528.5" y1="161.64" x2="532.96" y2="161.08" stroke="#555" stroke-width="0.7" stroke-linecap="butt"/>
<line x1="537.43" y1="160.53" x2="541.9" y2="159.97" stroke="#555" stroke-width="0.7" stroke-linecap="butt"/>
<line x1="546.36" y1="159.42" x2="550.83" y2="158.86" stroke="#555" stroke-width="0.7" stroke-linecap="butt"/>
<line x1="555.29" y1="158.31" x2="559.76" y2="157.75" stroke="#555" stroke-width="0.7" stroke-linecap="butt"/>
<line x1="564.22" y1="157.2" x2="568.69" y2="156.64" stroke="#555" stroke-width="0.7" stroke-linecap="butt"/>
<line x1="573.15" y1="156.09" x2="577.62" y2="155.53" stroke="#555" stroke-width="0.7" stroke-linecap="butt"/>
<line x1="365.7" y1="211" x2="365.7" y2="765" stroke="#111" stroke-width="1" stroke-linecap="butt"/>
<line x1="367.6" y1="211" x2="367.6" y2="765" stroke="#111" stroke-width="1" stroke-linecap="butt"/>
<line x1="345.6" y1="211.4" x2="365.8" y2="211.4" stroke="#111" stroke-width="1.1" stroke-linecap="butt"/>
<line x1="365.8" y1="210.3" x2="579.4" y2="184.3" stroke="#111" stroke-width="1.6" stroke-linecap="butt"/>
<line x1="432.5" y1="288.3" x2="579.4" y2="263.9" stroke="#111" stroke-width="1.6" stroke-linecap="butt"/>
<line x1="579.4" y1="139" x2="579.4" y2="281.6" stroke="#111" stroke-width="1" stroke-linecap="butt"/>
<line x1="428.7" y1="198.9" x2="428.7" y2="291.9" stroke="#111" stroke-width="0.9" stroke-linecap="butt"/>
<line x1="432.5" y1="198.3" x2="432.5" y2="291.9" stroke="#111" stroke-width="0.9" stroke-linecap="butt"/>
<line x1="428.7" y1="198.9" x2="432.5" y2="198.3" stroke="#111" stroke-width="0.9" stroke-linecap="butt"/>
<line x1="428.7" y1="291.9" x2="432.5" y2="291.9" stroke="#111" stroke-width="0.9" stroke-linecap="butt"/>
<line x1="429.7" y1="291.9" x2="400.4" y2="784.4" stroke="#111" stroke-width="1" stroke-linecap="butt"/>
<line x1="431.2" y1="291.9" x2="402" y2="784.4" stroke="#111" stroke-width="0.8" stroke-linecap="butt"/>
<line x1="366.8" y1="784.8" x2="402" y2="784.8" stroke="#111" stroke-width="1.1" stroke-linecap="butt"/>
<line x1="345.6" y1="215.7" x2="365.7" y2="230.8" stroke="#111" stroke-width="1" stroke-linecap="butt"/>
<line x1="367.6" y1="364.7" x2="424.6" y2="364.7" stroke="#111" stroke-width="1" stroke-linecap="butt"/>
<line x1="345.1" y1="358.7" x2="365.7" y2="358.7" stroke="#111" stroke-width="1" stroke-linecap="butt"/>
<line x1="342.5" y1="361.2" x2="347.5" y2="361.2" stroke="#111" stroke-width="0.7" stroke-linecap="butt"/>
<line x1="345.1" y1="487.2" x2="365.7" y2="487.2" stroke="#111" stroke-width="1" stroke-linecap="butt"/>
<line x1="342.5" y1="489.7" x2="347.5" y2="489.7" stroke="#111" stroke-width="0.7" stroke-linecap="butt"/>
<line x1="345.1" y1="614.6" x2="365.7" y2="614.6" stroke="#111" stroke-width="1" stroke-linecap="butt"/>
<line x1="342.5" y1="617.1" x2="347.5" y2="617.1" stroke="#111" stroke-width="0.7" stroke-linecap="butt"/>
<line x1="345.1" y1="732.3" x2="365.7" y2="732.3" stroke="#111" stroke-width="1" stroke-linecap="butt"/>
<line x1="342.5" y1="734.8" x2="347.5" y2="734.8" stroke="#111" stroke-width="0.7" stroke-linecap="butt"/>
<line x1="452" y1="174.6" x2="455" y2="198" stroke="#111" stroke-width="0.9" stroke-linecap="butt"/>
<line x1="515.9" y1="166.8" x2="518.3" y2="190" stroke="#111" stroke-width="0.9" stroke-linecap="butt"/>
<line x1="382.1" y1="118" x2="382.1" y2="302.5" stroke="#1a1a1a" stroke-width="0.9" stroke-dasharray="22,3,4,3"/>
<rect x="299.7" y="160.4" width="189.3" height="108.4" rx="25" fill="none" stroke="#1a1a1a" stroke-width="1.1" stroke-dasharray="6,2.8"/>
<rect x="255.7" y="739.8" width="297.5" height="173.4" rx="38" fill="none" stroke="#1a1a1a" stroke-width="1.1" stroke-dasharray="6,2.8"/>
<circle cx="265.6" cy="124.3" r="21.4" fill="none" stroke="#111" stroke-width="1.3"/>
<line x1="244.2" y1="124.3" x2="287" y2="124.3" stroke="#111" stroke-width="1.2" stroke-linecap="butt"/>
<text x="266.6" y="121.7" font-family="Liberation Sans" font-size="16.5" font-weight="normal" fill="#1a1a1a" text-anchor="middle" textLength="4.2" lengthAdjust="spacingAndGlyphs">1</text>
<text x="266.2" y="138.7" font-family="Liberation Sans" font-size="16.5" font-weight="normal" fill="#1a1a1a" text-anchor="middle" textLength="23.1" lengthAdjust="spacingAndGlyphs">A5.1</text>
<polyline points="287,124.4 305.8,124.4 325.5,160.4" fill="none" stroke="#111" stroke-width="1" stroke-linejoin="miter"/>
<circle cx="216.5" cy="686.6" r="21.4" fill="none" stroke="#111" stroke-width="1.3"/>
<line x1="195.1" y1="686.6" x2="237.9" y2="686.6" stroke="#111" stroke-width="1.2" stroke-linecap="butt"/>
<text x="217.5" y="684" font-family="Liberation Sans" font-size="16.5" font-weight="normal" fill="#1a1a1a" text-anchor="middle" textLength="6.8" lengthAdjust="spacingAndGlyphs">3</text>
<text x="217.1" y="701" font-family="Liberation Sans" font-size="16.5" font-weight="normal" fill="#1a1a1a" text-anchor="middle" textLength="25.8" lengthAdjust="spacingAndGlyphs">A5.2</text>
<polyline points="237.9,686.6 258.4,686.6 295,739.8" fill="none" stroke="#111" stroke-width="1" stroke-linejoin="miter"/>
<polyline points="203,635.7 335.5,674.4 579.7,707.4" fill="none" stroke="#111" stroke-width="0.9" stroke-dasharray="8,3.5" stroke-linejoin="miter"/>
<text x="575.1" y="111.9" font-family="Liberation Sans" font-size="7.9" font-weight="normal" fill="#111" text-anchor="start" textLength="78.9" lengthAdjust="spacingAndGlyphs" stroke="#111" stroke-width="0.18">PRE-FINISHED METAL</text>
<text x="575.1" y="121" font-family="Liberation Sans" font-size="7.9" font-weight="normal" fill="#111" text-anchor="start" textLength="84.1" lengthAdjust="spacingAndGlyphs" stroke="#111" stroke-width="0.18">ROOF ASSEMBLY WITH</text>
<text x="575.1" y="130.1" font-family="Liberation Sans" font-size="7.9" font-weight="normal" fill="#111" text-anchor="start" textLength="95.5" lengthAdjust="spacingAndGlyphs" stroke="#111" stroke-width="0.18">VINYL FACED INSULATION</text>
<polyline points="570.3,111.1 541,111.1" fill="none" stroke="#111" stroke-width="1" stroke-linejoin="miter"/>
<line x1="541" y1="111.1" x2="505.7" y2="162.6" stroke="#111" stroke-width="0.9" stroke-linecap="butt"/>
<polygon points="505.7,162.6 507.9,157.44 509.72,158.69" fill="#111" stroke="none" stroke-width="0"/>
<text x="202.9" y="354.8" font-family="Liberation Sans" font-size="7.9" font-weight="normal" fill="#111" text-anchor="start" textLength="78.5" lengthAdjust="spacingAndGlyphs" stroke="#111" stroke-width="0.18">PRE-FINISHED METAL</text>
<text x="202.9" y="363.7" font-family="Liberation Sans" font-size="7.9" font-weight="normal" fill="#111" text-anchor="start" textLength="69.6" lengthAdjust="spacingAndGlyphs" stroke="#111" stroke-width="0.18">SIDING WITH VINYL</text>
<text x="202.9" y="372.6" font-family="Liberation Sans" font-size="7.9" font-weight="normal" fill="#111" text-anchor="start" textLength="65.9" lengthAdjust="spacingAndGlyphs" stroke="#111" stroke-width="0.18">FACE INSULATION</text>
<polyline points="272.5,360.4 302.1,360.4" fill="none" stroke="#111" stroke-width="1" stroke-linejoin="miter"/>
<line x1="302.1" y1="360.4" x2="342" y2="385.5" stroke="#111" stroke-width="0.9" stroke-linecap="butt"/>
<polygon points="342,385.5 336.76,383.5 337.93,381.64" fill="#111" stroke="none" stroke-width="0"/>
<text x="201.4" y="431.8" font-family="Liberation Sans" font-size="7.9" font-weight="normal" fill="#111" text-anchor="start" textLength="75.3" lengthAdjust="spacingAndGlyphs" stroke="#111" stroke-width="0.18">STRUCTURAL STEEL</text>
<text x="201.4" y="440.2" font-family="Liberation Sans" font-size="7.9" font-weight="normal" fill="#111" text-anchor="start" textLength="31.6" lengthAdjust="spacingAndGlyphs" stroke="#111" stroke-width="0.18">PURLINS</text>
<polyline points="236,437.5 280.4,437.5" fill="none" stroke="#111" stroke-width="1" stroke-linejoin="miter"/>
<line x1="280.4" y1="437.5" x2="355.2" y2="486" stroke="#111" stroke-width="0.9" stroke-linecap="butt"/>
<polygon points="355.2,486 349.99,483.93 351.18,482.08" fill="#111" stroke="none" stroke-width="0"/>
<text x="507" y="359.2" font-family="Liberation Sans" font-size="7.9" font-weight="normal" fill="#111" text-anchor="start" textLength="55.3" lengthAdjust="spacingAndGlyphs" stroke="#111" stroke-width="0.18">PRE-ENGINEER</text>
<text x="507" y="368.5" font-family="Liberation Sans" font-size="7.9" font-weight="normal" fill="#111" text-anchor="start" textLength="74.7" lengthAdjust="spacingAndGlyphs" stroke="#111" stroke-width="0.18">STRUCTURAL STEEL</text>
<text x="507" y="377.4" font-family="Liberation Sans" font-size="7.9" font-weight="normal" fill="#111" text-anchor="start" textLength="66.7" lengthAdjust="spacingAndGlyphs" stroke="#111" stroke-width="0.18">FRAME ASSEMBLY</text>
<polyline points="502.2,357.4 454.3,357.4" fill="none" stroke="#111" stroke-width="1" stroke-linejoin="miter"/>
<line x1="454.3" y1="357.4" x2="409.9" y2="408" stroke="#111" stroke-width="0.9" stroke-linecap="butt"/>
<polygon points="409.9,408 412.7,403.14 414.35,404.59" fill="#111" stroke="none" stroke-width="0"/>
<polyline points="562.3,357.4 594.8,357.4" fill="none" stroke="#111" stroke-width="1" stroke-linejoin="miter"/>
<line x1="594.8" y1="357.4" x2="548" y2="259.5" stroke="#111" stroke-width="0.9" stroke-linecap="butt"/>
<polygon points="548,259.5 551.36,263.99 549.38,264.94" fill="#111" stroke="none" stroke-width="0"/>
<text x="607.2" y="748" font-family="Liberation Sans" font-size="7.9" font-weight="normal" fill="#111" text-anchor="start" textLength="41.8" lengthAdjust="spacingAndGlyphs" stroke="#111" stroke-width="0.18">CONCRETE</text>
<text x="607.2" y="756.8" font-family="Liberation Sans" font-size="7.9" font-weight="normal" fill="#111" text-anchor="start" textLength="46.1" lengthAdjust="spacingAndGlyphs" stroke="#111" stroke-width="0.18">FLOOR SLAB</text>
<polyline points="606.3,746.4 577.4,746.4" fill="none" stroke="#111" stroke-width="1" stroke-linejoin="miter"/>
<line x1="577.4" y1="746.4" x2="508.7" y2="791.5" stroke="#111" stroke-width="0.9" stroke-linecap="butt"/>
<polygon points="508.7,791.5 512.69,787.56 513.9,789.4" fill="#111" stroke="none" stroke-width="0"/>
<rect x="256.8" y="923.4" width="53.8" height="32.2" fill="none" stroke="#111" stroke-width="1.1"/>
<line x1="256.8" y1="939.1" x2="310.6" y2="939.1" stroke="#111" stroke-width="1" stroke-linecap="butt"/>
<line x1="283.5" y1="939.1" x2="283.5" y2="955.6" stroke="#111" stroke-width="1" stroke-linecap="butt"/>
<text x="283" y="936.8" font-family="Liberation Sans" font-size="12.8" font-weight="bold" fill="#111" text-anchor="middle">1</text>
<text x="262.1" y="951.3" font-family="Liberation Sans" font-size="9.2" font-weight="normal" fill="#1a1a1a" text-anchor="start" textLength="16.1" lengthAdjust="spacingAndGlyphs">A5.0</text>
<text x="289.2" y="951.3" font-family="Liberation Sans" font-size="9.2" font-weight="normal" fill="#1a1a1a" text-anchor="start" textLength="16.4" lengthAdjust="spacingAndGlyphs">A5.0</text>
<text x="318.6" y="936.8" font-family="Liberation Sans" font-size="14" font-weight="bold" fill="#111" text-anchor="start" textLength="109.7" lengthAdjust="spacingAndGlyphs">WALL SECTION</text>
<line x1="310.6" y1="939.4" x2="534.3" y2="939.4" stroke="#111" stroke-width="1" stroke-linecap="butt"/>
<text x="319.5" y="951.6" font-family="Liberation Sans" font-size="8.8" font-weight="normal" fill="#1a1a1a" text-anchor="start" textLength="80.2" lengthAdjust="spacingAndGlyphs">SCALE:  3/4"=1'-0"</text>
<path d="M704.9 741.5H712.0M704.9 748.5H712.0M710.5 750.0V766.4M704.9 768.5H712.0M707.8 774.5H712.0M710.5 781.5H712.0M713.5 737.6V750.0M720.5 737.6V750.0M726.5 737.6V750.0M728.4 741.5H744.8M728.4 748.5H744.8M712.0 751.5H728.4M712.0 758.5H728.4M712.0 764.5H728.4M730.5 750.0V766.4M736.5 750.0V766.4M743.5 750.0V766.4M713.5 766.4V782.8M720.5 766.4V782.8M726.5 766.4V782.8M728.4 768.5H744.8M728.4 774.5H744.8M728.4 781.5H744.8M712.0 784.5H728.4M715.6 791.5H728.4M724.2 797.5H728.4M730.5 782.8V799.2M736.5 782.8V799.2M743.5 782.8V799.2M730.8 800.5H744.8M737.4 807.5H744.8M743.6 814.5H744.8M746.5 737.6V750.0M753.5 737.6V750.0M759.5 737.6V750.0M761.2 741.5H776.2M761.2 748.5H776.2M744.8 751.5H761.2M744.8 758.5H761.2M744.8 764.5H761.2M762.5 750.0V766.4M769.5 750.0V766.4M775.5 750.0V766.4M746.5 766.4V782.8M753.5 766.4V782.8M759.5 766.4V782.8M761.2 768.5H776.2M761.2 774.5H776.2M761.2 781.5H776.2M744.8 784.5H761.2M744.8 791.5H761.2M744.8 797.5H761.2M762.5 782.8V799.2M769.5 782.8V799.2M775.5 782.8V799.2M746.5 799.2V815.6M753.5 799.2V815.6M759.5 799.2V815.6M761.2 800.5H776.2M761.2 807.5H777.6M761.2 814.5H777.6M746.2 817.5H761.2M753.0 823.5H761.2M762.5 815.6V827.9M769.5 815.6V827.8M775.5 815.6V827.6M802.5 759.1V766.4M808.5 759.1V766.4M797.7 768.5H810.4M797.7 774.5H810.4M797.7 781.5H810.4M802.5 782.8V799.2M808.5 782.8V799.2M779.5 801.1V815.6M785.5 801.1V815.6M792.5 801.1V815.6M797.7 800.5H810.4M794.0 807.5H810.4M794.0 814.5H810.4M777.6 817.5H794.0M777.6 823.5H794.0M795.5 815.6V827.1M802.5 815.6V826.5M808.5 815.6V825.0M810.4 764.5H826.8M828.5 759.1V766.4M835.5 759.1V766.4M841.5 759.1V766.4M812.5 766.4V782.8M818.5 766.4V782.8M825.5 766.4V782.8M826.8 768.5H843.2M826.8 774.5H843.2M826.8 781.5H843.2M810.4 784.5H826.8M810.4 791.5H826.8M810.4 797.5H826.8M828.5 782.8V799.2M835.5 782.8V797.0M841.5 782.8V793.9M812.5 799.2V815.6M818.5 799.2V815.6M825.5 799.2V812.4M826.8 800.5H832.4M826.8 807.5H827.8M810.4 817.5H823.6M810.4 823.5H814.1M843.2 764.5H859.6M861.5 759.1V766.4M867.5 759.1V766.4M874.5 759.1V766.4M844.5 766.4V782.8M851.5 766.4V782.8M858.5 766.4V782.8M859.6 768.5H876.0M859.6 774.5H876.0M859.6 781.5H876.0M843.2 784.5H859.6M843.2 791.5H847.9M861.5 782.8V786.1M867.5 782.8V783.8M876.0 764.5H884.0M877.5 766.4V781.9" stroke="#111" stroke-width="1" fill="none"/>
<polygon points="776.2,737.6 961.4,737.6 961.4,759.1 797.7,759.1 797.7,801.1 776.2,801.1" fill="#fff" stroke="none" stroke-width="0"/>
<g><circle cx="874.18" cy="756.34" r="0.5" fill="#333"/><circle cx="918.51" cy="741.14" r="0.56" fill="#333"/><polygon points="825.88,751.83 827.33,754.47 824.32,754.41" fill="none" stroke="#222" stroke-width="0.6"/><circle cx="797.59" cy="757.48" r="0.64" fill="#333"/><circle cx="789.28" cy="764.01" r="0.62" fill="#333"/><circle cx="827.59" cy="742.74" r="0.61" fill="#333"/><circle cx="827.22" cy="751.7" r="0.72" fill="#1a1a1a"/><circle cx="905.34" cy="743.04" r="0.52" fill="#333"/><circle cx="777.83" cy="777.3" r="0.77" fill="#1a1a1a"/><circle cx="788.03" cy="766.01" r="0.61" fill="#333"/><polygon points="783.44,788.41 785.89,789.14 784.04,790.9" fill="#222" stroke="#222" stroke-width="0.6"/><polygon points="781.27,787.24 782.86,784.75 784.22,787.37" fill="#222" stroke="#222" stroke-width="0.6"/><circle cx="953.32" cy="758.86" r="0.46" fill="#333"/><circle cx="864.75" cy="746.83" r="0.59" fill="#333"/><circle cx="839.8" cy="750.28" r="0.51" fill="#333"/><circle cx="813.24" cy="754.93" r="0.59" fill="#333"/><polygon points="788.34,749.29 790.57,751.92 787.17,752.53" fill="none" stroke="#222" stroke-width="0.6"/><polygon points="957.95,758.54 958.29,756.07 960.26,757.6" fill="none" stroke="#222" stroke-width="0.6"/><circle cx="795.91" cy="745.16" r="0.89" fill="#1a1a1a"/><circle cx="800.71" cy="745.3" r="0.55" fill="#333"/><polygon points="815.04,752.13 817.49,754.64 814.1,755.52" fill="none" stroke="#222" stroke-width="0.6"/><circle cx="801.72" cy="739.39" r="0.85" fill="#1a1a1a"/><circle cx="846.62" cy="739.16" r="0.61" fill="#333"/><circle cx="862.15" cy="741.26" r="0.56" fill="#333"/><circle cx="790.2" cy="758.49" r="0.63" fill="#333"/><circle cx="814.89" cy="753.57" r="0.53" fill="#333"/><circle cx="796.26" cy="774.96" r="0.75" fill="#1a1a1a"/><circle cx="857.74" cy="742.75" r="0.46" fill="#333"/><circle cx="886.95" cy="742.46" r="0.95" fill="#1a1a1a"/><circle cx="784.21" cy="744.37" r="0.61" fill="#333"/><circle cx="784.17" cy="741.59" r="0.93" fill="#1a1a1a"/><circle cx="945.61" cy="754.77" r="0.7" fill="#1a1a1a"/><circle cx="915.9" cy="744.98" r="0.59" fill="#333"/><circle cx="796.58" cy="787" r="0.63" fill="#333"/><circle cx="777.61" cy="790.96" r="0.61" fill="#333"/><circle cx="791.42" cy="741.94" r="0.51" fill="#333"/><circle cx="849.92" cy="739.07" r="0.45" fill="#333"/><circle cx="861.1" cy="746.11" r="0.49" fill="#333"/><circle cx="855.8" cy="745.39" r="0.56" fill="#333"/><circle cx="841.78" cy="744.38" r="0.62" fill="#333"/><circle cx="932.61" cy="744.84" r="0.51" fill="#333"/><circle cx="916.88" cy="747.69" r="0.65" fill="#333"/><polygon points="917.55,737.73 919.42,739.25 917.16,740.11" fill="none" stroke="#222" stroke-width="0.6"/><circle cx="908.49" cy="740.48" r="0.62" fill="#333"/><circle cx="823.48" cy="757.08" r="0.51" fill="#333"/><circle cx="794.55" cy="765.84" r="0.58" fill="#333"/><circle cx="915.09" cy="755.46" r="0.8" fill="#1a1a1a"/><circle cx="781.03" cy="752.79" r="0.63" fill="#333"/><circle cx="796.41" cy="789.36" r="0.86" fill="#1a1a1a"/><circle cx="954.11" cy="748.51" r="0.58" fill="#333"/><circle cx="793.62" cy="751.66" r="0.93" fill="#1a1a1a"/><circle cx="779.7" cy="754.6" r="0.65" fill="#333"/><polygon points="823.19,756.21 820.94,753.93 824.04,753.11" fill="#222" stroke="#222" stroke-width="0.6"/><polygon points="832.03,743.54 832.43,741.3 834.17,742.76" fill="#222" stroke="#222" stroke-width="0.6"/><circle cx="809.79" cy="744.76" r="0.8" fill="#1a1a1a"/><circle cx="910.63" cy="744.43" r="0.52" fill="#333"/><circle cx="929.67" cy="740.49" r="0.5" fill="#333"/><polygon points="901.27,754.85 900.19,757.12 898.77,755.05" fill="#222" stroke="#222" stroke-width="0.6"/><circle cx="898.34" cy="749.71" r="0.72" fill="#1a1a1a"/><polygon points="819.46,744.03 816.17,743.04 818.67,740.69" fill="none" stroke="#222" stroke-width="0.6"/><circle cx="873.02" cy="745.46" r="0.9" fill="#1a1a1a"/><circle cx="917.31" cy="752.37" r="0.75" fill="#1a1a1a"/><circle cx="936.52" cy="741.71" r="0.62" fill="#333"/><circle cx="820.22" cy="740.41" r="0.47" fill="#333"/><circle cx="794.37" cy="745.84" r="0.48" fill="#333"/><circle cx="798.87" cy="742.78" r="0.54" fill="#333"/><circle cx="790.3" cy="752.28" r="0.56" fill="#333"/><circle cx="934.37" cy="745.37" r="0.55" fill="#333"/><circle cx="821.12" cy="749.09" r="0.49" fill="#333"/><circle cx="792.42" cy="754.92" r="0.54" fill="#333"/><circle cx="911.18" cy="743.18" r="0.51" fill="#333"/><circle cx="843.38" cy="745.96" r="0.55" fill="#333"/><circle cx="810.17" cy="739.27" r="0.55" fill="#333"/><circle cx="781.68" cy="767.52" r="0.56" fill="#333"/><circle cx="942.58" cy="749.78" r="0.85" fill="#1a1a1a"/><circle cx="942.37" cy="743.64" r="0.71" fill="#1a1a1a"/><circle cx="857.63" cy="747.24" r="0.89" fill="#1a1a1a"/><circle cx="779.51" cy="796.93" r="0.82" fill="#1a1a1a"/><circle cx="891.01" cy="751.91" r="0.49" fill="#333"/><circle cx="781.41" cy="761.6" r="0.91" fill="#1a1a1a"/><circle cx="777.23" cy="775.96" r="0.81" fill="#1a1a1a"/><circle cx="802.42" cy="753.39" r="0.94" fill="#1a1a1a"/><circle cx="804.52" cy="747.03" r="0.57" fill="#333"/><circle cx="939.61" cy="742.1" r="0.74" fill="#1a1a1a"/><circle cx="952.51" cy="755.14" r="0.53" fill="#333"/><polygon points="786.33,796.13 785.71,793.94 787.92,794.5" fill="#222" stroke="#222" stroke-width="0.6"/><circle cx="798.56" cy="753.59" r="0.57" fill="#333"/><polygon points="951.68,749.59 955.16,749.3 953.68,752.46" fill="#222" stroke="#222" stroke-width="0.6"/><circle cx="903.99" cy="754.32" r="0.79" fill="#1a1a1a"/><circle cx="790.65" cy="784.19" r="0.54" fill="#333"/><circle cx="778.96" cy="767.83" r="0.59" fill="#333"/><circle cx="895.83" cy="749.69" r="0.61" fill="#333"/><circle cx="952.69" cy="751.34" r="0.64" fill="#333"/><circle cx="942.1" cy="752.9" r="0.52" fill="#333"/><circle cx="800.57" cy="752.29" r="0.77" fill="#1a1a1a"/><circle cx="783.73" cy="746.96" r="0.53" fill="#333"/><circle cx="791.45" cy="774.41" r="0.57" fill="#333"/><circle cx="857.3" cy="749.39" r="0.45" fill="#333"/><circle cx="901.04" cy="748.5" r="0.64" fill="#333"/><circle cx="832.32" cy="754.33" r="0.57" fill="#333"/><polygon points="884.8,749.09 886.68,751.42 883.73,751.88" fill="#222" stroke="#222" stroke-width="0.6"/><circle cx="790.03" cy="738.89" r="0.87" fill="#1a1a1a"/><circle cx="777.92" cy="752.74" r="0.88" fill="#1a1a1a"/><polygon points="960.07,739.4 957.39,741.72 956.71,738.24" fill="#222" stroke="#222" stroke-width="0.6"/><polygon points="865.64,755.66 863.56,754.54 865.57,753.3" fill="#222" stroke="#222" stroke-width="0.6"/><circle cx="867.3" cy="750.19" r="0.56" fill="#333"/><circle cx="786.59" cy="748.07" r="0.53" fill="#333"/><circle cx="908.56" cy="752.71" r="0.61" fill="#333"/><circle cx="794.46" cy="774.65" r="0.88" fill="#1a1a1a"/><circle cx="819.56" cy="744.34" r="0.56" fill="#333"/><circle cx="802.52" cy="750.45" r="0.47" fill="#333"/><circle cx="893.34" cy="753.42" r="0.81" fill="#1a1a1a"/><circle cx="782.86" cy="783.15" r="0.77" fill="#1a1a1a"/><circle cx="814.69" cy="757.73" r="0.5" fill="#333"/><circle cx="806.03" cy="752.52" r="0.62" fill="#333"/><circle cx="922.73" cy="757.65" r="0.88" fill="#1a1a1a"/><polygon points="786.06,775.95 788.16,774.97 787.97,777.28" fill="#222" stroke="#222" stroke-width="0.6"/><polygon points="860.1,750.53 862.83,749.41 862.45,752.33" fill="#222" stroke="#222" stroke-width="0.6"/><polygon points="917.66,745.3 919.91,743.66 920.21,746.43" fill="#222" stroke="#222" stroke-width="0.6"/><circle cx="899.67" cy="752.25" r="0.82" fill="#1a1a1a"/><circle cx="890.55" cy="745.05" r="0.58" fill="#333"/><circle cx="828.24" cy="740.9" r="0.63" fill="#333"/><polygon points="890.91,755.16 892.18,758.2 888.91,757.78" fill="#222" stroke="#222" stroke-width="0.6"/><polygon points="794.86,763.48 791.35,764.2 792.48,760.79" fill="#222" stroke="#222" stroke-width="0.6"/><polygon points="918.58,748.07 916.53,746.93 918.54,745.72" fill="none" stroke="#222" stroke-width="0.6"/><circle cx="929.82" cy="749" r="0.89" fill="#1a1a1a"/><circle cx="799.78" cy="753.53" r="0.47" fill="#333"/><circle cx="887.86" cy="756.36" r="0.59" fill="#333"/><circle cx="911.67" cy="746.57" r="0.94" fill="#1a1a1a"/><circle cx="796.8" cy="788.62" r="0.76" fill="#1a1a1a"/><circle cx="958.67" cy="747.73" r="0.51" fill="#333"/><circle cx="839.78" cy="750.13" r="0.61" fill="#333"/><circle cx="779.11" cy="785.55" r="0.63" fill="#333"/><circle cx="951.61" cy="758.71" r="0.61" fill="#333"/><circle cx="846.49" cy="745.38" r="0.93" fill="#1a1a1a"/><circle cx="926.14" cy="754.17" r="0.53" fill="#333"/><circle cx="931.03" cy="746.82" r="0.52" fill="#333"/><circle cx="938.2" cy="747.15" r="0.6" fill="#333"/><circle cx="785.99" cy="792.11" r="0.54" fill="#333"/><circle cx="822.88" cy="744.77" r="0.71" fill="#1a1a1a"/><polygon points="923.05,751.21 924.34,753.17 922,753.31" fill="#222" stroke="#222" stroke-width="0.6"/><circle cx="882.22" cy="745.11" r="0.62" fill="#333"/><circle cx="899.13" cy="751.39" r="0.52" fill="#333"/><circle cx="783.59" cy="774.94" r="0.59" fill="#333"/><circle cx="855.85" cy="744.28" r="0.61" fill="#333"/><circle cx="924.08" cy="752.07" r="0.65" fill="#333"/><circle cx="814.16" cy="757.16" r="0.88" fill="#1a1a1a"/><circle cx="922.88" cy="749.88" r="0.56" fill="#333"/><circle cx="815.19" cy="740.04" r="0.63" fill="#333"/><circle cx="879.79" cy="747.44" r="0.61" fill="#333"/><circle cx="824.67" cy="755.57" r="0.55" fill="#333"/><polygon points="862.66,742.74 864.49,744.76 861.82,745.33" fill="none" stroke="#222" stroke-width="0.6"/><circle cx="820.63" cy="754.32" r="0.49" fill="#333"/><circle cx="946.68" cy="741.83" r="0.54" fill="#333"/><circle cx="793.02" cy="742.88" r="0.59" fill="#333"/><circle cx="822.11" cy="750.83" r="0.8" fill="#1a1a1a"/><circle cx="890.46" cy="757.25" r="0.75" fill="#1a1a1a"/><circle cx="792.77" cy="750.48" r="0.83" fill="#1a1a1a"/><circle cx="863.57" cy="750.77" r="0.48" fill="#333"/><circle cx="808.2" cy="743.11" r="0.64" fill="#333"/><circle cx="882.1" cy="738.99" r="0.6" fill="#333"/><circle cx="856.45" cy="756.94" r="0.58" fill="#333"/><circle cx="810.62" cy="745.7" r="0.61" fill="#333"/><circle cx="782.1" cy="758.48" r="0.55" fill="#333"/><circle cx="864.57" cy="759.06" r="0.57" fill="#333"/><circle cx="921.19" cy="754.63" r="0.53" fill="#333"/><circle cx="875.93" cy="755.56" r="0.91" fill="#1a1a1a"/><polygon points="782.36,752.03 779.26,750.72 781.94,748.69" fill="#222" stroke="#222" stroke-width="0.6"/><circle cx="787.75" cy="754.83" r="0.59" fill="#333"/><circle cx="793.61" cy="795.49" r="0.49" fill="#333"/><circle cx="847.87" cy="744.33" r="0.6" fill="#333"/><circle cx="784.18" cy="742.04" r="0.71" fill="#1a1a1a"/><circle cx="797.78" cy="748.56" r="0.85" fill="#1a1a1a"/><circle cx="823.61" cy="752.91" r="0.65" fill="#333"/><circle cx="906.52" cy="749.37" r="0.74" fill="#1a1a1a"/><circle cx="788" cy="771.21" r="0.46" fill="#333"/><circle cx="803.3" cy="749.37" r="0.59" fill="#333"/><circle cx="778.04" cy="787.93" r="0.55" fill="#333"/><circle cx="778.23" cy="787.68" r="0.58" fill="#333"/><circle cx="889.9" cy="758.06" r="0.5" fill="#333"/><circle cx="866.74" cy="755.52" r="0.47" fill="#333"/><circle cx="948.19" cy="743.97" r="0.47" fill="#333"/><circle cx="827.88" cy="745.59" r="0.54" fill="#333"/><circle cx="910.27" cy="754.38" r="0.58" fill="#333"/><circle cx="795.08" cy="768.97" r="0.49" fill="#333"/><circle cx="897.07" cy="755.69" r="0.63" fill="#333"/></g>
<line x1="704.9" y1="737.6" x2="961.4" y2="737.6" stroke="#111" stroke-width="1.2" stroke-linecap="butt"/>
<line x1="797.7" y1="749.5" x2="961.4" y2="749.5" stroke="#111" stroke-width="1" stroke-linecap="butt"/>
<line x1="704.9" y1="759.1" x2="776.2" y2="759.1" stroke="#111" stroke-width="1" stroke-linecap="butt"/>
<line x1="797.7" y1="759.1" x2="961.4" y2="759.1" stroke="#111" stroke-width="1.1" stroke-linecap="butt"/>
<line x1="961.4" y1="729.2" x2="961.4" y2="767.6" stroke="#111" stroke-width="1" stroke-linecap="butt"/>
<line x1="704.9" y1="729.2" x2="704.9" y2="768" stroke="#111" stroke-width="1" stroke-linecap="butt"/>
<rect x="776.2" y="737.6" width="21.5" height="63.5" fill="none" stroke="#111" stroke-width="1.2"/>
<rect x="779.7" y="741.9" width="13.7" height="55.5" fill="none" stroke="#111" stroke-width="1.4"/>
<line x1="779.7" y1="774.1" x2="793.4" y2="774.1" stroke="#111" stroke-width="1" stroke-linecap="butt"/>
<line x1="790.5" y1="744" x2="790.5" y2="752" stroke="#111" stroke-width="1" stroke-linecap="butt"/>
<line x1="746.8" y1="275.8" x2="959.8" y2="256" stroke="#111" stroke-width="1.2" stroke-linecap="butt"/>
<line x1="767.05" y1="277.53" x2="960.13" y2="259.58" stroke="#222" stroke-width="0.8" stroke-linecap="butt"/>
<line x1="767.23" y1="279.52" x2="960.32" y2="261.58" stroke="#777" stroke-width="0.5" stroke-linecap="butt"/>
<line x1="767.42" y1="281.52" x2="960.5" y2="263.57" stroke="#111" stroke-width="1" stroke-linecap="butt"/>
<line x1="770.03" y1="277.26" x2="770.4" y2="281.24" stroke="#333" stroke-width="0.7" stroke-linecap="butt"/>
<line x1="776.21" y1="276.68" x2="776.58" y2="280.66" stroke="#333" stroke-width="0.7" stroke-linecap="butt"/>
<line x1="782.38" y1="276.11" x2="782.75" y2="280.09" stroke="#333" stroke-width="0.7" stroke-linecap="butt"/>
<line x1="788.55" y1="275.53" x2="788.92" y2="279.52" stroke="#333" stroke-width="0.7" stroke-linecap="butt"/>
<line x1="794.73" y1="274.96" x2="795.1" y2="278.94" stroke="#333" stroke-width="0.7" stroke-linecap="butt"/>
<line x1="800.9" y1="274.39" x2="801.27" y2="278.37" stroke="#333" stroke-width="0.7" stroke-linecap="butt"/>
<line x1="807.07" y1="273.81" x2="807.45" y2="277.8" stroke="#333" stroke-width="0.7" stroke-linecap="butt"/>
<line x1="813.25" y1="273.24" x2="813.62" y2="277.22" stroke="#333" stroke-width="0.7" stroke-linecap="butt"/>
<line x1="819.42" y1="272.66" x2="819.79" y2="276.65" stroke="#333" stroke-width="0.7" stroke-linecap="butt"/>
<line x1="825.59" y1="272.09" x2="825.97" y2="276.07" stroke="#333" stroke-width="0.7" stroke-linecap="butt"/>
<line x1="831.77" y1="271.52" x2="832.14" y2="275.5" stroke="#333" stroke-width="0.7" stroke-linecap="butt"/>
<line x1="837.94" y1="270.94" x2="838.31" y2="274.93" stroke="#333" stroke-width="0.7" stroke-linecap="butt"/>
<line x1="844.12" y1="270.37" x2="844.49" y2="274.35" stroke="#333" stroke-width="0.7" stroke-linecap="butt"/>
<line x1="850.29" y1="269.8" x2="850.66" y2="273.78" stroke="#333" stroke-width="0.7" stroke-linecap="butt"/>
<line x1="856.46" y1="269.22" x2="856.83" y2="273.2" stroke="#333" stroke-width="0.7" stroke-linecap="butt"/>
<line x1="862.64" y1="268.65" x2="863.01" y2="272.63" stroke="#333" stroke-width="0.7" stroke-linecap="butt"/>
<line x1="868.81" y1="268.07" x2="869.18" y2="272.06" stroke="#333" stroke-width="0.7" stroke-linecap="butt"/>
<line x1="874.98" y1="267.5" x2="875.35" y2="271.48" stroke="#333" stroke-width="0.7" stroke-linecap="butt"/>
<line x1="881.16" y1="266.93" x2="881.53" y2="270.91" stroke="#333" stroke-width="0.7" stroke-linecap="butt"/>
<line x1="887.33" y1="266.35" x2="887.7" y2="270.34" stroke="#333" stroke-width="0.7" stroke-linecap="butt"/>
<line x1="893.5" y1="265.78" x2="893.87" y2="269.76" stroke="#333" stroke-width="0.7" stroke-linecap="butt"/>
<line x1="899.68" y1="265.2" x2="900.05" y2="269.19" stroke="#333" stroke-width="0.7" stroke-linecap="butt"/>
<line x1="905.85" y1="264.63" x2="906.22" y2="268.61" stroke="#333" stroke-width="0.7" stroke-linecap="butt"/>
<line x1="912.02" y1="264.06" x2="912.39" y2="268.04" stroke="#333" stroke-width="0.7" stroke-linecap="butt"/>
<line x1="918.2" y1="263.48" x2="918.57" y2="267.47" stroke="#333" stroke-width="0.7" stroke-linecap="butt"/>
<line x1="924.37" y1="262.91" x2="924.74" y2="266.89" stroke="#333" stroke-width="0.7" stroke-linecap="butt"/>
<line x1="930.54" y1="262.34" x2="930.91" y2="266.32" stroke="#333" stroke-width="0.7" stroke-linecap="butt"/>
<line x1="936.72" y1="261.76" x2="937.09" y2="265.74" stroke="#333" stroke-width="0.7" stroke-linecap="butt"/>
<line x1="942.89" y1="261.19" x2="943.26" y2="265.17" stroke="#333" stroke-width="0.7" stroke-linecap="butt"/>
<line x1="949.06" y1="260.61" x2="949.43" y2="264.6" stroke="#333" stroke-width="0.7" stroke-linecap="butt"/>
<line x1="955.24" y1="260.04" x2="955.61" y2="264.02" stroke="#333" stroke-width="0.7" stroke-linecap="butt"/>
<line x1="770.86" y1="275.37" x2="775.34" y2="274.95" stroke="#555" stroke-width="0.7" stroke-linecap="butt"/>
<line x1="779.82" y1="274.54" x2="784.31" y2="274.12" stroke="#555" stroke-width="0.7" stroke-linecap="butt"/>
<line x1="788.79" y1="273.7" x2="793.27" y2="273.29" stroke="#555" stroke-width="0.7" stroke-linecap="butt"/>
<line x1="797.75" y1="272.87" x2="802.23" y2="272.46" stroke="#555" stroke-width="0.7" stroke-linecap="butt"/>
<line x1="806.71" y1="272.04" x2="811.19" y2="271.62" stroke="#555" stroke-width="0.7" stroke-linecap="butt"/>
<line x1="815.67" y1="271.21" x2="820.15" y2="270.79" stroke="#555" stroke-width="0.7" stroke-linecap="butt"/>
<line x1="824.63" y1="270.37" x2="829.11" y2="269.96" stroke="#555" stroke-width="0.7" stroke-linecap="butt"/>
<line x1="833.59" y1="269.54" x2="838.07" y2="269.12" stroke="#555" stroke-width="0.7" stroke-linecap="butt"/>
<line x1="842.55" y1="268.71" x2="847.04" y2="268.29" stroke="#555" stroke-width="0.7" stroke-linecap="butt"/>
<line x1="851.52" y1="267.87" x2="856" y2="267.46" stroke="#555" stroke-width="0.7" stroke-linecap="butt"/>
<line x1="860.48" y1="267.04" x2="864.96" y2="266.62" stroke="#555" stroke-width="0.7" stroke-linecap="butt"/>
<line x1="869.44" y1="266.21" x2="873.92" y2="265.79" stroke="#555" stroke-width="0.7" stroke-linecap="butt"/>
<line x1="878.4" y1="265.37" x2="882.88" y2="264.96" stroke="#555" stroke-width="0.7" stroke-linecap="butt"/>
<line x1="887.36" y1="264.54" x2="891.84" y2="264.12" stroke="#555" stroke-width="0.7" stroke-linecap="butt"/>
<line x1="896.32" y1="263.71" x2="900.8" y2="263.29" stroke="#555" stroke-width="0.7" stroke-linecap="butt"/>
<line x1="905.28" y1="262.88" x2="909.76" y2="262.46" stroke="#555" stroke-width="0.7" stroke-linecap="butt"/>
<line x1="914.25" y1="262.04" x2="918.73" y2="261.63" stroke="#555" stroke-width="0.7" stroke-linecap="butt"/>
<line x1="923.21" y1="261.21" x2="927.69" y2="260.79" stroke="#555" stroke-width="0.7" stroke-linecap="butt"/>
<line x1="932.17" y1="260.38" x2="936.65" y2="259.96" stroke="#555" stroke-width="0.7" stroke-linecap="butt"/>
<line x1="941.13" y1="259.54" x2="945.61" y2="259.13" stroke="#555" stroke-width="0.7" stroke-linecap="butt"/>
<line x1="950.09" y1="258.71" x2="954.57" y2="258.29" stroke="#555" stroke-width="0.7" stroke-linecap="butt"/>
<polyline points="746.8,275.8 746.8,284.4 748.5,286 750.6,287.5 750.6,298.4 766.9,298.4 766.9,280.5" fill="none" stroke="#111" stroke-width="1.1" stroke-linejoin="miter"/>
<line x1="748" y1="282.3" x2="766.9" y2="282.3" stroke="#111" stroke-width="0.9" stroke-linecap="butt"/>
<rect x="766.7" y="279.6" width="4.7" height="23.8" fill="none" stroke="#111" stroke-width="1.1"/>
<line x1="768" y1="282" x2="770" y2="301" stroke="#111" stroke-width="0.7" stroke-linecap="butt"/>
<polygon points="769.5,273.5 774.5,273 775,280 770,280.8" fill="#111" stroke="none" stroke-width="0"/>
<line x1="771.4" y1="280.7" x2="771.4" y2="353" stroke="#111" stroke-width="0.9" stroke-linecap="butt"/>
<line x1="775.5" y1="280.7" x2="775.5" y2="353" stroke="#111" stroke-width="0.9" stroke-linecap="butt"/>
<line x1="773.45" y1="280.7" x2="773.45" y2="353" stroke="#777" stroke-width="1.2" stroke-dasharray="1,1.2"/>
<line x1="960.6" y1="242.3" x2="960.6" y2="347.8" stroke="#111" stroke-width="1" stroke-linecap="butt"/>
<line x1="775.5" y1="301.3" x2="795.7" y2="301.3" stroke="#111" stroke-width="1.1" stroke-linecap="butt"/>
<line x1="795.5" y1="300.6" x2="959.8" y2="286.3" stroke="#111" stroke-width="1.6" stroke-linecap="butt"/>
<line x1="862.3" y1="347.9" x2="960.2" y2="334.2" stroke="#111" stroke-width="1.6" stroke-linecap="butt"/>
<line x1="775.5" y1="304.4" x2="795.7" y2="321" stroke="#111" stroke-width="1" stroke-linecap="butt"/>
<line x1="883.4" y1="272.4" x2="885.4" y2="292.9" stroke="#111" stroke-width="0.9" stroke-linecap="butt"/>
<line x1="947.7" y1="266.9" x2="949.4" y2="287.5" stroke="#111" stroke-width="0.9" stroke-linecap="butt"/>
<line x1="795.7" y1="301" x2="795.7" y2="737.6" stroke="#111" stroke-width="0.9" stroke-linecap="butt"/>
<line x1="797.2" y1="301" x2="797.2" y2="737.6" stroke="#111" stroke-width="0.9" stroke-linecap="butt"/>
<line x1="800.3" y1="292.6" x2="800.3" y2="737.6" stroke="#111" stroke-width="0.9" stroke-linecap="butt"/>
<line x1="803.4" y1="292.6" x2="803.4" y2="737.6" stroke="#111" stroke-width="0.9" stroke-linecap="butt"/>
<line x1="800.3" y1="292.6" x2="803.4" y2="292.6" stroke="#111" stroke-width="0.9" stroke-linecap="butt"/>
<line x1="806" y1="309.6" x2="806" y2="737.6" stroke="#111" stroke-width="0.9" stroke-linecap="butt"/>
<line x1="807.5" y1="309.6" x2="807.5" y2="737.6" stroke="#111" stroke-width="0.9" stroke-linecap="butt"/>
<line x1="858.7" y1="292.6" x2="858.7" y2="381" stroke="#111" stroke-width="0.9" stroke-linecap="butt"/>
<line x1="862.3" y1="292.6" x2="862.3" y2="381" stroke="#111" stroke-width="0.9" stroke-linecap="butt"/>
<line x1="858.7" y1="292.6" x2="862.3" y2="292.6" stroke="#111" stroke-width="0.9" stroke-linecap="butt"/>
<line x1="860.5" y1="293" x2="860.5" y2="381" stroke="#bbb" stroke-width="2.2"/>
<line x1="859.6" y1="381" x2="859.6" y2="454.8" stroke="#111" stroke-width="0.9" stroke-linecap="butt"/>
<line x1="860" y1="454.8" x2="842.3" y2="737.6" stroke="#111" stroke-width="1" stroke-linecap="butt"/>
<line x1="861.4" y1="454.8" x2="843.8" y2="737.6" stroke="#111" stroke-width="0.8" stroke-linecap="butt"/>
<line x1="804.4" y1="296.2" x2="825.6" y2="296.2" stroke="#111" stroke-width="1" stroke-linecap="butt"/>
<path d="M 825.6 296.2 A 19.6 19.6 0 0 1 825.6 335.5 L 812 335.5" fill="none" stroke="#111" stroke-width="1"/>
<polyline points="833,296.2 845.8,296.2 845.8,337 812,337" fill="none" stroke="#111" stroke-width="0.9" stroke-linejoin="miter"/>
<circle cx="825.6" cy="315.3" r="7.2" fill="none" stroke="#111" stroke-width="1.4"/>
<line x1="817.4" y1="313.2" x2="807.5" y2="337.5" stroke="#111" stroke-width="0.9" stroke-linecap="butt"/>
<line x1="819.2" y1="314" x2="809.3" y2="338.3" stroke="#111" stroke-width="0.9" stroke-linecap="butt"/>
<line x1="807.5" y1="353.5" x2="859.7" y2="353.5" stroke="#111" stroke-width="1" stroke-linecap="butt"/>
<line x1="807.5" y1="453.9" x2="859.7" y2="453.9" stroke="#111" stroke-width="1" stroke-linecap="butt"/>
<polyline points="775.5,344 775.5,353.2 796,353.2 796,344" fill="none" stroke="#111" stroke-width="1.4" stroke-linejoin="miter"/>
<line x1="777" y1="351" x2="794" y2="351" stroke="#777" stroke-width="0.6" stroke-linecap="butt"/>
<line x1="814.6" y1="223.4" x2="814.6" y2="294.1" stroke="#1a1a1a" stroke-width="0.9" stroke-dasharray="22,3,4,3"/>
<rect x="728" y="705.5" width="158.8" height="115.5" rx="21" fill="none" stroke="#1a1a1a" stroke-width="1.1" stroke-dasharray="6,2.8"/>
<circle cx="704.8" cy="671.3" r="21.4" fill="none" stroke="#111" stroke-width="1.3"/>
<line x1="683.4" y1="671.3" x2="726.2" y2="671.3" stroke="#111" stroke-width="1.2" stroke-linecap="butt"/>
<text x="705.8" y="668.7" font-family="Liberation Sans" font-size="16.5" font-weight="normal" fill="#1a1a1a" text-anchor="middle" textLength="6.8" lengthAdjust="spacingAndGlyphs">5</text>
<text x="705.4" y="685.7" font-family="Liberation Sans" font-size="16.5" font-weight="normal" fill="#1a1a1a" text-anchor="middle" textLength="25.8" lengthAdjust="spacingAndGlyphs">A5.2</text>
<polyline points="726.2,671.3 746.3,671.3 768.3,705.5" fill="none" stroke="#111" stroke-width="1" stroke-linejoin="miter"/>
<text x="974.2" y="182.7" font-family="Liberation Sans" font-size="7.9" font-weight="normal" fill="#111" text-anchor="start" textLength="78.6" lengthAdjust="spacingAndGlyphs" stroke="#111" stroke-width="0.18">PRE-FINISHED METAL</text>
<text x="974.2" y="191.6" font-family="Liberation Sans" font-size="7.9" font-weight="normal" fill="#111" text-anchor="start" textLength="84.1" lengthAdjust="spacingAndGlyphs" stroke="#111" stroke-width="0.18">ROOF ASSEMBLY WITH</text>
<text x="974.2" y="200.4" font-family="Liberation Sans" font-size="7.9" font-weight="normal" fill="#111" text-anchor="start" textLength="95.7" lengthAdjust="spacingAndGlyphs" stroke="#111" stroke-width="0.18">VINYL FACED INSULATION</text>
<polyline points="968.7,181.4 931,181.4" fill="none" stroke="#111" stroke-width="1" stroke-linejoin="miter"/>
<line x1="931" y1="181.4" x2="893" y2="261.5" stroke="#111" stroke-width="0.9" stroke-linecap="butt"/>
<polygon points="893,261.5 894.36,256.06 896.35,257" fill="#111" stroke="none" stroke-width="0"/>
<polyline points="1055.5,181.4 1093.7,181.4" fill="none" stroke="#111" stroke-width="1" stroke-linejoin="miter"/>
<line x1="1093.7" y1="181.4" x2="1131.7" y2="264.5" stroke="#111" stroke-width="0.9" stroke-linecap="butt"/>
<polygon points="1131.7,264.5 1128.41,259.96 1130.41,259.04" fill="#111" stroke="none" stroke-width="0"/>
<text x="649.2" y="410.9" font-family="Liberation Sans" font-size="7.9" font-weight="normal" fill="#111" text-anchor="start" textLength="60.6" lengthAdjust="spacingAndGlyphs" stroke="#111" stroke-width="0.18">STEEL CHANNEL</text>
<text x="649.2" y="419.6" font-family="Liberation Sans" font-size="7.9" font-weight="normal" fill="#111" text-anchor="start" textLength="30.6" lengthAdjust="spacingAndGlyphs" stroke="#111" stroke-width="0.18">HEADER</text>
<polyline points="683.3,418.2 721.7,418.2" fill="none" stroke="#111" stroke-width="1" stroke-linejoin="miter"/>
<line x1="721.7" y1="418.2" x2="782.2" y2="350" stroke="#111" stroke-width="0.9" stroke-linecap="butt"/>
<polygon points="782.2,350 779.37,354.84 777.73,353.38" fill="#111" stroke="none" stroke-width="0"/>
<text x="956.2" y="413.8" font-family="Liberation Sans" font-size="7.9" font-weight="normal" fill="#111" text-anchor="start" textLength="80.7" lengthAdjust="spacingAndGlyphs" stroke="#111" stroke-width="0.18">HEAVY DUTY ROLL UP</text>
<text x="956.2" y="422.6" font-family="Liberation Sans" font-size="7.9" font-weight="normal" fill="#111" text-anchor="start" textLength="55.8" lengthAdjust="spacingAndGlyphs" stroke="#111" stroke-width="0.18">GARAGE DOOR</text>
<text x="956.2" y="431.8" font-family="Liberation Sans" font-size="7.9" font-weight="normal" fill="#111" text-anchor="start" textLength="39.7" lengthAdjust="spacingAndGlyphs" stroke="#111" stroke-width="0.18">ASSEMBLY</text>
<polyline points="950.9,412.7 912.4,412.7" fill="none" stroke="#111" stroke-width="1" stroke-linejoin="miter"/>
<line x1="912.4" y1="412.7" x2="837" y2="322" stroke="#111" stroke-width="0.9" stroke-linecap="butt"/>
<polygon points="837,322 841.36,325.53 839.67,326.93" fill="#111" stroke="none" stroke-width="0"/>
<text x="978.1" y="691.3" font-family="Liberation Sans" font-size="7.9" font-weight="normal" fill="#111" text-anchor="start" textLength="41.6" lengthAdjust="spacingAndGlyphs" stroke="#111" stroke-width="0.18">CONCRETE</text>
<text x="978.1" y="699.9" font-family="Liberation Sans" font-size="7.9" font-weight="normal" fill="#111" text-anchor="start" textLength="45.8" lengthAdjust="spacingAndGlyphs" stroke="#111" stroke-width="0.18">FLOOR SLAB</text>
<polyline points="976,689.2 948.4,689.2" fill="none" stroke="#111" stroke-width="1" stroke-linejoin="miter"/>
<line x1="948.4" y1="689.2" x2="913.2" y2="742.6" stroke="#111" stroke-width="0.9" stroke-linecap="butt"/>
<polygon points="913.2,742.6 915.31,737.4 917.15,738.61" fill="#111" stroke="none" stroke-width="0"/>
<polyline points="1022.5,689.2 1062.7,689.2" fill="none" stroke="#111" stroke-width="1" stroke-linejoin="miter"/>
<line x1="1062.7" y1="689.2" x2="1098.7" y2="741.4" stroke="#111" stroke-width="0.9" stroke-linecap="butt"/>
<polygon points="1098.7,741.4 1094.67,737.5 1096.48,736.25" fill="#111" stroke="none" stroke-width="0"/>
<rect x="719.4" y="867.3" width="53.8" height="32.2" fill="none" stroke="#111" stroke-width="1.1"/>
<line x1="719.4" y1="883" x2="773.2" y2="883" stroke="#111" stroke-width="1" stroke-linecap="butt"/>
<line x1="746.1" y1="883" x2="746.1" y2="899.5" stroke="#111" stroke-width="1" stroke-linecap="butt"/>
<text x="745.6" y="880.7" font-family="Liberation Sans" font-size="12.8" font-weight="bold" fill="#111" text-anchor="middle">2</text>
<text x="724.7" y="895.2" font-family="Liberation Sans" font-size="9.2" font-weight="normal" fill="#1a1a1a" text-anchor="start" textLength="16.1" lengthAdjust="spacingAndGlyphs">A5.0</text>
<text x="751.8" y="895.2" font-family="Liberation Sans" font-size="9.2" font-weight="normal" fill="#1a1a1a" text-anchor="start" textLength="16.4" lengthAdjust="spacingAndGlyphs">A5.0</text>
<text x="781.2" y="880.7" font-family="Liberation Sans" font-size="14" font-weight="bold" fill="#111" text-anchor="start" textLength="109.7" lengthAdjust="spacingAndGlyphs">WALL SECTION</text>
<line x1="773.2" y1="883.3" x2="996.8" y2="883.3" stroke="#111" stroke-width="1" stroke-linecap="butt"/>
<text x="782.1" y="895.5" font-family="Liberation Sans" font-size="8.8" font-weight="normal" fill="#1a1a1a" text-anchor="start" textLength="80.2" lengthAdjust="spacingAndGlyphs">SCALE:  3/4"=1'-0"</text>
<path d="M1059.1 758.5H1060.0M1059.1 765.5H1060.0M1059.1 772.5H1060.0M1059.1 791.5H1060.0M1059.1 798.5H1060.0M1059.1 804.5H1060.0M1061.5 757.3V773.7M1068.5 757.3V773.7M1074.5 757.3V773.7M1076.4 758.5H1092.8M1076.4 765.5H1092.8M1076.4 772.5H1092.8M1060.0 775.5H1076.4M1060.0 781.5H1076.4M1060.0 788.5H1076.4M1078.5 773.7V790.1M1084.5 773.7V790.1M1091.5 773.7V790.1M1061.5 790.1V806.0M1068.5 790.1V806.0M1074.5 790.1V806.0M1076.4 791.5H1092.8M1076.4 798.5H1092.8M1076.4 804.5H1092.8M1094.5 757.3V773.7M1101.5 757.3V773.7M1107.5 757.3V773.7M1109.2 758.5H1125.6M1109.2 765.5H1125.6M1109.2 772.5H1125.6M1092.8 775.5H1109.2M1092.8 781.5H1109.2M1092.8 788.5H1109.2M1110.5 773.7V790.1M1117.5 773.7V790.1M1124.5 773.7V790.1M1094.5 790.1V806.0M1101.5 790.1V806.5M1107.5 790.1V806.5M1109.2 791.5H1125.6M1109.2 798.5H1125.6M1109.2 804.5H1125.6M1098.0 808.5H1109.2M1110.5 806.5V814.5M1117.5 806.5V816.3M1124.5 806.5V818.1M1127.5 757.3V773.7M1133.5 757.3V773.7M1140.5 757.3V773.7M1142.0 758.5H1158.4M1142.0 765.5H1158.4M1142.0 772.5H1158.4M1125.6 775.5H1142.0M1125.6 781.5H1142.0M1125.6 788.5H1142.0M1143.5 773.7V790.1M1150.5 773.7V790.1M1156.5 773.7V790.1M1127.5 790.1V806.5M1133.5 790.1V806.5M1140.5 790.1V806.5M1142.0 791.5H1158.4M1142.0 798.5H1158.4M1142.0 804.5H1158.4M1125.6 808.5H1142.0M1125.6 814.5H1142.0M1135.6 821.5H1142.0M1143.5 806.5V822.9M1150.5 806.5V822.9M1156.5 806.5V822.9M1140.5 822.9V823.7M1142.0 824.5H1158.4M1146.8 831.5H1158.4M1149.2 837.5H1158.4M1150.5 839.3V840.4M1156.5 839.3V852.1M1160.5 757.3V773.7M1166.5 757.3V773.7M1173.5 757.3V773.7M1174.8 758.5H1191.2M1174.8 765.5H1191.2M1174.8 772.5H1191.2M1158.4 775.5H1174.8M1158.4 781.5H1174.8M1158.4 788.5H1174.8M1176.5 773.7V790.1M1183.5 773.7V790.1M1189.5 773.7V790.1M1160.5 790.1V806.5M1166.5 790.1V806.5M1173.5 790.1V806.5M1174.8 791.5H1191.2M1174.8 798.5H1191.2M1174.8 804.5H1191.2M1158.4 808.5H1174.8M1158.4 814.5H1174.8M1158.4 821.5H1174.8M1176.5 806.5V822.9M1183.5 806.5V822.9M1189.5 806.5V822.9M1160.5 822.9V839.3M1166.5 822.9V839.3M1173.5 822.9V839.3M1174.8 824.5H1191.2M1174.8 831.5H1191.2M1174.8 837.5H1191.2M1158.4 840.5H1174.8M1158.4 847.5H1174.8M1176.5 839.3V852.5M1183.5 839.3V852.5M1189.5 839.3V852.5M1192.5 757.3V773.7M1199.5 758.5V773.7M1206.5 763.0V773.7M1207.6 765.5H1209.7M1207.6 772.5H1219.3M1191.2 775.5H1207.6M1191.2 781.5H1207.6M1191.2 788.5H1207.6M1209.5 773.7V790.1M1215.5 773.7V790.1M1222.5 774.2V790.1M1192.5 790.1V806.5M1199.5 790.1V806.5M1206.5 790.1V806.5M1207.6 791.5H1224.0M1207.6 798.5H1224.0M1207.6 804.5H1224.0M1191.2 808.5H1207.6M1191.2 814.5H1207.6M1191.2 821.5H1207.6M1209.5 806.5V822.9M1215.5 806.5V822.9M1222.5 806.5V822.9M1192.5 822.9V839.3M1199.5 822.9V839.3M1206.5 822.9V839.3M1207.6 824.5H1224.0M1207.6 831.5H1224.0M1207.6 837.5H1224.0M1191.2 840.5H1207.6M1191.2 847.5H1207.6M1209.5 839.3V852.5M1215.5 839.3V852.5M1222.5 839.3V852.5M1224.0 781.5H1230.0M1224.0 788.5H1230.0M1225.5 790.1V806.5M1224.0 808.5H1230.0M1224.0 814.5H1230.0M1224.0 821.5H1240.4M1242.5 820.8V822.9M1248.5 820.8V822.9M1255.5 820.8V822.9M1225.5 822.9V839.3M1232.5 822.9V839.3M1238.5 822.9V839.3M1240.4 824.5H1256.8M1240.4 831.5H1256.8M1240.4 837.5H1256.8M1224.0 840.5H1240.4M1224.0 847.5H1240.4M1242.5 839.3V852.5M1248.5 839.3V852.5M1255.5 839.3V852.5M1288.2 758.5H1289.6M1288.2 765.5H1289.6M1288.2 772.5H1289.6M1256.8 821.5H1273.2M1274.5 820.8V822.9M1281.5 820.8V822.9M1288.5 820.8V822.9M1258.5 822.9V839.3M1265.5 822.9V839.3M1271.5 822.9V839.3M1273.2 824.5H1289.6M1273.2 831.5H1289.6M1273.2 837.5H1289.6M1256.8 840.5H1273.2M1256.8 847.5H1273.2M1274.5 839.3V852.5M1281.5 839.3V852.5M1288.5 839.3V852.5M1291.5 757.3V773.7M1297.5 757.3V773.7M1304.5 757.3V773.7M1306.0 758.5H1322.4M1306.0 765.5H1322.4M1306.0 772.5H1322.4M1289.6 775.5H1306.0M1307.5 773.7V777.9M1314.5 773.7V777.9M1320.5 773.7V790.1M1320.6 791.5H1322.4M1320.6 798.5H1322.4M1320.6 804.5H1322.4M1289.6 821.5H1306.0M1307.5 820.8V822.9M1314.5 820.8V822.9M1320.5 806.5V822.9M1291.5 822.9V839.3M1297.5 822.9V839.3M1304.5 822.9V839.3M1306.0 824.5H1322.4M1306.0 831.5H1322.4M1306.0 837.5H1322.4M1289.6 840.5H1306.0M1289.6 847.5H1306.0M1307.5 839.3V852.5M1314.5 839.3V852.5M1320.5 839.3V852.5M1324.5 757.3V773.7M1330.5 757.3V773.7M1337.5 757.3V773.7M1338.8 758.5H1348.2M1338.8 765.5H1348.2M1338.8 772.5H1348.2M1322.4 775.5H1338.8M1322.4 781.5H1338.8M1322.4 788.5H1338.8M1340.5 773.7V790.1M1347.5 773.7V790.1M1324.5 790.1V806.5M1330.5 790.1V806.5M1337.5 790.1V806.5M1338.8 791.5H1348.2M1338.8 798.5H1348.2M1338.8 804.5H1348.2M1322.4 808.5H1338.8M1322.4 814.5H1338.8M1322.4 821.5H1338.8M1340.5 806.5V822.9M1347.5 806.5V822.9M1324.5 822.9V839.3M1330.5 822.9V839.3M1337.5 822.9V839.3M1338.8 824.5H1348.2M1338.8 831.5H1348.2M1338.8 837.5H1348.2M1322.4 840.5H1338.8M1322.4 847.5H1338.8M1340.5 839.3V852.5M1347.5 839.3V852.5" stroke="#111" stroke-width="1" fill="none"/>
<polygon points="1059.1,735.6 1258.7,735.6 1258.7,777.9 1226.3,776.9 1197.7,757.3 1059.1,757.3" fill="#fff" stroke="none" stroke-width="0"/>
<g><circle cx="1153.52" cy="741.38" r="0.48" fill="#333"/><circle cx="1194.38" cy="738.76" r="0.56" fill="#333"/><circle cx="1206.4" cy="741.89" r="0.53" fill="#333"/><polygon points="1068.22,754.62 1066.97,757.82 1064.83,755.14" fill="#222" stroke="#222" stroke-width="0.6"/><circle cx="1151.9" cy="755.5" r="0.6" fill="#333"/><circle cx="1096.72" cy="742.11" r="0.47" fill="#333"/><circle cx="1096.84" cy="756.76" r="0.74" fill="#1a1a1a"/><circle cx="1243.85" cy="755.7" r="0.5" fill="#333"/><circle cx="1240.43" cy="745.51" r="0.57" fill="#333"/><circle cx="1251.98" cy="767.68" r="0.56" fill="#333"/><polygon points="1229.71,752.56 1230.32,756.03 1227.02,754.83" fill="none" stroke="#222" stroke-width="0.6"/><circle cx="1207.26" cy="745.95" r="0.61" fill="#333"/><circle cx="1250.19" cy="773.81" r="0.87" fill="#1a1a1a"/><circle cx="1169.59" cy="752.93" r="0.73" fill="#1a1a1a"/><circle cx="1153.03" cy="756.47" r="0.79" fill="#1a1a1a"/><circle cx="1176.56" cy="743.13" r="0.52" fill="#333"/><circle cx="1249.75" cy="776.16" r="0.85" fill="#1a1a1a"/><circle cx="1251.14" cy="752.12" r="0.51" fill="#333"/><circle cx="1065.76" cy="744.84" r="0.77" fill="#1a1a1a"/><circle cx="1247.47" cy="764.22" r="0.64" fill="#333"/><circle cx="1230.54" cy="763.6" r="0.57" fill="#333"/><circle cx="1072.82" cy="737" r="0.49" fill="#333"/><circle cx="1160.37" cy="741.36" r="0.58" fill="#333"/><circle cx="1256.14" cy="763.93" r="0.45" fill="#333"/><circle cx="1069.83" cy="753.79" r="0.51" fill="#333"/><circle cx="1172.43" cy="736.96" r="0.63" fill="#333"/><circle cx="1062.68" cy="744.77" r="0.91" fill="#1a1a1a"/><circle cx="1161.98" cy="749.64" r="0.53" fill="#333"/><circle cx="1197.91" cy="739.31" r="0.65" fill="#333"/><circle cx="1113.53" cy="742.56" r="0.58" fill="#333"/><circle cx="1248.52" cy="776.66" r="0.57" fill="#333"/><circle cx="1189.22" cy="743.09" r="0.56" fill="#333"/><circle cx="1110.5" cy="742.31" r="0.74" fill="#1a1a1a"/><circle cx="1091.72" cy="756.86" r="0.56" fill="#333"/><circle cx="1063.09" cy="738.94" r="0.5" fill="#333"/><circle cx="1209.65" cy="746.35" r="0.5" fill="#333"/><circle cx="1078.39" cy="755.84" r="0.52" fill="#333"/><circle cx="1211.29" cy="745.56" r="0.62" fill="#333"/><circle cx="1149.54" cy="756.87" r="0.57" fill="#333"/><polygon points="1097.18,740.23 1094.47,740.14 1095.9,737.84" fill="none" stroke="#222" stroke-width="0.6"/><circle cx="1143.8" cy="749.03" r="0.64" fill="#333"/><circle cx="1108.39" cy="742.83" r="0.78" fill="#1a1a1a"/><circle cx="1239.9" cy="765.06" r="0.48" fill="#333"/><circle cx="1069.07" cy="741.53" r="0.58" fill="#333"/><circle cx="1071.64" cy="757.03" r="0.73" fill="#1a1a1a"/><circle cx="1161" cy="743.37" r="0.54" fill="#333"/><circle cx="1190.76" cy="740.29" r="0.45" fill="#333"/><circle cx="1104.11" cy="752.65" r="0.72" fill="#1a1a1a"/><circle cx="1126.29" cy="747.33" r="0.49" fill="#333"/><polygon points="1146.94,742.77 1144.44,744.43 1144.25,741.43" fill="none" stroke="#222" stroke-width="0.6"/><circle cx="1079.84" cy="756.84" r="0.49" fill="#333"/><circle cx="1192.46" cy="756.57" r="0.51" fill="#333"/><circle cx="1244.64" cy="769.43" r="0.48" fill="#333"/><circle cx="1155.67" cy="741.72" r="0.59" fill="#333"/><circle cx="1218.35" cy="741.15" r="0.71" fill="#1a1a1a"/><polygon points="1147.87,735.33 1147.25,738.52 1144.79,736.38" fill="none" stroke="#222" stroke-width="0.6"/><circle cx="1201.75" cy="741.24" r="0.58" fill="#333"/><circle cx="1060.82" cy="738.31" r="0.62" fill="#333"/><circle cx="1256.98" cy="749.43" r="0.61" fill="#333"/><circle cx="1231.05" cy="760.31" r="0.58" fill="#333"/><circle cx="1247.39" cy="759.4" r="0.83" fill="#1a1a1a"/><circle cx="1155.53" cy="750.2" r="0.55" fill="#333"/><circle cx="1176.3" cy="745.57" r="0.83" fill="#1a1a1a"/><circle cx="1159.67" cy="753.48" r="0.49" fill="#333"/><circle cx="1165.19" cy="747.71" r="0.59" fill="#333"/><circle cx="1214.43" cy="757.45" r="0.93" fill="#1a1a1a"/><circle cx="1161.04" cy="751.72" r="0.8" fill="#1a1a1a"/><circle cx="1102.17" cy="754.82" r="0.51" fill="#333"/><circle cx="1205.01" cy="744.96" r="0.9" fill="#1a1a1a"/><circle cx="1114" cy="739.05" r="0.46" fill="#333"/><circle cx="1250.19" cy="757.75" r="0.64" fill="#333"/><circle cx="1219.05" cy="745.84" r="0.73" fill="#1a1a1a"/><circle cx="1217.32" cy="766.31" r="0.52" fill="#333"/><circle cx="1113.42" cy="756.23" r="0.63" fill="#333"/><circle cx="1227.83" cy="771.57" r="0.53" fill="#333"/><circle cx="1096.33" cy="742.96" r="0.93" fill="#1a1a1a"/><circle cx="1228.6" cy="749.96" r="0.63" fill="#333"/><circle cx="1144.52" cy="744.35" r="0.52" fill="#333"/><circle cx="1146.95" cy="752.62" r="0.5" fill="#333"/><circle cx="1064.1" cy="752.32" r="0.45" fill="#333"/><polygon points="1182.1,743.01 1185.24,743.56 1183.2,746.01" fill="#222" stroke="#222" stroke-width="0.6"/><circle cx="1239.77" cy="746" r="0.56" fill="#333"/><circle cx="1123.73" cy="738.07" r="0.86" fill="#1a1a1a"/><circle cx="1179.05" cy="757.15" r="0.75" fill="#1a1a1a"/><circle cx="1121.62" cy="753.38" r="0.63" fill="#333"/><circle cx="1134.64" cy="738.13" r="0.61" fill="#333"/><circle cx="1070.85" cy="751.93" r="0.86" fill="#1a1a1a"/><circle cx="1168.45" cy="752.21" r="0.47" fill="#333"/><circle cx="1078.07" cy="755.21" r="0.7" fill="#1a1a1a"/><circle cx="1078.58" cy="740.27" r="0.54" fill="#333"/><circle cx="1160.44" cy="748.26" r="0.55" fill="#333"/><circle cx="1254.11" cy="743.42" r="0.55" fill="#333"/><circle cx="1130.8" cy="750.12" r="0.56" fill="#333"/><circle cx="1116.22" cy="740" r="0.52" fill="#333"/><circle cx="1165.22" cy="749.8" r="0.91" fill="#1a1a1a"/><circle cx="1127.01" cy="753.42" r="0.52" fill="#333"/><circle cx="1139.54" cy="743.13" r="0.58" fill="#333"/><circle cx="1148.3" cy="752.96" r="0.9" fill="#1a1a1a"/><circle cx="1065.78" cy="745.45" r="0.59" fill="#333"/><circle cx="1193.62" cy="756.63" r="0.49" fill="#333"/><circle cx="1197.2" cy="747.03" r="0.48" fill="#333"/><circle cx="1181.24" cy="743.52" r="0.51" fill="#333"/><circle cx="1168.91" cy="742" r="0.57" fill="#333"/><circle cx="1086.73" cy="749.04" r="0.56" fill="#333"/><circle cx="1173.02" cy="745.55" r="0.62" fill="#333"/><circle cx="1132.03" cy="754.67" r="0.61" fill="#333"/><circle cx="1189.1" cy="740.89" r="0.46" fill="#333"/><circle cx="1244.64" cy="775.77" r="0.5" fill="#333"/><circle cx="1227.23" cy="743.74" r="0.55" fill="#333"/><circle cx="1230.52" cy="744.78" r="0.52" fill="#333"/><polygon points="1064.28,749.21 1066.55,749.8 1064.9,751.48" fill="#222" stroke="#222" stroke-width="0.6"/><circle cx="1091.65" cy="748.39" r="0.93" fill="#1a1a1a"/><circle cx="1239" cy="771.66" r="0.54" fill="#333"/><circle cx="1217.35" cy="747.92" r="0.61" fill="#333"/><polygon points="1202.84,745.12 1206.31,744.43 1205.18,747.77" fill="none" stroke="#222" stroke-width="0.6"/><circle cx="1230.43" cy="742.38" r="0.54" fill="#333"/><circle cx="1215.43" cy="754.97" r="0.94" fill="#1a1a1a"/><circle cx="1224.35" cy="746.59" r="0.53" fill="#333"/><circle cx="1104.38" cy="745.36" r="0.52" fill="#333"/><polygon points="1160.78,754.9 1162.52,757.7 1159.23,757.81" fill="none" stroke="#222" stroke-width="0.6"/><circle cx="1130.63" cy="745.05" r="0.6" fill="#333"/><circle cx="1190.12" cy="752.96" r="0.48" fill="#333"/><circle cx="1241.6" cy="755.61" r="0.61" fill="#333"/><circle cx="1078.74" cy="747.72" r="0.55" fill="#333"/><polygon points="1103.08,756.16 1101.47,753.22 1104.83,753.3" fill="none" stroke="#222" stroke-width="0.6"/><circle cx="1183.8" cy="741.66" r="0.51" fill="#333"/><circle cx="1230.58" cy="768.29" r="0.61" fill="#333"/><polygon points="1246.75,744.13 1249.27,742.86 1249.11,745.68" fill="#222" stroke="#222" stroke-width="0.6"/><circle cx="1136.77" cy="742.6" r="0.84" fill="#1a1a1a"/><circle cx="1097.64" cy="755.74" r="0.54" fill="#333"/><circle cx="1099.47" cy="738.14" r="0.56" fill="#333"/><circle cx="1166.39" cy="745.37" r="0.51" fill="#333"/><circle cx="1203.74" cy="745.8" r="0.58" fill="#333"/><polygon points="1132.88,754.25 1135.33,756.22 1132.4,757.36" fill="#222" stroke="#222" stroke-width="0.6"/><circle cx="1232.09" cy="738.63" r="0.72" fill="#1a1a1a"/><circle cx="1110.03" cy="740.08" r="0.5" fill="#333"/><circle cx="1119.4" cy="755.2" r="0.61" fill="#333"/><circle cx="1202.91" cy="741.2" r="0.7" fill="#1a1a1a"/><circle cx="1125.17" cy="740.96" r="0.61" fill="#333"/><polygon points="1255.25,746.03 1256.81,743.12 1258.55,745.92" fill="none" stroke="#222" stroke-width="0.6"/><polygon points="1135.6,749.04 1138.81,747.49 1138.54,751.05" fill="#222" stroke="#222" stroke-width="0.6"/><circle cx="1224.27" cy="755.78" r="0.8" fill="#1a1a1a"/><circle cx="1236.22" cy="753.03" r="0.56" fill="#333"/><circle cx="1230.97" cy="739.82" r="0.63" fill="#333"/><circle cx="1253.4" cy="737.14" r="0.58" fill="#333"/><circle cx="1226.69" cy="755.54" r="0.78" fill="#1a1a1a"/><circle cx="1064.43" cy="754.4" r="0.85" fill="#1a1a1a"/><circle cx="1126.64" cy="741.77" r="0.51" fill="#333"/><circle cx="1216.33" cy="748.92" r="0.61" fill="#333"/><circle cx="1132.96" cy="743.84" r="0.55" fill="#333"/><circle cx="1142.09" cy="741.53" r="0.51" fill="#333"/><circle cx="1251.23" cy="752.04" r="0.5" fill="#333"/><circle cx="1251.54" cy="749.57" r="0.62" fill="#333"/><polygon points="1116.35,739.83 1115.63,742.61 1113.58,740.6" fill="#222" stroke="#222" stroke-width="0.6"/><circle cx="1114.67" cy="742.75" r="0.54" fill="#333"/><circle cx="1245.55" cy="772.76" r="0.84" fill="#1a1a1a"/><circle cx="1142.35" cy="737.96" r="0.63" fill="#333"/><circle cx="1200.46" cy="739.14" r="0.47" fill="#333"/><circle cx="1063.92" cy="751.73" r="0.82" fill="#1a1a1a"/><circle cx="1063.22" cy="742.69" r="0.72" fill="#1a1a1a"/><circle cx="1077.99" cy="744.44" r="0.48" fill="#333"/><circle cx="1222.36" cy="753.4" r="0.76" fill="#1a1a1a"/><circle cx="1226" cy="738.49" r="0.47" fill="#333"/><circle cx="1246.74" cy="753.05" r="0.62" fill="#333"/><circle cx="1079.95" cy="739.18" r="0.57" fill="#333"/><circle cx="1202.57" cy="747.8" r="0.49" fill="#333"/><circle cx="1146.47" cy="747.95" r="0.51" fill="#333"/><polygon points="1156.35,745.78 1158.95,744.36 1158.88,747.32" fill="none" stroke="#222" stroke-width="0.6"/><circle cx="1133.98" cy="753.21" r="0.5" fill="#333"/><circle cx="1253.96" cy="772.57" r="0.64" fill="#333"/><circle cx="1181.01" cy="744.82" r="0.58" fill="#333"/><polygon points="1220.99,760.86 1218.11,758.98 1221.18,757.42" fill="#222" stroke="#222" stroke-width="0.6"/><circle cx="1181.86" cy="744.42" r="0.59" fill="#333"/><circle cx="1080.75" cy="755.77" r="0.59" fill="#333"/><circle cx="1068.62" cy="744.3" r="0.53" fill="#333"/><circle cx="1144.05" cy="751.7" r="0.6" fill="#333"/><circle cx="1188.58" cy="752.81" r="0.55" fill="#333"/><circle cx="1250.76" cy="767.93" r="0.54" fill="#333"/><circle cx="1225.91" cy="746.3" r="0.59" fill="#333"/><circle cx="1245.56" cy="770.19" r="0.5" fill="#333"/><circle cx="1215.7" cy="755.75" r="0.79" fill="#1a1a1a"/><circle cx="1217.96" cy="770.56" r="0.58" fill="#333"/><circle cx="1093.75" cy="742.87" r="0.49" fill="#333"/><circle cx="1126.61" cy="740.73" r="0.88" fill="#1a1a1a"/><circle cx="1119.9" cy="747.38" r="0.45" fill="#333"/><polygon points="1144.76,753.32 1145.65,749.99 1148.09,752.42" fill="#222" stroke="#222" stroke-width="0.6"/><circle cx="1249.87" cy="745.81" r="0.71" fill="#1a1a1a"/><circle cx="1175.1" cy="756.91" r="0.77" fill="#1a1a1a"/><circle cx="1251.79" cy="751.6" r="0.63" fill="#333"/><circle cx="1220.08" cy="764.63" r="0.61" fill="#333"/><circle cx="1112.63" cy="752.69" r="0.88" fill="#1a1a1a"/><circle cx="1242.27" cy="769.34" r="0.52" fill="#333"/><polygon points="1243.01,750.05 1244.96,751.94 1242.35,752.68" fill="none" stroke="#222" stroke-width="0.6"/><circle cx="1245.31" cy="767.95" r="0.54" fill="#333"/><polygon points="1210.85,747.73 1211.33,750.8 1208.43,749.68" fill="#222" stroke="#222" stroke-width="0.6"/><circle cx="1085.32" cy="742.07" r="0.52" fill="#333"/><circle cx="1247.7" cy="776.77" r="0.61" fill="#333"/><circle cx="1184.93" cy="743.59" r="0.48" fill="#333"/><polygon points="1073.69,755.72 1075.07,753.15 1076.6,755.63" fill="none" stroke="#222" stroke-width="0.6"/><circle cx="1214.18" cy="760.23" r="0.78" fill="#1a1a1a"/><circle cx="1157.22" cy="752.52" r="0.55" fill="#333"/><circle cx="1257.02" cy="744.76" r="0.7" fill="#1a1a1a"/><circle cx="1078.63" cy="738.83" r="0.62" fill="#333"/><circle cx="1225.48" cy="760.21" r="0.45" fill="#333"/><circle cx="1135.89" cy="747.14" r="0.46" fill="#333"/><circle cx="1167.26" cy="751.74" r="0.53" fill="#333"/><polygon points="1219.47,759.41 1218.76,762.41 1216.52,760.3" fill="none" stroke="#222" stroke-width="0.6"/><circle cx="1209.98" cy="738.44" r="0.58" fill="#333"/><circle cx="1223.33" cy="772.67" r="0.84" fill="#1a1a1a"/><circle cx="1134.97" cy="748.53" r="0.57" fill="#333"/><circle cx="1243.54" cy="759.44" r="0.56" fill="#333"/><circle cx="1256.16" cy="737.77" r="0.56" fill="#333"/><circle cx="1183.26" cy="755.86" r="0.56" fill="#333"/><circle cx="1062.85" cy="749.51" r="0.46" fill="#333"/><circle cx="1216.26" cy="737.84" r="0.61" fill="#333"/><circle cx="1107.15" cy="751.96" r="0.88" fill="#1a1a1a"/></g>
<polygon points="1261.8,437.1 1288.3,437.1 1288.3,735.6 1348.2,735.6 1348.2,757.3 1288.2,757.3 1288.2,777.9 1320.6,777.9 1320.6,820.8 1230,820.8 1230,777.9 1261.8,777.9 1261.8,735.6" fill="#fff" stroke="none" stroke-width="0"/>
<g><circle cx="1268.82" cy="662.05" r="0.61" fill="#333"/><circle cx="1271.21" cy="744.76" r="0.84" fill="#1a1a1a"/><circle cx="1288.29" cy="795.51" r="0.91" fill="#1a1a1a"/><circle cx="1277.15" cy="647.2" r="0.46" fill="#333"/><circle cx="1269.29" cy="497.57" r="0.78" fill="#1a1a1a"/><circle cx="1326.34" cy="751.39" r="0.93" fill="#1a1a1a"/><circle cx="1304.64" cy="755.87" r="0.52" fill="#333"/><circle cx="1267.43" cy="698.99" r="0.62" fill="#333"/><polygon points="1278.63,611.28 1277.15,608.99 1279.87,608.85" fill="none" stroke="#222" stroke-width="0.6"/><circle cx="1313.99" cy="737.5" r="0.59" fill="#333"/><circle cx="1265.04" cy="545.81" r="0.49" fill="#333"/><circle cx="1268.81" cy="545.9" r="0.58" fill="#333"/><circle cx="1286.85" cy="583.09" r="0.64" fill="#333"/><circle cx="1283.25" cy="654.46" r="0.5" fill="#333"/><circle cx="1275.43" cy="758.51" r="0.53" fill="#333"/><circle cx="1317.04" cy="790.5" r="0.51" fill="#333"/><circle cx="1282.83" cy="616.79" r="0.63" fill="#333"/><circle cx="1329.52" cy="750.9" r="0.62" fill="#333"/><circle cx="1285.43" cy="595.02" r="0.9" fill="#1a1a1a"/><circle cx="1274.6" cy="596.38" r="0.63" fill="#333"/><polygon points="1271.99,478.25 1274.96,478.24 1273.49,480.82" fill="#222" stroke="#222" stroke-width="0.6"/><circle cx="1271.79" cy="597.69" r="0.93" fill="#1a1a1a"/><circle cx="1280.48" cy="533.54" r="0.82" fill="#1a1a1a"/><circle cx="1282.86" cy="811.9" r="0.49" fill="#333"/><circle cx="1271.18" cy="736.77" r="0.5" fill="#333"/><circle cx="1275.2" cy="788.9" r="0.51" fill="#333"/><circle cx="1282.79" cy="527.01" r="0.75" fill="#1a1a1a"/><circle cx="1331.93" cy="736.81" r="0.51" fill="#333"/><circle cx="1265.7" cy="714.1" r="0.6" fill="#333"/><circle cx="1297.59" cy="749.35" r="0.53" fill="#333"/><circle cx="1287.86" cy="452.07" r="0.49" fill="#333"/><circle cx="1285.83" cy="438.31" r="0.87" fill="#1a1a1a"/><circle cx="1282.5" cy="717.79" r="0.49" fill="#333"/><polygon points="1266.9,567.45 1268.57,569.62 1265.86,569.97" fill="none" stroke="#222" stroke-width="0.6"/><circle cx="1262.38" cy="775.55" r="0.51" fill="#333"/><circle cx="1268.3" cy="513.85" r="0.63" fill="#333"/><circle cx="1266.9" cy="443.27" r="0.5" fill="#333"/><circle cx="1273.67" cy="483.73" r="0.76" fill="#1a1a1a"/><circle cx="1266.44" cy="638.85" r="0.59" fill="#333"/><circle cx="1270.92" cy="788.5" r="0.56" fill="#333"/><circle cx="1286.26" cy="563.9" r="0.92" fill="#1a1a1a"/><circle cx="1280.41" cy="813.13" r="0.88" fill="#1a1a1a"/><circle cx="1277.25" cy="803.59" r="0.64" fill="#333"/><polygon points="1294.72,795.41 1295.97,798.6 1292.58,798.09" fill="none" stroke="#222" stroke-width="0.6"/><circle cx="1267.88" cy="699.44" r="0.6" fill="#333"/><circle cx="1236.04" cy="794.39" r="0.61" fill="#333"/><circle cx="1285.8" cy="748.18" r="0.84" fill="#1a1a1a"/><circle cx="1300.14" cy="749.08" r="0.71" fill="#1a1a1a"/><polygon points="1280.56,799.95 1277.77,800.42 1278.76,797.77" fill="none" stroke="#222" stroke-width="0.6"/><circle cx="1243.13" cy="802.13" r="0.6" fill="#333"/><circle cx="1288.28" cy="625.61" r="0.83" fill="#1a1a1a"/><circle cx="1261.93" cy="529.4" r="0.58" fill="#333"/><circle cx="1267.39" cy="485.42" r="0.46" fill="#333"/><circle cx="1266.05" cy="716.4" r="0.84" fill="#1a1a1a"/><circle cx="1326.78" cy="745.2" r="0.47" fill="#333"/><circle cx="1306.31" cy="735.65" r="0.56" fill="#333"/><circle cx="1280.48" cy="598.92" r="0.56" fill="#333"/><circle cx="1273.03" cy="587.4" r="0.52" fill="#333"/><circle cx="1276.92" cy="609.45" r="0.52" fill="#333"/><circle cx="1264.22" cy="615.68" r="0.71" fill="#1a1a1a"/><circle cx="1312.13" cy="742.21" r="0.53" fill="#333"/><polygon points="1286.08,494.28 1282.82,494.58 1284.19,491.61" fill="none" stroke="#222" stroke-width="0.6"/><circle cx="1260" cy="792.57" r="0.47" fill="#333"/><circle cx="1282.08" cy="748.57" r="0.88" fill="#1a1a1a"/><circle cx="1269.42" cy="798.64" r="0.52" fill="#333"/><circle cx="1278.69" cy="676.01" r="0.52" fill="#333"/><circle cx="1266.57" cy="674.14" r="0.55" fill="#333"/><circle cx="1263.03" cy="736.7" r="0.77" fill="#1a1a1a"/><circle cx="1281.97" cy="784.74" r="0.75" fill="#1a1a1a"/><circle cx="1269.61" cy="588.91" r="0.53" fill="#333"/><circle cx="1286.21" cy="589.42" r="0.63" fill="#333"/><circle cx="1280.44" cy="789.75" r="0.94" fill="#1a1a1a"/><circle cx="1275.31" cy="541.75" r="0.92" fill="#1a1a1a"/><circle cx="1272.78" cy="704.76" r="0.56" fill="#333"/><circle cx="1270.07" cy="698.23" r="0.45" fill="#333"/><circle cx="1263.55" cy="570.29" r="0.61" fill="#333"/><circle cx="1280.93" cy="530.53" r="0.6" fill="#333"/><circle cx="1270.65" cy="455.65" r="0.5" fill="#333"/><polygon points="1265.79,542.66 1262.29,543.56 1263.26,540.08" fill="none" stroke="#222" stroke-width="0.6"/><circle cx="1271.66" cy="509.37" r="0.64" fill="#333"/><circle cx="1265.2" cy="762.96" r="0.47" fill="#333"/><circle cx="1310.76" cy="741.19" r="0.48" fill="#333"/><circle cx="1277.77" cy="486.54" r="0.56" fill="#333"/><circle cx="1269.32" cy="794.36" r="0.63" fill="#333"/><circle cx="1268.42" cy="593.64" r="0.47" fill="#333"/><circle cx="1313.01" cy="741.77" r="0.63" fill="#333"/><circle cx="1267.87" cy="493.62" r="0.59" fill="#333"/><circle cx="1274.18" cy="569.14" r="0.91" fill="#1a1a1a"/><circle cx="1284.53" cy="748.07" r="0.78" fill="#1a1a1a"/><circle cx="1262.81" cy="775.89" r="0.51" fill="#333"/><polygon points="1280.3,652.05 1276.8,651.62 1278.92,648.8" fill="#222" stroke="#222" stroke-width="0.6"/><circle cx="1277.24" cy="620.91" r="0.94" fill="#1a1a1a"/><circle cx="1266.35" cy="717.44" r="0.61" fill="#333"/><circle cx="1273.28" cy="774.59" r="0.54" fill="#333"/><circle cx="1296.39" cy="745.32" r="0.64" fill="#333"/><circle cx="1231.84" cy="780.58" r="0.55" fill="#333"/><circle cx="1270.23" cy="710.6" r="0.52" fill="#333"/><circle cx="1268.4" cy="537.76" r="0.47" fill="#333"/><circle cx="1266.84" cy="668.17" r="0.65" fill="#333"/><circle cx="1345.58" cy="756.61" r="0.49" fill="#333"/><circle cx="1262.8" cy="459.66" r="0.51" fill="#333"/><polygon points="1283.65,546.14 1286.49,546.73 1284.56,548.89" fill="#222" stroke="#222" stroke-width="0.6"/><circle cx="1330.19" cy="749.61" r="0.49" fill="#333"/><circle cx="1262.5" cy="719.65" r="0.47" fill="#333"/><polygon points="1270.55,667.91 1270.64,664.49 1273.56,666.29" fill="none" stroke="#222" stroke-width="0.6"/><circle cx="1269.26" cy="554.65" r="0.94" fill="#1a1a1a"/><polygon points="1299.31,751.51 1301.08,753.93 1298.1,754.26" fill="none" stroke="#222" stroke-width="0.6"/><circle cx="1274.37" cy="819.32" r="0.64" fill="#333"/><circle cx="1298.11" cy="794.54" r="0.63" fill="#333"/><circle cx="1273.67" cy="660.17" r="0.88" fill="#1a1a1a"/><circle cx="1346.94" cy="743.34" r="0.61" fill="#333"/><circle cx="1291.25" cy="812.68" r="0.58" fill="#333"/><circle cx="1273.36" cy="445.17" r="0.5" fill="#333"/><circle cx="1299.32" cy="812.42" r="0.72" fill="#1a1a1a"/><circle cx="1267.7" cy="619.47" r="0.8" fill="#1a1a1a"/><polygon points="1282.71,786.89 1285.53,788.59 1282.65,790.18" fill="#222" stroke="#222" stroke-width="0.6"/><circle cx="1285.9" cy="699.83" r="0.53" fill="#333"/><circle cx="1294.89" cy="780.29" r="0.56" fill="#333"/><circle cx="1269.18" cy="523.12" r="0.6" fill="#333"/><circle cx="1266.58" cy="619.98" r="0.58" fill="#333"/><circle cx="1268.27" cy="774.81" r="0.46" fill="#333"/><circle cx="1265.75" cy="670.77" r="0.47" fill="#333"/><circle cx="1281.94" cy="816.18" r="0.63" fill="#333"/><circle cx="1262.04" cy="789.59" r="0.45" fill="#333"/><polygon points="1272.27,570.07 1270.75,573.35 1268.67,570.4" fill="none" stroke="#222" stroke-width="0.6"/><circle cx="1325.05" cy="739.4" r="0.47" fill="#333"/><circle cx="1328.88" cy="754.61" r="0.5" fill="#333"/><circle cx="1268.76" cy="438.83" r="0.53" fill="#333"/><circle cx="1320.61" cy="744.05" r="0.65" fill="#333"/><circle cx="1268.72" cy="568.46" r="0.46" fill="#333"/><circle cx="1281.54" cy="486.99" r="0.55" fill="#333"/><circle cx="1279.04" cy="722.24" r="0.63" fill="#333"/><circle cx="1266.94" cy="761.88" r="0.56" fill="#333"/><polygon points="1277.91,655.8 1277.58,653.44 1279.79,654.33" fill="#222" stroke="#222" stroke-width="0.6"/><circle cx="1276.87" cy="540.77" r="0.92" fill="#1a1a1a"/><circle cx="1304.47" cy="794.1" r="0.77" fill="#1a1a1a"/><circle cx="1266.12" cy="644.25" r="0.63" fill="#333"/><circle cx="1298.99" cy="737.87" r="0.45" fill="#333"/><circle cx="1344.93" cy="740.57" r="0.73" fill="#1a1a1a"/><circle cx="1268.68" cy="596.31" r="0.51" fill="#333"/><polygon points="1276.22,462.89 1275.55,466.24 1272.99,463.99" fill="none" stroke="#222" stroke-width="0.6"/><circle cx="1326.17" cy="755.92" r="0.64" fill="#333"/><circle cx="1275.36" cy="476.35" r="0.49" fill="#333"/><circle cx="1280.17" cy="644.31" r="0.65" fill="#333"/><circle cx="1287.86" cy="601.05" r="0.59" fill="#333"/><circle cx="1272.54" cy="447.98" r="0.56" fill="#333"/><circle cx="1266.82" cy="478.27" r="0.46" fill="#333"/><circle cx="1271.45" cy="628.98" r="0.53" fill="#333"/><circle cx="1296" cy="808.4" r="0.79" fill="#1a1a1a"/><circle cx="1268.12" cy="721.51" r="0.61" fill="#333"/><circle cx="1277.41" cy="585.19" r="0.54" fill="#333"/><circle cx="1297.88" cy="805.85" r="0.57" fill="#333"/><circle cx="1235.18" cy="803.63" r="0.57" fill="#333"/><circle cx="1274.43" cy="683.53" r="0.93" fill="#1a1a1a"/><circle cx="1273.86" cy="543.3" r="0.49" fill="#333"/><circle cx="1262.48" cy="623.96" r="0.47" fill="#333"/><circle cx="1285.45" cy="479.26" r="0.93" fill="#1a1a1a"/><circle cx="1285.62" cy="491.88" r="0.56" fill="#333"/><circle cx="1266.9" cy="756.29" r="0.63" fill="#333"/><circle cx="1276.15" cy="609.84" r="0.89" fill="#1a1a1a"/><circle cx="1289.82" cy="807.39" r="0.54" fill="#333"/><circle cx="1291.14" cy="738" r="0.77" fill="#1a1a1a"/><circle cx="1282.83" cy="563.08" r="0.59" fill="#333"/><circle cx="1304.97" cy="807.76" r="0.62" fill="#333"/><circle cx="1272.47" cy="805.99" r="0.5" fill="#333"/><circle cx="1273.82" cy="603.96" r="0.65" fill="#333"/><polygon points="1285.34,711.81 1284.98,708.88 1287.7,710.03" fill="none" stroke="#222" stroke-width="0.6"/><circle cx="1272.31" cy="534.91" r="0.63" fill="#333"/><circle cx="1282.29" cy="698.77" r="0.79" fill="#1a1a1a"/><circle cx="1297.56" cy="790.89" r="0.63" fill="#333"/><circle cx="1285.48" cy="635.65" r="0.82" fill="#1a1a1a"/><polygon points="1306.6,744.66 1307.03,747.52 1304.34,746.46" fill="#222" stroke="#222" stroke-width="0.6"/><circle cx="1269.57" cy="495.07" r="0.46" fill="#333"/><circle cx="1294.09" cy="795.44" r="0.47" fill="#333"/><circle cx="1268.93" cy="690.89" r="0.54" fill="#333"/><circle cx="1263.02" cy="598.56" r="0.5" fill="#333"/><circle cx="1262.55" cy="808.95" r="0.89" fill="#1a1a1a"/><circle cx="1266.52" cy="470.85" r="0.62" fill="#333"/><circle cx="1287.05" cy="691.83" r="0.49" fill="#333"/><circle cx="1267.01" cy="763.15" r="0.55" fill="#333"/><polygon points="1277.16,649.26 1274.52,650.01 1275.19,647.36" fill="none" stroke="#222" stroke-width="0.6"/><circle cx="1263.88" cy="745.26" r="0.57" fill="#333"/><circle cx="1273.02" cy="467.5" r="0.59" fill="#333"/><circle cx="1287.92" cy="646.24" r="0.46" fill="#333"/><circle cx="1272.58" cy="700.08" r="0.55" fill="#333"/><circle cx="1272.75" cy="466.55" r="0.64" fill="#333"/><polygon points="1264.31,792.09 1263.84,795.48 1261.14,793.37" fill="#222" stroke="#222" stroke-width="0.6"/><circle cx="1276.19" cy="600.42" r="0.56" fill="#333"/><circle cx="1268.95" cy="441.42" r="0.58" fill="#333"/><circle cx="1239.81" cy="781.1" r="0.54" fill="#333"/><circle cx="1343.55" cy="753.4" r="0.64" fill="#333"/><circle cx="1326.79" cy="745.88" r="0.58" fill="#333"/><circle cx="1268.81" cy="765.92" r="0.51" fill="#333"/><circle cx="1239.97" cy="800.71" r="0.53" fill="#333"/><circle cx="1284.47" cy="803.45" r="0.83" fill="#1a1a1a"/><circle cx="1286.61" cy="491.96" r="0.83" fill="#1a1a1a"/><circle cx="1237.86" cy="795" r="0.92" fill="#1a1a1a"/><circle cx="1279.98" cy="726.44" r="0.53" fill="#333"/><circle cx="1277.76" cy="636.87" r="0.94" fill="#1a1a1a"/><circle cx="1281.31" cy="559.27" r="0.51" fill="#333"/><circle cx="1284.05" cy="650.73" r="0.58" fill="#333"/><polygon points="1281.43,472.18 1279.45,470.73 1281.69,469.74" fill="#222" stroke="#222" stroke-width="0.6"/><circle cx="1280.81" cy="670.1" r="0.54" fill="#333"/><circle cx="1274.36" cy="580.11" r="0.5" fill="#333"/><circle cx="1246.06" cy="810.61" r="0.57" fill="#333"/><circle cx="1280.36" cy="493.73" r="0.5" fill="#333"/><circle cx="1265.16" cy="658.26" r="0.91" fill="#1a1a1a"/><circle cx="1291.77" cy="750.36" r="0.75" fill="#1a1a1a"/><circle cx="1266.5" cy="744.41" r="0.86" fill="#1a1a1a"/><circle cx="1271.33" cy="546.66" r="0.93" fill="#1a1a1a"/><circle cx="1334.88" cy="753.09" r="0.57" fill="#333"/><circle cx="1261.39" cy="784.64" r="0.64" fill="#333"/><circle cx="1270.3" cy="751.84" r="0.62" fill="#333"/><circle cx="1276.92" cy="741.78" r="0.56" fill="#333"/><circle cx="1278.69" cy="665.67" r="0.64" fill="#333"/><circle cx="1284.69" cy="595.29" r="0.47" fill="#333"/><circle cx="1311.44" cy="792.55" r="0.56" fill="#333"/><polygon points="1273.33,474.19 1272.47,477.06 1270.41,474.88" fill="none" stroke="#222" stroke-width="0.6"/><circle cx="1269.99" cy="634.37" r="0.54" fill="#333"/><circle cx="1266.11" cy="769.02" r="0.53" fill="#333"/><circle cx="1232.38" cy="805.42" r="0.84" fill="#1a1a1a"/><circle cx="1262.56" cy="633.19" r="0.78" fill="#1a1a1a"/><polygon points="1312.44,749.01 1311.56,746.33 1314.33,746.9" fill="#222" stroke="#222" stroke-width="0.6"/><circle cx="1263.27" cy="674.26" r="0.54" fill="#333"/><polygon points="1274.24,803.46 1271.6,801.05 1275,799.96" fill="#222" stroke="#222" stroke-width="0.6"/><circle cx="1271.21" cy="720" r="0.64" fill="#333"/><circle cx="1286.42" cy="620.11" r="0.46" fill="#333"/><polygon points="1260.85,648.07 1264.24,649.1 1261.65,651.52" fill="#222" stroke="#222" stroke-width="0.6"/><circle cx="1285.11" cy="782.35" r="0.65" fill="#333"/><circle cx="1277.51" cy="628.49" r="0.49" fill="#333"/><circle cx="1285.32" cy="467.69" r="0.91" fill="#1a1a1a"/><circle cx="1260.88" cy="793.67" r="0.54" fill="#333"/><circle cx="1260.02" cy="803.61" r="0.49" fill="#333"/><circle cx="1327.77" cy="738.58" r="0.59" fill="#333"/><circle cx="1270.5" cy="486.84" r="0.88" fill="#1a1a1a"/><circle cx="1283.27" cy="489.2" r="0.48" fill="#333"/><circle cx="1318.07" cy="741.42" r="0.84" fill="#1a1a1a"/><circle cx="1275.99" cy="810.6" r="0.94" fill="#1a1a1a"/><circle cx="1267.02" cy="598.99" r="0.86" fill="#1a1a1a"/><circle cx="1252.15" cy="816.1" r="0.55" fill="#333"/><circle cx="1300.5" cy="738.06" r="0.58" fill="#333"/><circle cx="1262.23" cy="670.16" r="0.54" fill="#333"/><polygon points="1264.67,507.53 1262.91,510.48 1261.24,507.48" fill="#222" stroke="#222" stroke-width="0.6"/><circle cx="1272.86" cy="783.23" r="0.65" fill="#333"/><circle cx="1236.41" cy="802.5" r="0.93" fill="#1a1a1a"/><circle cx="1286.38" cy="519.01" r="0.58" fill="#333"/><circle cx="1263.27" cy="635.16" r="0.7" fill="#1a1a1a"/><circle cx="1267.44" cy="573.28" r="0.51" fill="#333"/><circle cx="1274.13" cy="705.28" r="0.48" fill="#333"/><circle cx="1304.11" cy="804.07" r="0.63" fill="#333"/><circle cx="1279.28" cy="571.8" r="0.6" fill="#333"/><circle cx="1273.91" cy="440.74" r="0.79" fill="#1a1a1a"/><circle cx="1278.76" cy="532.36" r="0.52" fill="#333"/><circle cx="1265.14" cy="538.84" r="0.48" fill="#333"/><circle cx="1263.92" cy="599.7" r="0.48" fill="#333"/><circle cx="1251.23" cy="789.3" r="0.51" fill="#333"/><circle cx="1263.45" cy="518.84" r="0.59" fill="#333"/><circle cx="1287.92" cy="450.64" r="0.53" fill="#333"/><circle cx="1269.94" cy="588.55" r="0.78" fill="#1a1a1a"/><circle cx="1284.04" cy="760.86" r="0.83" fill="#1a1a1a"/><circle cx="1317.51" cy="736.25" r="0.48" fill="#333"/><circle cx="1278.02" cy="777.84" r="0.6" fill="#333"/><circle cx="1246.56" cy="818.37" r="0.57" fill="#333"/><circle cx="1287.57" cy="731.28" r="0.63" fill="#333"/><circle cx="1279.68" cy="693.07" r="0.47" fill="#333"/><polygon points="1292.09,740.9 1289.95,743.66 1288.63,740.43" fill="#222" stroke="#222" stroke-width="0.6"/><circle cx="1313.16" cy="795.69" r="0.64" fill="#333"/><polygon points="1282.22,689.31 1279.59,690.36 1279.99,687.56" fill="#222" stroke="#222" stroke-width="0.6"/><circle cx="1265.83" cy="638.87" r="0.46" fill="#333"/><circle cx="1278.04" cy="473.31" r="0.52" fill="#333"/><circle cx="1295.06" cy="804.74" r="0.47" fill="#333"/><circle cx="1281.74" cy="639.13" r="0.56" fill="#333"/><circle cx="1275.3" cy="709.78" r="0.85" fill="#1a1a1a"/><circle cx="1279.61" cy="616.57" r="0.72" fill="#1a1a1a"/><circle cx="1263.5" cy="504.36" r="0.52" fill="#333"/><polygon points="1266.26,755.85 1266.37,752.72 1269.03,754.38" fill="#222" stroke="#222" stroke-width="0.6"/><circle cx="1294.02" cy="813.08" r="0.52" fill="#333"/><circle cx="1287.41" cy="728.98" r="0.57" fill="#333"/><polygon points="1303.38,790.4 1306.62,790.36 1305.03,793.19" fill="#222" stroke="#222" stroke-width="0.6"/><circle cx="1279.96" cy="442.34" r="0.55" fill="#333"/><circle cx="1269.98" cy="817.53" r="0.62" fill="#333"/><circle cx="1325.19" cy="741.37" r="0.55" fill="#333"/><circle cx="1288.1" cy="611.15" r="0.64" fill="#333"/><polygon points="1276.28,627.2 1279.31,625.9 1278.92,629.17" fill="#222" stroke="#222" stroke-width="0.6"/><circle cx="1261.97" cy="740.07" r="0.93" fill="#1a1a1a"/><polygon points="1268.39,760.63 1267.35,763.64 1265.26,761.24" fill="none" stroke="#222" stroke-width="0.6"/><circle cx="1287.14" cy="521.39" r="0.76" fill="#1a1a1a"/><circle cx="1238.67" cy="791.61" r="0.54" fill="#333"/><circle cx="1267.57" cy="693.3" r="0.46" fill="#333"/><circle cx="1287.49" cy="491.37" r="0.54" fill="#333"/><circle cx="1300.22" cy="810.02" r="0.52" fill="#333"/><polygon points="1244.88,789.01 1242.82,791.87 1241.37,788.65" fill="none" stroke="#222" stroke-width="0.6"/><circle cx="1317.94" cy="749.92" r="0.54" fill="#333"/><circle cx="1281.21" cy="574.53" r="0.63" fill="#333"/><circle cx="1265.63" cy="709.61" r="0.7" fill="#1a1a1a"/><circle cx="1269.33" cy="817.88" r="0.51" fill="#333"/><circle cx="1247.3" cy="786.14" r="0.5" fill="#333"/><circle cx="1274.89" cy="639.85" r="0.51" fill="#333"/><polygon points="1278.47,765.66 1276.24,766.62 1276.52,764.21" fill="none" stroke="#222" stroke-width="0.6"/><circle cx="1235.2" cy="805.46" r="0.46" fill="#333"/><circle cx="1305.51" cy="797.25" r="0.63" fill="#333"/><circle cx="1268.13" cy="789.57" r="0.64" fill="#333"/><polygon points="1290.29,736.09 1293.27,735.8 1292.03,738.53" fill="none" stroke="#222" stroke-width="0.6"/><circle cx="1270.75" cy="669.47" r="0.53" fill="#333"/><circle cx="1310.21" cy="782.95" r="0.56" fill="#333"/><circle cx="1287.23" cy="758.2" r="0.77" fill="#1a1a1a"/><circle cx="1276.61" cy="687.09" r="0.94" fill="#1a1a1a"/><circle cx="1278.92" cy="448.51" r="0.56" fill="#333"/><circle cx="1241.5" cy="812.18" r="0.54" fill="#333"/><circle cx="1270.19" cy="686.04" r="0.82" fill="#1a1a1a"/><circle cx="1262.46" cy="653.67" r="0.55" fill="#333"/><circle cx="1287.22" cy="727.84" r="0.52" fill="#333"/><circle cx="1283.83" cy="628.05" r="0.5" fill="#333"/><circle cx="1265.1" cy="658.76" r="0.64" fill="#333"/><circle cx="1282.68" cy="546.47" r="0.63" fill="#333"/><circle cx="1273.24" cy="715.72" r="0.65" fill="#333"/><circle cx="1279.87" cy="683.61" r="0.85" fill="#1a1a1a"/><circle cx="1316.61" cy="741.42" r="0.7" fill="#1a1a1a"/><circle cx="1316.17" cy="819.17" r="0.52" fill="#333"/><circle cx="1269.23" cy="748" r="0.52" fill="#333"/><circle cx="1256.68" cy="818.45" r="0.54" fill="#333"/><circle cx="1267.11" cy="714.76" r="0.54" fill="#333"/><circle cx="1280.05" cy="744.29" r="0.6" fill="#333"/><circle cx="1312.89" cy="753.86" r="0.64" fill="#333"/><circle cx="1272.28" cy="438.23" r="0.51" fill="#333"/><circle cx="1272.81" cy="737.25" r="0.58" fill="#333"/><circle cx="1287.73" cy="472.96" r="0.6" fill="#333"/><circle cx="1286.52" cy="652.63" r="0.55" fill="#333"/><circle cx="1286.26" cy="623.05" r="0.6" fill="#333"/><circle cx="1269.9" cy="734.44" r="0.58" fill="#333"/><circle cx="1274.85" cy="781.33" r="0.61" fill="#333"/><circle cx="1275.29" cy="572.19" r="0.57" fill="#333"/><circle cx="1279.94" cy="483.11" r="0.63" fill="#333"/><circle cx="1273.3" cy="624.94" r="0.65" fill="#333"/><circle cx="1303.85" cy="810.77" r="0.49" fill="#333"/><circle cx="1305.75" cy="818.47" r="0.7" fill="#1a1a1a"/><circle cx="1306.08" cy="755.1" r="0.53" fill="#333"/><circle cx="1315.44" cy="755.61" r="0.53" fill="#333"/><circle cx="1273.59" cy="568.68" r="0.62" fill="#333"/><circle cx="1238.04" cy="815.72" r="0.56" fill="#333"/><circle cx="1275.38" cy="628.66" r="0.76" fill="#1a1a1a"/><circle cx="1282.96" cy="682.49" r="0.7" fill="#1a1a1a"/><circle cx="1272.51" cy="657.66" r="0.84" fill="#1a1a1a"/><circle cx="1268.78" cy="538.31" r="0.52" fill="#333"/><circle cx="1274.64" cy="450.19" r="0.56" fill="#333"/><polygon points="1293.21,782.95 1296.72,783.68 1294.33,786.36" fill="#222" stroke="#222" stroke-width="0.6"/><circle cx="1297.68" cy="755.05" r="0.91" fill="#1a1a1a"/><polygon points="1266.94,535.4 1265.97,533.2 1268.36,533.46" fill="none" stroke="#222" stroke-width="0.6"/><circle cx="1264.59" cy="580.49" r="0.52" fill="#333"/><circle cx="1238.61" cy="791.43" r="0.48" fill="#333"/><polygon points="1279.72,458.26 1278.98,460.89 1277.06,458.93" fill="none" stroke="#222" stroke-width="0.6"/><circle cx="1277.21" cy="757.5" r="0.8" fill="#1a1a1a"/><circle cx="1309.93" cy="806.05" r="0.54" fill="#333"/><circle cx="1277.71" cy="518.27" r="0.61" fill="#333"/><circle cx="1264" cy="658.79" r="0.47" fill="#333"/><circle cx="1287.52" cy="509.68" r="0.59" fill="#333"/><circle cx="1266.22" cy="563.42" r="0.62" fill="#333"/><circle cx="1284.13" cy="514.91" r="0.64" fill="#333"/><polygon points="1264.18,623.96 1267.09,622.61 1266.81,625.8" fill="none" stroke="#222" stroke-width="0.6"/><circle cx="1285.6" cy="740.25" r="0.65" fill="#333"/><circle cx="1283.34" cy="750.28" r="0.61" fill="#333"/><circle cx="1283.06" cy="498.78" r="0.56" fill="#333"/><polygon points="1304.17,788.37 1301.79,787.06 1304.12,785.66" fill="none" stroke="#222" stroke-width="0.6"/><circle cx="1284.98" cy="442.77" r="0.5" fill="#333"/><polygon points="1239.41,804.69 1240.88,807.48 1237.73,807.36" fill="#222" stroke="#222" stroke-width="0.6"/><circle cx="1314.72" cy="784.33" r="0.62" fill="#333"/><circle cx="1281.71" cy="633.44" r="0.53" fill="#333"/><circle cx="1271.95" cy="810.08" r="0.54" fill="#333"/><circle cx="1264.81" cy="800.15" r="0.64" fill="#333"/><circle cx="1262.39" cy="456.2" r="0.47" fill="#333"/><circle cx="1263.98" cy="756.5" r="0.65" fill="#333"/><circle cx="1295.84" cy="798.34" r="0.53" fill="#333"/><circle cx="1279.26" cy="818.09" r="0.54" fill="#333"/><circle cx="1324.33" cy="748.08" r="0.61" fill="#333"/><circle cx="1245.54" cy="799.21" r="0.47" fill="#333"/><circle cx="1266.56" cy="795.8" r="0.82" fill="#1a1a1a"/><circle cx="1289.52" cy="796.93" r="0.92" fill="#1a1a1a"/><circle cx="1276.02" cy="752.15" r="0.6" fill="#333"/><circle cx="1282.9" cy="642.72" r="0.64" fill="#333"/><circle cx="1307.33" cy="812.99" r="0.54" fill="#333"/><circle cx="1274.28" cy="706.79" r="0.48" fill="#333"/><circle cx="1284.01" cy="491.92" r="0.47" fill="#333"/><circle cx="1286.55" cy="634.03" r="0.45" fill="#333"/><circle cx="1283.88" cy="549.45" r="0.46" fill="#333"/><circle cx="1267.89" cy="467.37" r="0.83" fill="#1a1a1a"/><polygon points="1247.49,781.29 1245.51,782.52 1245.44,780.19" fill="#222" stroke="#222" stroke-width="0.6"/><circle cx="1273.86" cy="719.72" r="0.59" fill="#333"/><circle cx="1271.54" cy="673.15" r="0.46" fill="#333"/><circle cx="1267.83" cy="726.43" r="0.53" fill="#333"/><circle cx="1317.66" cy="800.33" r="0.87" fill="#1a1a1a"/><circle cx="1284.25" cy="662.23" r="0.53" fill="#333"/><circle cx="1269.31" cy="446.18" r="0.91" fill="#1a1a1a"/><circle cx="1274.87" cy="694.82" r="0.62" fill="#333"/><circle cx="1277.31" cy="815.24" r="0.51" fill="#333"/><circle cx="1269.15" cy="637.94" r="0.47" fill="#333"/><circle cx="1275.34" cy="593.01" r="0.54" fill="#333"/><polygon points="1280.5,668.33 1279.85,666.16 1282.06,666.68" fill="none" stroke="#222" stroke-width="0.6"/><circle cx="1277.88" cy="597.08" r="0.51" fill="#333"/><circle cx="1272.27" cy="630.38" r="0.81" fill="#1a1a1a"/><circle cx="1276.05" cy="651.68" r="0.49" fill="#333"/><circle cx="1278.58" cy="677.01" r="0.51" fill="#333"/><circle cx="1268.63" cy="701.52" r="0.63" fill="#333"/><circle cx="1311.32" cy="784.25" r="0.61" fill="#333"/><circle cx="1269.25" cy="702.77" r="0.75" fill="#1a1a1a"/><circle cx="1262.27" cy="714.28" r="0.63" fill="#333"/><circle cx="1279.08" cy="463.07" r="0.5" fill="#333"/><circle cx="1282.61" cy="449.83" r="0.89" fill="#1a1a1a"/><circle cx="1284.42" cy="774.65" r="0.56" fill="#333"/><polygon points="1278.76,643.39 1275.6,641.99 1278.39,639.95" fill="none" stroke="#222" stroke-width="0.6"/><circle cx="1262.5" cy="583.83" r="0.51" fill="#333"/><circle cx="1273.35" cy="625.25" r="0.47" fill="#333"/><circle cx="1282.7" cy="776.68" r="0.55" fill="#333"/><polygon points="1275.68,680.27 1278.21,682.15 1275.32,683.4" fill="#222" stroke="#222" stroke-width="0.6"/><circle cx="1279.48" cy="764.82" r="0.83" fill="#1a1a1a"/><circle cx="1271.18" cy="649.05" r="0.52" fill="#333"/><circle cx="1285.21" cy="577.63" r="0.52" fill="#333"/><circle cx="1270.64" cy="648.42" r="0.59" fill="#333"/><circle cx="1268.23" cy="816.68" r="0.59" fill="#333"/><circle cx="1275.7" cy="802.76" r="0.58" fill="#333"/><polygon points="1282.5,627.43 1282.56,630.91 1279.52,629.23" fill="none" stroke="#222" stroke-width="0.6"/><polygon points="1285.14,746.48 1283.74,744.05 1286.55,744.05" fill="none" stroke="#222" stroke-width="0.6"/><circle cx="1272.15" cy="669.82" r="0.53" fill="#333"/><polygon points="1283.32,448.74 1282.47,450.82 1281.09,449.04" fill="#222" stroke="#222" stroke-width="0.6"/><circle cx="1268.39" cy="618.73" r="0.49" fill="#333"/><circle cx="1265.38" cy="477.33" r="0.75" fill="#1a1a1a"/><circle cx="1263" cy="722.4" r="0.61" fill="#333"/><circle cx="1271.89" cy="627.37" r="0.49" fill="#333"/><circle cx="1309.17" cy="756.56" r="0.45" fill="#333"/><circle cx="1278.06" cy="730.59" r="0.83" fill="#1a1a1a"/><circle cx="1269.4" cy="444.58" r="0.48" fill="#333"/><circle cx="1278.51" cy="799.77" r="0.54" fill="#333"/><circle cx="1339.34" cy="750.39" r="0.62" fill="#333"/><circle cx="1247.25" cy="801.19" r="0.63" fill="#333"/><circle cx="1287.95" cy="585.99" r="0.5" fill="#333"/><circle cx="1263.99" cy="754.83" r="0.88" fill="#1a1a1a"/><circle cx="1262.82" cy="594.26" r="0.5" fill="#333"/><circle cx="1277.67" cy="462.99" r="0.6" fill="#333"/><circle cx="1267.75" cy="508.74" r="0.63" fill="#333"/><circle cx="1281.16" cy="525.55" r="0.53" fill="#333"/><circle cx="1282.54" cy="773.08" r="0.81" fill="#1a1a1a"/><circle cx="1269.91" cy="678.18" r="0.62" fill="#333"/><circle cx="1276.32" cy="494.52" r="0.52" fill="#333"/><circle cx="1290.04" cy="807.19" r="0.53" fill="#333"/><circle cx="1270.94" cy="603.75" r="0.54" fill="#333"/><circle cx="1314.67" cy="816.43" r="0.55" fill="#333"/><circle cx="1266.7" cy="649.75" r="0.49" fill="#333"/><circle cx="1273.74" cy="663.14" r="0.85" fill="#1a1a1a"/><circle cx="1281.44" cy="791.84" r="0.52" fill="#333"/><circle cx="1287.9" cy="493.24" r="0.88" fill="#1a1a1a"/><circle cx="1278.4" cy="709.13" r="0.82" fill="#1a1a1a"/><circle cx="1265.3" cy="794.81" r="0.56" fill="#333"/><circle cx="1332.71" cy="752.79" r="0.63" fill="#333"/><circle cx="1283.69" cy="516.36" r="0.87" fill="#1a1a1a"/><circle cx="1274.09" cy="652.9" r="0.5" fill="#333"/><circle cx="1281.3" cy="496.34" r="0.48" fill="#333"/><circle cx="1234.6" cy="791.12" r="0.62" fill="#333"/><polygon points="1281.06,603.75 1280.45,606.3 1278.55,604.5" fill="#222" stroke="#222" stroke-width="0.6"/><circle cx="1335.68" cy="756.25" r="0.48" fill="#333"/><circle cx="1280.13" cy="756.29" r="0.76" fill="#1a1a1a"/><circle cx="1265.31" cy="478.18" r="0.56" fill="#333"/><circle cx="1262.54" cy="532.46" r="0.63" fill="#333"/><circle cx="1271.87" cy="661.56" r="0.82" fill="#1a1a1a"/><circle cx="1279.13" cy="494.49" r="0.57" fill="#333"/><circle cx="1281.49" cy="499.31" r="0.59" fill="#333"/><circle cx="1291.21" cy="798.8" r="0.45" fill="#333"/><circle cx="1280.52" cy="644.55" r="0.5" fill="#333"/><polygon points="1255.82,802.12 1258.27,802.28 1256.9,804.32" fill="none" stroke="#222" stroke-width="0.6"/><circle cx="1300.98" cy="790.54" r="0.71" fill="#1a1a1a"/><circle cx="1277.04" cy="589.09" r="0.51" fill="#333"/><circle cx="1264.02" cy="786.2" r="0.78" fill="#1a1a1a"/><circle cx="1270.2" cy="648.25" r="0.45" fill="#333"/><circle cx="1300.93" cy="809.02" r="0.63" fill="#333"/><circle cx="1271.83" cy="802.69" r="0.5" fill="#333"/><circle cx="1283.06" cy="502" r="0.92" fill="#1a1a1a"/><circle cx="1261.37" cy="780.21" r="0.56" fill="#333"/><polygon points="1267.97,438.15 1265.57,440.56 1264.68,437.27" fill="none" stroke="#222" stroke-width="0.6"/><circle cx="1263.56" cy="795.64" r="0.52" fill="#333"/><circle cx="1336.6" cy="750.93" r="0.51" fill="#333"/><polygon points="1275.53,439.62 1272.69,440.62 1273.24,437.65" fill="none" stroke="#222" stroke-width="0.6"/><circle cx="1344" cy="748.71" r="0.64" fill="#333"/><circle cx="1273.74" cy="645.55" r="0.61" fill="#333"/><circle cx="1283.41" cy="645.88" r="0.52" fill="#333"/><circle cx="1301.57" cy="801.67" r="0.56" fill="#333"/><circle cx="1270.33" cy="686.28" r="0.59" fill="#333"/><circle cx="1263.78" cy="551.67" r="0.53" fill="#333"/><circle cx="1294.63" cy="748.84" r="0.55" fill="#333"/><circle cx="1271.8" cy="508.81" r="0.72" fill="#1a1a1a"/><circle cx="1264.06" cy="453.59" r="0.56" fill="#333"/><circle cx="1283.49" cy="676.17" r="0.61" fill="#333"/><polygon points="1258.73,794.08 1260.38,791.79 1261.54,794.36" fill="none" stroke="#222" stroke-width="0.6"/><circle cx="1268.03" cy="470.35" r="0.7" fill="#1a1a1a"/><circle cx="1262.27" cy="674.86" r="0.47" fill="#333"/><circle cx="1262.15" cy="777.56" r="0.53" fill="#333"/><circle cx="1264.41" cy="595.91" r="0.6" fill="#333"/><circle cx="1270.28" cy="677.16" r="0.64" fill="#333"/><circle cx="1288.2" cy="691.4" r="0.65" fill="#333"/><circle cx="1266.47" cy="626.81" r="0.61" fill="#333"/></g>
<polygon points="1192.3,399.4 1347.8,399.4 1347.8,436.5 1192.3,436.5" fill="#fff" stroke="none" stroke-width="0"/>
<g><circle cx="1278.36" cy="411.08" r="0.8" fill="#1a1a1a"/><circle cx="1258.75" cy="415.58" r="0.82" fill="#1a1a1a"/><circle cx="1281.37" cy="403.98" r="0.59" fill="#333"/><polygon points="1222.52,407.64 1224.95,409.22 1222.37,410.54" fill="#222" stroke="#222" stroke-width="0.6"/><polygon points="1282.36,421.58 1284.42,420.5 1284.32,422.83" fill="none" stroke="#222" stroke-width="0.6"/><circle cx="1301.68" cy="416.04" r="0.73" fill="#1a1a1a"/><circle cx="1292.49" cy="427.24" r="0.47" fill="#333"/><circle cx="1235.83" cy="425.22" r="0.53" fill="#333"/><polygon points="1330.62,413.14 1329.74,415.52 1328.12,413.57" fill="none" stroke="#222" stroke-width="0.6"/><circle cx="1206.6" cy="410.45" r="0.55" fill="#333"/><circle cx="1197.18" cy="432.76" r="0.5" fill="#333"/><circle cx="1198.14" cy="420.45" r="0.59" fill="#333"/><circle cx="1325.12" cy="431.06" r="0.46" fill="#333"/><circle cx="1241.05" cy="420.82" r="0.49" fill="#333"/><circle cx="1203.68" cy="430.78" r="0.51" fill="#333"/><circle cx="1265.45" cy="431.02" r="0.86" fill="#1a1a1a"/><circle cx="1229.08" cy="432.16" r="0.64" fill="#333"/><circle cx="1252.07" cy="418.21" r="0.79" fill="#1a1a1a"/><circle cx="1339.66" cy="434.44" r="0.63" fill="#333"/><circle cx="1268.43" cy="423.58" r="0.54" fill="#333"/><circle cx="1334.34" cy="428.38" r="0.79" fill="#1a1a1a"/><circle cx="1299.3" cy="406.16" r="0.75" fill="#1a1a1a"/><circle cx="1209.69" cy="432.28" r="0.61" fill="#333"/><circle cx="1270.65" cy="426.59" r="0.54" fill="#333"/><circle cx="1273.18" cy="404.88" r="0.79" fill="#1a1a1a"/><circle cx="1248.11" cy="423.54" r="0.76" fill="#1a1a1a"/><circle cx="1327.55" cy="427.85" r="0.61" fill="#333"/><circle cx="1223.24" cy="417.52" r="0.61" fill="#333"/><circle cx="1228.33" cy="417.33" r="0.45" fill="#333"/><circle cx="1230.69" cy="426.43" r="0.54" fill="#333"/><circle cx="1280.95" cy="418.92" r="0.47" fill="#333"/><circle cx="1307.2" cy="427.52" r="0.6" fill="#333"/><circle cx="1320.32" cy="424.67" r="0.64" fill="#333"/><circle cx="1199.42" cy="433.46" r="0.61" fill="#333"/><circle cx="1306.44" cy="403.86" r="0.47" fill="#333"/><circle cx="1305.62" cy="412.29" r="0.5" fill="#333"/><circle cx="1317.59" cy="422.89" r="0.89" fill="#1a1a1a"/><circle cx="1221.75" cy="428.55" r="0.6" fill="#333"/><circle cx="1287.89" cy="434.99" r="0.54" fill="#333"/><circle cx="1283.95" cy="420.3" r="0.78" fill="#1a1a1a"/><circle cx="1315.92" cy="429.11" r="0.59" fill="#333"/><circle cx="1270.79" cy="414.26" r="0.58" fill="#333"/><circle cx="1338.09" cy="426.64" r="0.51" fill="#333"/><circle cx="1200.2" cy="427.79" r="0.53" fill="#333"/><circle cx="1201.41" cy="417.78" r="0.51" fill="#333"/><circle cx="1307.41" cy="427.04" r="0.57" fill="#333"/><circle cx="1231.58" cy="424.07" r="0.64" fill="#333"/><circle cx="1272.39" cy="412.84" r="0.57" fill="#333"/><circle cx="1245.7" cy="423.21" r="0.75" fill="#1a1a1a"/><circle cx="1329.02" cy="416.66" r="0.49" fill="#333"/><circle cx="1265.56" cy="408.72" r="0.57" fill="#333"/><circle cx="1253.69" cy="413.9" r="0.75" fill="#1a1a1a"/><polygon points="1297.75,411.83 1299.64,409.79 1300.46,412.45" fill="none" stroke="#222" stroke-width="0.6"/><circle cx="1252.45" cy="414.55" r="0.59" fill="#333"/><circle cx="1263.72" cy="414.37" r="0.74" fill="#1a1a1a"/><polygon points="1266.59,424.37 1264.13,422.81 1266.71,421.46" fill="none" stroke="#222" stroke-width="0.6"/><circle cx="1246.19" cy="423.77" r="0.53" fill="#333"/><circle cx="1252.03" cy="403.17" r="0.86" fill="#1a1a1a"/><circle cx="1317.16" cy="405.27" r="0.63" fill="#333"/><circle cx="1249.43" cy="419.32" r="0.52" fill="#333"/><circle cx="1249.53" cy="425.73" r="0.54" fill="#333"/><circle cx="1279.69" cy="404.48" r="0.51" fill="#333"/><circle cx="1218.97" cy="418.81" r="0.56" fill="#333"/><circle cx="1269.89" cy="423.91" r="0.65" fill="#333"/><circle cx="1226.16" cy="400.69" r="0.59" fill="#333"/><circle cx="1252.01" cy="414.41" r="0.5" fill="#333"/><circle cx="1314.82" cy="430.7" r="0.84" fill="#1a1a1a"/><circle cx="1263.86" cy="405.02" r="0.56" fill="#333"/><circle cx="1345.37" cy="432.33" r="0.5" fill="#333"/><polygon points="1210.98,430.48 1208.29,428.73 1211.15,427.28" fill="none" stroke="#222" stroke-width="0.6"/><circle cx="1201.56" cy="403.47" r="0.55" fill="#333"/><circle cx="1262.45" cy="434.52" r="0.5" fill="#333"/><circle cx="1301.67" cy="413.93" r="0.51" fill="#333"/><circle cx="1228.15" cy="411.03" r="0.75" fill="#1a1a1a"/><circle cx="1327.43" cy="413.7" r="0.61" fill="#333"/><circle cx="1297.41" cy="405.9" r="0.64" fill="#333"/><circle cx="1322.13" cy="411.97" r="0.58" fill="#333"/><circle cx="1198.1" cy="413.65" r="0.56" fill="#333"/><circle cx="1338.79" cy="428.15" r="0.65" fill="#333"/><polygon points="1247.61,433.28 1244.25,433.19 1246.01,430.33" fill="#222" stroke="#222" stroke-width="0.6"/><circle cx="1261.01" cy="402.92" r="0.61" fill="#333"/><circle cx="1227.61" cy="409.01" r="0.56" fill="#333"/><circle cx="1196.13" cy="411.16" r="0.51" fill="#333"/><circle cx="1237.69" cy="416.23" r="0.61" fill="#333"/><polygon points="1251.47,424.75 1252.03,422.48 1253.72,424.1" fill="none" stroke="#222" stroke-width="0.6"/><circle cx="1214.88" cy="401.91" r="0.49" fill="#333"/><polygon points="1200.35,402.68 1203,402.6 1201.74,404.94" fill="none" stroke="#222" stroke-width="0.6"/><circle cx="1237.18" cy="418.49" r="0.84" fill="#1a1a1a"/><polygon points="1210.57,424.28 1208.09,421.77 1211.5,420.87" fill="none" stroke="#222" stroke-width="0.6"/><circle cx="1222.25" cy="416" r="0.86" fill="#1a1a1a"/><circle cx="1312.92" cy="430.04" r="0.54" fill="#333"/><circle cx="1277.65" cy="412.73" r="0.83" fill="#1a1a1a"/><circle cx="1342.68" cy="402.35" r="0.51" fill="#333"/><circle cx="1285.04" cy="409.72" r="0.55" fill="#333"/><polygon points="1242.05,415.37 1240.98,417.5 1239.67,415.51" fill="#222" stroke="#222" stroke-width="0.6"/><polygon points="1254.88,425.87 1252.34,423.4 1255.75,422.44" fill="none" stroke="#222" stroke-width="0.6"/><circle cx="1259.87" cy="420.97" r="0.47" fill="#333"/><circle cx="1271" cy="426.71" r="0.6" fill="#333"/><circle cx="1297.74" cy="404.89" r="0.55" fill="#333"/><polygon points="1199.35,429.02 1198.12,426.25 1201.14,426.57" fill="#222" stroke="#222" stroke-width="0.6"/><circle cx="1339.52" cy="422.17" r="0.57" fill="#333"/><polygon points="1280.23,432.6 1278.4,430.51 1281.12,429.97" fill="none" stroke="#222" stroke-width="0.6"/><circle cx="1253.83" cy="432.72" r="0.77" fill="#1a1a1a"/><circle cx="1334.11" cy="425.71" r="0.52" fill="#333"/><circle cx="1305.97" cy="405.62" r="0.5" fill="#333"/><circle cx="1317.05" cy="402.99" r="0.62" fill="#333"/><circle cx="1197.05" cy="406.01" r="0.61" fill="#333"/><circle cx="1238.11" cy="428.51" r="0.5" fill="#333"/><circle cx="1298.88" cy="414.96" r="0.91" fill="#1a1a1a"/><circle cx="1303.44" cy="408.96" r="0.59" fill="#333"/><circle cx="1250.29" cy="409.44" r="0.64" fill="#333"/><circle cx="1207.88" cy="409.24" r="0.65" fill="#333"/><circle cx="1345.67" cy="400.69" r="0.48" fill="#333"/><circle cx="1225.07" cy="405.16" r="0.65" fill="#333"/><circle cx="1341.54" cy="413.29" r="0.59" fill="#333"/><circle cx="1204.7" cy="432.02" r="0.94" fill="#1a1a1a"/><circle cx="1213.59" cy="431.99" r="0.55" fill="#333"/><circle cx="1221.38" cy="417.54" r="0.56" fill="#333"/><circle cx="1343.77" cy="419.16" r="0.48" fill="#333"/><circle cx="1306.39" cy="421.45" r="0.52" fill="#333"/><circle cx="1264.37" cy="428.93" r="0.79" fill="#1a1a1a"/><circle cx="1323.23" cy="423.16" r="0.45" fill="#333"/><circle cx="1310.55" cy="414.97" r="0.8" fill="#1a1a1a"/><circle cx="1214.39" cy="429.91" r="0.64" fill="#333"/><circle cx="1296.78" cy="406.06" r="0.65" fill="#333"/><circle cx="1193.45" cy="412.41" r="0.74" fill="#1a1a1a"/><polygon points="1233.72,422.98 1235.69,420.14 1237.16,423.26" fill="#222" stroke="#222" stroke-width="0.6"/><circle cx="1208.83" cy="418.82" r="0.55" fill="#333"/><circle cx="1209.87" cy="412.87" r="0.47" fill="#333"/><circle cx="1270.28" cy="429.91" r="0.48" fill="#333"/><circle cx="1290.21" cy="403.31" r="0.7" fill="#1a1a1a"/><circle cx="1274.72" cy="406.63" r="0.73" fill="#1a1a1a"/><circle cx="1330.69" cy="405.5" r="0.61" fill="#333"/><circle cx="1262.27" cy="420.85" r="0.9" fill="#1a1a1a"/><circle cx="1298.55" cy="403.13" r="0.48" fill="#333"/><circle cx="1267.13" cy="406.84" r="0.58" fill="#333"/><polygon points="1307.29,410.97 1305.9,413.48 1304.42,411.02" fill="none" stroke="#222" stroke-width="0.6"/><circle cx="1288.38" cy="427.27" r="0.64" fill="#333"/><circle cx="1339.84" cy="426.32" r="0.48" fill="#333"/><circle cx="1233.92" cy="425.35" r="0.62" fill="#333"/><circle cx="1312.12" cy="412.03" r="0.86" fill="#1a1a1a"/><circle cx="1210.33" cy="417.77" r="0.8" fill="#1a1a1a"/><circle cx="1293.7" cy="422.64" r="0.46" fill="#333"/><circle cx="1330.52" cy="425.14" r="0.57" fill="#333"/><circle cx="1292.53" cy="431.58" r="0.58" fill="#333"/><circle cx="1199.43" cy="401.24" r="0.62" fill="#333"/><circle cx="1252.63" cy="407.79" r="0.62" fill="#333"/><circle cx="1309.27" cy="404.98" r="0.75" fill="#1a1a1a"/><circle cx="1307.72" cy="409.2" r="0.53" fill="#333"/><circle cx="1222.94" cy="414.98" r="0.92" fill="#1a1a1a"/><circle cx="1196.85" cy="415.03" r="0.46" fill="#333"/><circle cx="1227.36" cy="435.12" r="0.53" fill="#333"/><circle cx="1327.32" cy="432.28" r="0.6" fill="#333"/><circle cx="1280.35" cy="418.35" r="0.57" fill="#333"/><circle cx="1342.68" cy="406.72" r="0.6" fill="#333"/><circle cx="1261.23" cy="430.17" r="0.8" fill="#1a1a1a"/><circle cx="1281.84" cy="434.44" r="0.91" fill="#1a1a1a"/><circle cx="1294.2" cy="432.69" r="0.87" fill="#1a1a1a"/><circle cx="1329.68" cy="431.43" r="0.62" fill="#333"/><circle cx="1290.62" cy="419.79" r="0.83" fill="#1a1a1a"/><polygon points="1343.36,435.15 1341.87,432.93 1344.54,432.75" fill="none" stroke="#222" stroke-width="0.6"/><circle cx="1221.23" cy="427.27" r="0.78" fill="#1a1a1a"/><circle cx="1342.57" cy="404.8" r="0.5" fill="#333"/><circle cx="1309.33" cy="402.75" r="0.5" fill="#333"/><circle cx="1340.25" cy="411.95" r="0.46" fill="#333"/><circle cx="1337.51" cy="422.64" r="0.6" fill="#333"/><circle cx="1202.55" cy="426.5" r="0.49" fill="#333"/><circle cx="1330" cy="423.7" r="0.46" fill="#333"/><circle cx="1292.95" cy="402.49" r="0.71" fill="#1a1a1a"/><circle cx="1219.73" cy="426.64" r="0.95" fill="#1a1a1a"/><circle cx="1236.16" cy="428.45" r="0.58" fill="#333"/><circle cx="1286.15" cy="405.31" r="0.63" fill="#333"/><polygon points="1276.3,406.7 1274.32,408.39 1273.85,405.82" fill="#222" stroke="#222" stroke-width="0.6"/><polygon points="1236.7,416.94 1237.82,420.09 1234.53,419.49" fill="#222" stroke="#222" stroke-width="0.6"/><circle cx="1197.88" cy="431.98" r="0.6" fill="#333"/><circle cx="1225.63" cy="433.89" r="0.46" fill="#333"/><circle cx="1343.95" cy="424.91" r="0.92" fill="#1a1a1a"/><polygon points="1285.34,421.32 1286,423.78 1283.54,423.12" fill="#222" stroke="#222" stroke-width="0.6"/><circle cx="1223.04" cy="402.84" r="0.48" fill="#333"/><circle cx="1313.7" cy="416.25" r="0.63" fill="#333"/><circle cx="1342.46" cy="407.13" r="0.61" fill="#333"/><circle cx="1244.33" cy="433.33" r="0.86" fill="#1a1a1a"/><circle cx="1232.6" cy="425.78" r="0.81" fill="#1a1a1a"/><circle cx="1304.29" cy="429.47" r="0.74" fill="#1a1a1a"/><circle cx="1225.85" cy="427.33" r="0.59" fill="#333"/><circle cx="1317.27" cy="408.61" r="0.45" fill="#333"/><circle cx="1247.37" cy="421.49" r="0.9" fill="#1a1a1a"/><circle cx="1225.9" cy="415.92" r="0.49" fill="#333"/><polygon points="1294.37,413.32 1296.55,414.32 1294.59,415.71" fill="none" stroke="#222" stroke-width="0.6"/><circle cx="1297.65" cy="430.69" r="0.61" fill="#333"/><circle cx="1321.95" cy="421.3" r="0.48" fill="#333"/><polygon points="1229.13,404.97 1228.42,402.27 1231.11,403" fill="none" stroke="#222" stroke-width="0.6"/><circle cx="1320.44" cy="409.84" r="0.62" fill="#333"/><circle cx="1222.79" cy="421.1" r="0.72" fill="#1a1a1a"/><polygon points="1227.58,406.33 1227.96,408.59 1225.81,407.79" fill="none" stroke="#222" stroke-width="0.6"/><polygon points="1324.46,404.39 1325.34,401.06 1327.78,403.48" fill="#222" stroke="#222" stroke-width="0.6"/><circle cx="1300.86" cy="419.03" r="0.74" fill="#1a1a1a"/><circle cx="1210.94" cy="425.4" r="0.46" fill="#333"/><circle cx="1227.58" cy="418.82" r="0.82" fill="#1a1a1a"/><polygon points="1270.94,408.14 1271.34,410.95 1268.71,409.89" fill="#222" stroke="#222" stroke-width="0.6"/><circle cx="1275.88" cy="428.85" r="0.52" fill="#333"/><circle cx="1335.79" cy="427.83" r="0.51" fill="#333"/><circle cx="1267.56" cy="416.21" r="0.57" fill="#333"/><circle cx="1277.76" cy="418.46" r="0.52" fill="#333"/><circle cx="1213.44" cy="406.59" r="0.72" fill="#1a1a1a"/><circle cx="1343.2" cy="419.89" r="0.54" fill="#333"/><circle cx="1273.32" cy="408.31" r="0.53" fill="#333"/><circle cx="1255.6" cy="426.46" r="0.65" fill="#333"/><circle cx="1267.17" cy="415.28" r="0.53" fill="#333"/><circle cx="1224.38" cy="417.18" r="0.76" fill="#1a1a1a"/><circle cx="1311.89" cy="412.65" r="0.51" fill="#333"/><circle cx="1210.83" cy="427.82" r="0.59" fill="#333"/><circle cx="1286.92" cy="406.52" r="0.62" fill="#333"/><circle cx="1313.69" cy="421.14" r="0.48" fill="#333"/><polygon points="1200.56,430.98 1201.61,428.6 1203.15,430.7" fill="none" stroke="#222" stroke-width="0.6"/><circle cx="1300.27" cy="430.82" r="0.5" fill="#333"/><circle cx="1231.51" cy="404.69" r="0.73" fill="#1a1a1a"/><circle cx="1340.84" cy="420.58" r="0.46" fill="#333"/><circle cx="1333.3" cy="409" r="0.49" fill="#333"/></g>
<line x1="1059.1" y1="735.6" x2="1258.7" y2="735.6" stroke="#111" stroke-width="1.2" stroke-linecap="butt"/>
<line x1="1288.3" y1="735.6" x2="1348.2" y2="735.6" stroke="#111" stroke-width="1.2" stroke-linecap="butt"/>
<line x1="1059.1" y1="747.8" x2="1258.7" y2="747.8" stroke="#111" stroke-width="1" stroke-linecap="butt"/>
<polyline points="1059.1,757.3 1197.7,757.3 1226.3,776.9 1258.7,776.9" fill="none" stroke="#111" stroke-width="1" stroke-linejoin="miter"/>
<line x1="1258.7" y1="735.6" x2="1258.7" y2="777.9" stroke="#111" stroke-width="0.9" stroke-linecap="butt"/>
<line x1="1260.6" y1="735.6" x2="1260.6" y2="777.9" stroke="#111" stroke-width="0.9" stroke-linecap="butt"/>
<line x1="1261.8" y1="437.1" x2="1261.8" y2="777.9" stroke="#111" stroke-width="1.1" stroke-linecap="butt"/>
<line x1="1288.3" y1="437.1" x2="1288.3" y2="757.3" stroke="#111" stroke-width="1.1" stroke-linecap="butt"/>
<polyline points="1348.2,757.3 1288.2,757.3 1288.2,777.9 1320.6,777.9 1320.6,820.8 1230,820.8 1230,777.9" fill="none" stroke="#111" stroke-width="1.1" stroke-linejoin="miter"/>
<line x1="1348.2" y1="725.5" x2="1348.2" y2="782.6" stroke="#111" stroke-width="1" stroke-linecap="butt"/>
<line x1="1059.1" y1="729.3" x2="1059.1" y2="806" stroke="#111" stroke-width="1" stroke-linecap="butt"/>
<polyline points="1192.3,399.4 1347.8,399.4" fill="none" stroke="#111" stroke-width="1.2" stroke-linejoin="miter"/>
<path d="M 1192.3 399.4 L 1192.3 437.1 L 1209.8 437.1 A 4.8 2.6 0 0 1 1219.4 437.1 L 1347.8 437.1" fill="none" stroke="#111" stroke-width="1.1"/>
<line x1="1347.8" y1="390.2" x2="1347.8" y2="446.9" stroke="#111" stroke-width="1" stroke-linecap="butt"/>
<line x1="1222.8" y1="275" x2="1058.4" y2="259.3" stroke="#111" stroke-width="1.2" stroke-linecap="butt"/>
<line x1="1202.55" y1="276.68" x2="1058.06" y2="262.88" stroke="#222" stroke-width="0.8" stroke-linecap="butt"/>
<line x1="1202.36" y1="278.67" x2="1057.87" y2="264.87" stroke="#777" stroke-width="0.5" stroke-linecap="butt"/>
<line x1="1202.17" y1="280.66" x2="1057.68" y2="266.87" stroke="#111" stroke-width="1" stroke-linecap="butt"/>
<line x1="1199.56" y1="276.4" x2="1199.18" y2="280.38" stroke="#333" stroke-width="0.7" stroke-linecap="butt"/>
<line x1="1193.39" y1="275.81" x2="1193.01" y2="279.79" stroke="#333" stroke-width="0.7" stroke-linecap="butt"/>
<line x1="1187.22" y1="275.22" x2="1186.84" y2="279.2" stroke="#333" stroke-width="0.7" stroke-linecap="butt"/>
<line x1="1181.05" y1="274.63" x2="1180.67" y2="278.61" stroke="#333" stroke-width="0.7" stroke-linecap="butt"/>
<line x1="1174.87" y1="274.04" x2="1174.49" y2="278.02" stroke="#333" stroke-width="0.7" stroke-linecap="butt"/>
<line x1="1168.7" y1="273.45" x2="1168.32" y2="277.43" stroke="#333" stroke-width="0.7" stroke-linecap="butt"/>
<line x1="1162.53" y1="272.86" x2="1162.15" y2="276.84" stroke="#333" stroke-width="0.7" stroke-linecap="butt"/>
<line x1="1156.36" y1="272.27" x2="1155.98" y2="276.25" stroke="#333" stroke-width="0.7" stroke-linecap="butt"/>
<line x1="1150.19" y1="271.68" x2="1149.81" y2="275.66" stroke="#333" stroke-width="0.7" stroke-linecap="butt"/>
<line x1="1144.01" y1="271.09" x2="1143.63" y2="275.07" stroke="#333" stroke-width="0.7" stroke-linecap="butt"/>
<line x1="1137.84" y1="270.5" x2="1137.46" y2="274.48" stroke="#333" stroke-width="0.7" stroke-linecap="butt"/>
<line x1="1131.67" y1="269.91" x2="1131.29" y2="273.9" stroke="#333" stroke-width="0.7" stroke-linecap="butt"/>
<line x1="1125.5" y1="269.32" x2="1125.12" y2="273.31" stroke="#333" stroke-width="0.7" stroke-linecap="butt"/>
<line x1="1119.33" y1="268.73" x2="1118.95" y2="272.72" stroke="#333" stroke-width="0.7" stroke-linecap="butt"/>
<line x1="1113.16" y1="268.15" x2="1112.77" y2="272.13" stroke="#333" stroke-width="0.7" stroke-linecap="butt"/>
<line x1="1106.98" y1="267.56" x2="1106.6" y2="271.54" stroke="#333" stroke-width="0.7" stroke-linecap="butt"/>
<line x1="1100.81" y1="266.97" x2="1100.43" y2="270.95" stroke="#333" stroke-width="0.7" stroke-linecap="butt"/>
<line x1="1094.64" y1="266.38" x2="1094.26" y2="270.36" stroke="#333" stroke-width="0.7" stroke-linecap="butt"/>
<line x1="1088.47" y1="265.79" x2="1088.09" y2="269.77" stroke="#333" stroke-width="0.7" stroke-linecap="butt"/>
<line x1="1082.3" y1="265.2" x2="1081.92" y2="269.18" stroke="#333" stroke-width="0.7" stroke-linecap="butt"/>
<line x1="1076.12" y1="264.61" x2="1075.74" y2="268.59" stroke="#333" stroke-width="0.7" stroke-linecap="butt"/>
<line x1="1069.95" y1="264.02" x2="1069.57" y2="268" stroke="#333" stroke-width="0.7" stroke-linecap="butt"/>
<line x1="1063.78" y1="263.43" x2="1063.4" y2="267.41" stroke="#333" stroke-width="0.7" stroke-linecap="butt"/>
<line x1="1198.74" y1="274.51" x2="1194.26" y2="274.08" stroke="#555" stroke-width="0.7" stroke-linecap="butt"/>
<line x1="1189.78" y1="273.65" x2="1185.3" y2="273.23" stroke="#555" stroke-width="0.7" stroke-linecap="butt"/>
<line x1="1180.82" y1="272.8" x2="1176.34" y2="272.37" stroke="#555" stroke-width="0.7" stroke-linecap="butt"/>
<line x1="1171.86" y1="271.94" x2="1167.38" y2="271.52" stroke="#555" stroke-width="0.7" stroke-linecap="butt"/>
<line x1="1162.9" y1="271.09" x2="1158.42" y2="270.66" stroke="#555" stroke-width="0.7" stroke-linecap="butt"/>
<line x1="1153.94" y1="270.23" x2="1149.46" y2="269.8" stroke="#555" stroke-width="0.7" stroke-linecap="butt"/>
<line x1="1144.98" y1="269.38" x2="1140.5" y2="268.95" stroke="#555" stroke-width="0.7" stroke-linecap="butt"/>
<line x1="1136.02" y1="268.52" x2="1131.54" y2="268.09" stroke="#555" stroke-width="0.7" stroke-linecap="butt"/>
<line x1="1127.06" y1="267.67" x2="1122.58" y2="267.24" stroke="#555" stroke-width="0.7" stroke-linecap="butt"/>
<line x1="1118.1" y1="266.81" x2="1113.62" y2="266.38" stroke="#555" stroke-width="0.7" stroke-linecap="butt"/>
<line x1="1109.15" y1="265.95" x2="1104.67" y2="265.53" stroke="#555" stroke-width="0.7" stroke-linecap="butt"/>
<line x1="1100.19" y1="265.1" x2="1095.71" y2="264.67" stroke="#555" stroke-width="0.7" stroke-linecap="butt"/>
<line x1="1091.23" y1="264.24" x2="1086.75" y2="263.82" stroke="#555" stroke-width="0.7" stroke-linecap="butt"/>
<line x1="1082.27" y1="263.39" x2="1077.79" y2="262.96" stroke="#555" stroke-width="0.7" stroke-linecap="butt"/>
<line x1="1073.31" y1="262.53" x2="1068.83" y2="262.1" stroke="#555" stroke-width="0.7" stroke-linecap="butt"/>
<line x1="1064.35" y1="261.68" x2="1059.87" y2="261.25" stroke="#555" stroke-width="0.7" stroke-linecap="butt"/>
<polyline points="1222.8,275 1222.8,283.8 1219.9,284.5 1219.9,296.6 1203.6,296.6 1203.6,280" fill="none" stroke="#111" stroke-width="1.1" stroke-linejoin="miter"/>
<line x1="1203.6" y1="281.5" x2="1221" y2="281.5" stroke="#111" stroke-width="0.9" stroke-linecap="butt"/>
<rect x="1199.5" y="277.4" width="3.5" height="25.1" fill="none" stroke="#111" stroke-width="1.1"/>
<polygon points="1194.5,272.5 1199.5,273 1199.5,280 1194.5,279.5" fill="#111" stroke="none" stroke-width="0"/>
<line x1="1195.4" y1="280" x2="1195.4" y2="399.4" stroke="#111" stroke-width="0.9" stroke-linecap="butt"/>
<line x1="1198.9" y1="280" x2="1198.9" y2="399.4" stroke="#111" stroke-width="0.9" stroke-linecap="butt"/>
<line x1="1197.15" y1="280" x2="1197.15" y2="399.4" stroke="#777" stroke-width="1.2" stroke-dasharray="1,1.2"/>
<line x1="1058.4" y1="243" x2="1058.4" y2="353" stroke="#111" stroke-width="1" stroke-linecap="butt"/>
<line x1="1058.4" y1="289.6" x2="1173.8" y2="299.6" stroke="#111" stroke-width="1.6" stroke-linecap="butt"/>
<line x1="1173.8" y1="300.1" x2="1195.4" y2="300.1" stroke="#111" stroke-width="1.1" stroke-linecap="butt"/>
<line x1="1058.4" y1="339" x2="1106.8" y2="346.3" stroke="#111" stroke-width="1.6" stroke-linecap="butt"/>
<line x1="1195.4" y1="303.6" x2="1174.4" y2="319.4" stroke="#111" stroke-width="1" stroke-linecap="butt"/>
<line x1="1172" y1="300" x2="1172" y2="735.6" stroke="#111" stroke-width="0.9" stroke-linecap="butt"/>
<line x1="1173.8" y1="300" x2="1173.8" y2="735.6" stroke="#111" stroke-width="0.9" stroke-linecap="butt"/>
<line x1="1106.8" y1="290.8" x2="1106.8" y2="379.9" stroke="#111" stroke-width="0.9" stroke-linecap="butt"/>
<line x1="1110" y1="290.8" x2="1110" y2="379.9" stroke="#111" stroke-width="0.9" stroke-linecap="butt"/>
<line x1="1106.8" y1="290.8" x2="1110" y2="290.8" stroke="#111" stroke-width="0.9" stroke-linecap="butt"/>
<line x1="1106.8" y1="379.9" x2="1110" y2="379.9" stroke="#111" stroke-width="0.9" stroke-linecap="butt"/>
<line x1="1108.4" y1="291" x2="1108.4" y2="379.5" stroke="#bbb" stroke-width="2"/>
<line x1="1109.2" y1="379.9" x2="1127.9" y2="735.6" stroke="#111" stroke-width="1" stroke-linecap="butt"/>
<line x1="1110.8" y1="379.9" x2="1129.5" y2="735.6" stroke="#111" stroke-width="0.8" stroke-linecap="butt"/>
<line x1="1085" y1="269.8" x2="1083.9" y2="290.2" stroke="#111" stroke-width="0.9" stroke-linecap="butt"/>
<line x1="1110" y1="453.4" x2="1172" y2="453.4" stroke="#111" stroke-width="1" stroke-linecap="butt"/>
<line x1="1174" y1="371.9" x2="1195.4" y2="371.9" stroke="#111" stroke-width="1" stroke-linecap="butt"/>
<line x1="1194" y1="374.5" x2="1200" y2="374.5" stroke="#111" stroke-width="0.7" stroke-linecap="butt"/>
<line x1="1201.9" y1="381.5" x2="1197" y2="387" stroke="#111" stroke-width="0.9" stroke-linecap="butt"/>
<polygon points="1197,387 1198.17,384.03 1199.82,385.49" fill="#111" stroke="none" stroke-width="0"/>
<line x1="1168.5" y1="219" x2="1168.5" y2="317.5" stroke="#1a1a1a" stroke-width="0.9" stroke-dasharray="22,3,4,3"/>
<rect x="1123.6" y="257.5" width="114" height="64.1" rx="13" fill="none" stroke="#1a1a1a" stroke-width="1.1" stroke-dasharray="6,2.8"/>
<rect x="1076.3" y="351.5" width="189.5" height="107.7" rx="25" fill="none" stroke="#1a1a1a" stroke-width="1.1" stroke-dasharray="6,2.8"/>
<circle cx="1289" cy="224.7" r="21.4" fill="none" stroke="#111" stroke-width="1.3"/>
<line x1="1267.6" y1="224.7" x2="1310.4" y2="224.7" stroke="#111" stroke-width="1.2" stroke-linecap="butt"/>
<text x="1290" y="222.1" font-family="Liberation Sans" font-size="16.5" font-weight="normal" fill="#1a1a1a" text-anchor="middle" textLength="4.2" lengthAdjust="spacingAndGlyphs">1</text>
<text x="1289.6" y="239.1" font-family="Liberation Sans" font-size="16.5" font-weight="normal" fill="#1a1a1a" text-anchor="middle" textLength="23.1" lengthAdjust="spacingAndGlyphs">A5.1</text>
<text x="1290.5" y="260.8" font-family="Liberation Sans" font-size="15.4" font-weight="normal" fill="#1a1a1a" text-anchor="middle" textLength="43" lengthAdjust="spacingAndGlyphs">SIMILAR</text>
<polyline points="1267.5,224.7 1247.5,224.7 1229.3,258.7" fill="none" stroke="#111" stroke-width="1" stroke-linejoin="miter"/>
<circle cx="1323.6" cy="319.7" r="21.4" fill="none" stroke="#111" stroke-width="1.3"/>
<line x1="1302.2" y1="319.7" x2="1345" y2="319.7" stroke="#111" stroke-width="1.2" stroke-linecap="butt"/>
<text x="1324.6" y="317.1" font-family="Liberation Sans" font-size="16.5" font-weight="normal" fill="#1a1a1a" text-anchor="middle" textLength="6.8" lengthAdjust="spacingAndGlyphs">3</text>
<text x="1324.2" y="334.1" font-family="Liberation Sans" font-size="16.5" font-weight="normal" fill="#1a1a1a" text-anchor="middle" textLength="23.1" lengthAdjust="spacingAndGlyphs">A5.1</text>
<polyline points="1302.2,319.7 1282,319.7 1255.4,356.7" fill="none" stroke="#111" stroke-width="1" stroke-linejoin="miter"/>
<text x="978.1" y="568.7" font-family="Liberation Sans" font-size="7.9" font-weight="normal" fill="#111" text-anchor="start" textLength="56.4" lengthAdjust="spacingAndGlyphs" stroke="#111" stroke-width="0.18">PRE-ENGINEER</text>
<text x="978.1" y="577.6" font-family="Liberation Sans" font-size="7.9" font-weight="normal" fill="#111" text-anchor="start" textLength="75.4" lengthAdjust="spacingAndGlyphs" stroke="#111" stroke-width="0.18">STRUCTURAL STEEL</text>
<text x="978.1" y="586.3" font-family="Liberation Sans" font-size="7.9" font-weight="normal" fill="#111" text-anchor="start" textLength="67.6" lengthAdjust="spacingAndGlyphs" stroke="#111" stroke-width="0.18">FRAME ASSEMBLY</text>
<polyline points="1034.5,565.3 1076.8,565.3" fill="none" stroke="#111" stroke-width="1" stroke-linejoin="miter"/>
<line x1="1076.8" y1="565.3" x2="1136.9" y2="613.4" stroke="#111" stroke-width="0.9" stroke-linecap="butt"/>
<polygon points="1136.9,613.4 1131.92,610.82 1133.29,609.1" fill="#111" stroke="none" stroke-width="0"/>
<text x="978.1" y="638.2" font-family="Liberation Sans" font-size="7.9" font-weight="normal" fill="#111" text-anchor="start" textLength="48.6" lengthAdjust="spacingAndGlyphs" stroke="#111" stroke-width="0.18">PRE-MOLDED</text>
<text x="978.1" y="646.9" font-family="Liberation Sans" font-size="7.9" font-weight="normal" fill="#111" text-anchor="start" textLength="48.6" lengthAdjust="spacingAndGlyphs" stroke="#111" stroke-width="0.18">JOINT FILLER</text>
<polyline points="1028.8,635.4 1078.2,635.4" fill="none" stroke="#111" stroke-width="1" stroke-linejoin="miter"/>
<line x1="1078.2" y1="635.4" x2="1259" y2="750.4" stroke="#111" stroke-width="0.9" stroke-linecap="butt"/>
<polygon points="1259,750.4 1253.77,748.38 1254.95,746.52" fill="#111" stroke="none" stroke-width="0"/>
<rect x="1086.6" y="876.2" width="53.8" height="32.2" fill="none" stroke="#111" stroke-width="1.1"/>
<line x1="1086.6" y1="891.9" x2="1140.4" y2="891.9" stroke="#111" stroke-width="1" stroke-linecap="butt"/>
<line x1="1113.3" y1="891.9" x2="1113.3" y2="908.4" stroke="#111" stroke-width="1" stroke-linecap="butt"/>
<text x="1112.8" y="889.6" font-family="Liberation Sans" font-size="12.8" font-weight="bold" fill="#111" text-anchor="middle">3</text>
<text x="1091.9" y="904.1" font-family="Liberation Sans" font-size="9.2" font-weight="normal" fill="#1a1a1a" text-anchor="start" textLength="16.1" lengthAdjust="spacingAndGlyphs">A5.0</text>
<text x="1119" y="904.1" font-family="Liberation Sans" font-size="9.2" font-weight="normal" fill="#1a1a1a" text-anchor="start" textLength="16.4" lengthAdjust="spacingAndGlyphs">A5.0</text>
<text x="1148.4" y="889.6" font-family="Liberation Sans" font-size="14" font-weight="bold" fill="#111" text-anchor="start" textLength="109.7" lengthAdjust="spacingAndGlyphs">WALL SECTION</text>
<line x1="1140.4" y1="892.2" x2="1365.5" y2="892.2" stroke="#111" stroke-width="1" stroke-linecap="butt"/>
<text x="1149.3" y="904.4" font-family="Liberation Sans" font-size="8.8" font-weight="normal" fill="#1a1a1a" text-anchor="start" textLength="80.2" lengthAdjust="spacingAndGlyphs">SCALE:  3/4"=1'-0"</text>
<circle cx="1452.2" cy="935.8" r="38.4" fill="none" stroke="#333" stroke-width="0.8"/>
<circle cx="1452.2" cy="935.8" r="36.9" fill="none" stroke="#666" stroke-width="2.2" stroke-dasharray="0.8,0.8"/>
<circle cx="1452.2" cy="935.8" r="35.4" fill="none" stroke="#333" stroke-width="0.8"/>
<circle cx="1452.2" cy="935.8" r="29.3" fill="none" stroke="#333" stroke-width="0.9"/>
<text x="0" y="0" transform="translate(1421.27,945.46) rotate(-107.3)" font-family="Liberation Sans" font-size="8.4" font-weight="bold" fill="#1a1a1a" text-anchor="middle" dominant-baseline="central">R</text>
<text x="0" y="0" transform="translate(1419.98,939.21) rotate(-96.1)" font-family="Liberation Sans" font-size="8.4" font-weight="bold" fill="#1a1a1a" text-anchor="middle" dominant-baseline="central">E</text>
<text x="0" y="0" transform="translate(1419.94,932.84) rotate(-84.8)" font-family="Liberation Sans" font-size="8.4" font-weight="bold" fill="#1a1a1a" text-anchor="middle" dominant-baseline="central">G</text>
<text x="0" y="0" transform="translate(1421.14,926.57) rotate(-73.4)" font-family="Liberation Sans" font-size="8.4" font-weight="bold" fill="#1a1a1a" text-anchor="middle" dominant-baseline="central">I</text>
<text x="0" y="0" transform="translate(1423.55,920.66) rotate(-62.2)" font-family="Liberation Sans" font-size="8.4" font-weight="bold" fill="#1a1a1a" text-anchor="middle" dominant-baseline="central">S</text>
<text x="0" y="0" transform="translate(1427.07,915.34) rotate(-50.8)" font-family="Liberation Sans" font-size="8.4" font-weight="bold" fill="#1a1a1a" text-anchor="middle" dominant-baseline="central">T</text>
<text x="0" y="0" transform="translate(1431.57,910.82) rotate(-39.6)" font-family="Liberation Sans" font-size="8.4" font-weight="bold" fill="#1a1a1a" text-anchor="middle" dominant-baseline="central">E</text>
<text x="0" y="0" transform="translate(1436.86,907.26) rotate(-28.2)" font-family="Liberation Sans" font-size="8.4" font-weight="bold" fill="#1a1a1a" text-anchor="middle" dominant-baseline="central">R</text>
<text x="0" y="0" transform="translate(1442.75,904.81) rotate(-17.0)" font-family="Liberation Sans" font-size="8.4" font-weight="bold" fill="#1a1a1a" text-anchor="middle" dominant-baseline="central">E</text>
<text x="0" y="0" transform="translate(1449.01,903.56) rotate(-5.7)" font-family="Liberation Sans" font-size="8.4" font-weight="bold" fill="#1a1a1a" text-anchor="middle" dominant-baseline="central">D</text>
<text x="0" y="0" transform="translate(1461.65,904.81) rotate(16.9)" font-family="Liberation Sans" font-size="8.4" font-weight="bold" fill="#1a1a1a" text-anchor="middle" dominant-baseline="central">A</text>
<text x="0" y="0" transform="translate(1467.54,907.26) rotate(28.2)" font-family="Liberation Sans" font-size="8.4" font-weight="bold" fill="#1a1a1a" text-anchor="middle" dominant-baseline="central">R</text>
<text x="0" y="0" transform="translate(1472.83,910.82) rotate(39.6)" font-family="Liberation Sans" font-size="8.4" font-weight="bold" fill="#1a1a1a" text-anchor="middle" dominant-baseline="central">C</text>
<text x="0" y="0" transform="translate(1477.33,915.34) rotate(50.8)" font-family="Liberation Sans" font-size="8.4" font-weight="bold" fill="#1a1a1a" text-anchor="middle" dominant-baseline="central">H</text>
<text x="0" y="0" transform="translate(1480.85,920.66) rotate(62.2)" font-family="Liberation Sans" font-size="8.4" font-weight="bold" fill="#1a1a1a" text-anchor="middle" dominant-baseline="central">I</text>
<text x="0" y="0" transform="translate(1483.26,926.57) rotate(73.4)" font-family="Liberation Sans" font-size="8.4" font-weight="bold" fill="#1a1a1a" text-anchor="middle" dominant-baseline="central">T</text>
<text x="0" y="0" transform="translate(1484.46,932.84) rotate(84.8)" font-family="Liberation Sans" font-size="8.4" font-weight="bold" fill="#1a1a1a" text-anchor="middle" dominant-baseline="central">E</text>
<text x="0" y="0" transform="translate(1484.42,939.21) rotate(96.1)" font-family="Liberation Sans" font-size="8.4" font-weight="bold" fill="#1a1a1a" text-anchor="middle" dominant-baseline="central">C</text>
<text x="0" y="0" transform="translate(1483.13,945.46) rotate(107.3)" font-family="Liberation Sans" font-size="8.4" font-weight="bold" fill="#1a1a1a" text-anchor="middle" dominant-baseline="central">T</text>
<text x="0" y="0" transform="translate(1424.74,952.99) rotate(-302.1)" font-family="Liberation Sans" font-size="8.0" font-weight="bold" fill="#1a1a1a" text-anchor="middle" dominant-baseline="central">U</text>
<text x="0" y="0" transform="translate(1427.44,956.69) rotate(-310.2)" font-family="Liberation Sans" font-size="8.0" font-weight="bold" fill="#1a1a1a" text-anchor="middle" dominant-baseline="central">.</text>
<text x="0" y="0" transform="translate(1430.63,959.98) rotate(-318.3)" font-family="Liberation Sans" font-size="8.0" font-weight="bold" fill="#1a1a1a" text-anchor="middle" dominant-baseline="central">S</text>
<text x="0" y="0" transform="translate(1434.26,962.78) rotate(-326.4)" font-family="Liberation Sans" font-size="8.0" font-weight="bold" fill="#1a1a1a" text-anchor="middle" dominant-baseline="central">.</text>
<text x="0" y="0" transform="translate(1442.50,966.71) rotate(-342.6)" font-family="Liberation Sans" font-size="8.0" font-weight="bold" fill="#1a1a1a" text-anchor="middle" dominant-baseline="central">V</text>
<text x="0" y="0" transform="translate(1446.96,967.77) rotate(-350.7)" font-family="Liberation Sans" font-size="8.0" font-weight="bold" fill="#1a1a1a" text-anchor="middle" dominant-baseline="central">I</text>
<text x="0" y="0" transform="translate(1451.52,968.19) rotate(-358.8)" font-family="Liberation Sans" font-size="8.0" font-weight="bold" fill="#1a1a1a" text-anchor="middle" dominant-baseline="central">R</text>
<text x="0" y="0" transform="translate(1456.09,967.97) rotate(-366.9)" font-family="Liberation Sans" font-size="8.0" font-weight="bold" fill="#1a1a1a" text-anchor="middle" dominant-baseline="central">G</text>
<text x="0" y="0" transform="translate(1460.59,967.10) rotate(-375.0)" font-family="Liberation Sans" font-size="8.0" font-weight="bold" fill="#1a1a1a" text-anchor="middle" dominant-baseline="central">I</text>
<text x="0" y="0" transform="translate(1464.91,965.60) rotate(-383.1)" font-family="Liberation Sans" font-size="8.0" font-weight="bold" fill="#1a1a1a" text-anchor="middle" dominant-baseline="central">N</text>
<text x="0" y="0" transform="translate(1472.73,960.87) rotate(-399.3)" font-family="Liberation Sans" font-size="8.0" font-weight="bold" fill="#1a1a1a" text-anchor="middle" dominant-baseline="central">I</text>
<text x="0" y="0" transform="translate(1476.06,957.72) rotate(-407.4)" font-family="Liberation Sans" font-size="8.0" font-weight="bold" fill="#1a1a1a" text-anchor="middle" dominant-baseline="central">S</text>
<text x="0" y="0" transform="translate(1478.91,954.14) rotate(-415.5)" font-family="Liberation Sans" font-size="8.0" font-weight="bold" fill="#1a1a1a" text-anchor="middle" dominant-baseline="central">L</text>
<text x="0" y="0" transform="translate(1481.23,950.19) rotate(-423.6)" font-family="Liberation Sans" font-size="8.0" font-weight="bold" fill="#1a1a1a" text-anchor="middle" dominant-baseline="central">A</text>
<text x="0" y="0" transform="translate(1482.97,945.95) rotate(-431.7)" font-family="Liberation Sans" font-size="8.0" font-weight="bold" fill="#1a1a1a" text-anchor="middle" dominant-baseline="central">N</text>
<text x="0" y="0" transform="translate(1484.09,941.51) rotate(-439.8)" font-family="Liberation Sans" font-size="8.0" font-weight="bold" fill="#1a1a1a" text-anchor="middle" dominant-baseline="central">D</text>
<text x="0" y="0" transform="translate(1484.58,936.96) rotate(-447.9)" font-family="Liberation Sans" font-size="8.0" font-weight="bold" fill="#1a1a1a" text-anchor="middle" dominant-baseline="central">S</text>
<text x="1425.2" y="938.8" font-family="Liberation Sans" font-size="6" font-weight="normal" fill="#333" text-anchor="start">★</text>
<text x="1474.2" y="938.8" font-family="Liberation Sans" font-size="6" font-weight="normal" fill="#333" text-anchor="start">★</text>
<text x="1452.2" y="942.8" font-family="Liberation Sans" font-size="4.5" font-weight="normal" fill="#333" text-anchor="middle">A.I.A</text>
<path d="M 1367.9 913.3 C 1378 918 1388 925 1395 931.5 C 1386 925 1375 918 1367.9 913.3 M 1395 931.5 C 1392 936 1391 946 1394 951 C 1397 957 1404 958 1406.5 953 C 1408 947 1405 940 1399 935 M 1402.3 925.6 C 1408 925 1413 924.5 1418 925 C 1414 929 1411 935 1406 939.5 C 1402 941 1397 940 1394.5 938.5 M 1416 925 C 1414 921 1418 919.5 1422 920 C 1426 921 1424 925 1419 925.5 M 1419 938.5 C 1421 935 1423 932 1425 932.5 C 1426 934 1426.5 937 1427 938.5 C 1428 935 1429 933 1430 933.5 C 1431 935 1431.5 937.5 1432 939.5 C 1433 936 1434 933 1435 932.5 C 1436 934 1436.5 936 1437 937.5 C 1438 934 1439.5 931 1441 929.5 M 1443.6 941.3 C 1443.3 932 1442.8 920 1443.6 910.8 C 1447 908 1455 907.5 1460 911 C 1464 915 1463 921 1458 924 C 1452 926.5 1446 926.5 1440.7 926 M 1445.6 929.5 C 1446.5 933 1447.5 938 1448.5 941.3 C 1450 937 1451 933 1452.5 929.5 M 1452.5 936.4 C 1456 934.5 1459 933.5 1461 935 C 1463 936 1465 934 1466.5 933 C 1468 937 1469 941 1471 943 C 1474 944 1476 940 1474 936.5 C 1472 934 1469 937 1471 940 C 1474 943 1478 944 1481 941.5 C 1482 938.5 1480 936.5 1478.5 938.5 C 1478 942 1482 944.5 1486 942.5 C 1492 937 1499 926 1503.5 917 C 1505 913.5 1503 913 1501 916 C 1497 924 1493 933 1490.8 942.3 C 1496 941.5 1503 939.5 1508.5 937.5 C 1511 936.5 1510 935.5 1506 936 C 1500 937.5 1493 941 1487.9 945.2" fill="none" stroke="#111" stroke-width="1.5" stroke-linecap="round" stroke-linejoin="round"/>
<circle cx="49" cy="20" r="0.9" fill="#333"/>
<circle cx="95" cy="18" r="0.9" fill="#333"/>
<circle cx="16" cy="80" r="0.8" fill="#333"/>
<circle cx="14" cy="128" r="0.8" fill="#333"/>
<circle cx="13" cy="565" r="0.8" fill="#333"/>
<circle cx="16" cy="610" r="0.8" fill="#333"/>
<circle cx="10" cy="975" r="0.8" fill="#333"/>
<circle cx="16" cy="1022" r="0.8" fill="#333"/>
<circle cx="574" cy="37" r="0.6" fill="#333"/>
<circle cx="1522" cy="210" r="0.9" fill="#333"/>
<circle cx="1601" cy="4" r="0.7" fill="#333"/>
<circle cx="1623" cy="6" r="0.7" fill="#333"/>
<circle cx="639.5" cy="387" r="0.8" fill="#333"/>
<circle cx="673.5" cy="568.4" r="0.8" fill="#333"/>
<circle cx="403" cy="565.4" r="0.7" fill="#333"/>
<circle cx="249.8" cy="651.4" r="0.8" fill="#333"/>
<circle cx="1239" cy="593.3" r="0.6" fill="#333"/>
<circle cx="387.5" cy="230.7" r="0.8" fill="#333"/>
<circle cx="293" cy="171.8" r="0.6" fill="#333"/>
</svg></body></html>
